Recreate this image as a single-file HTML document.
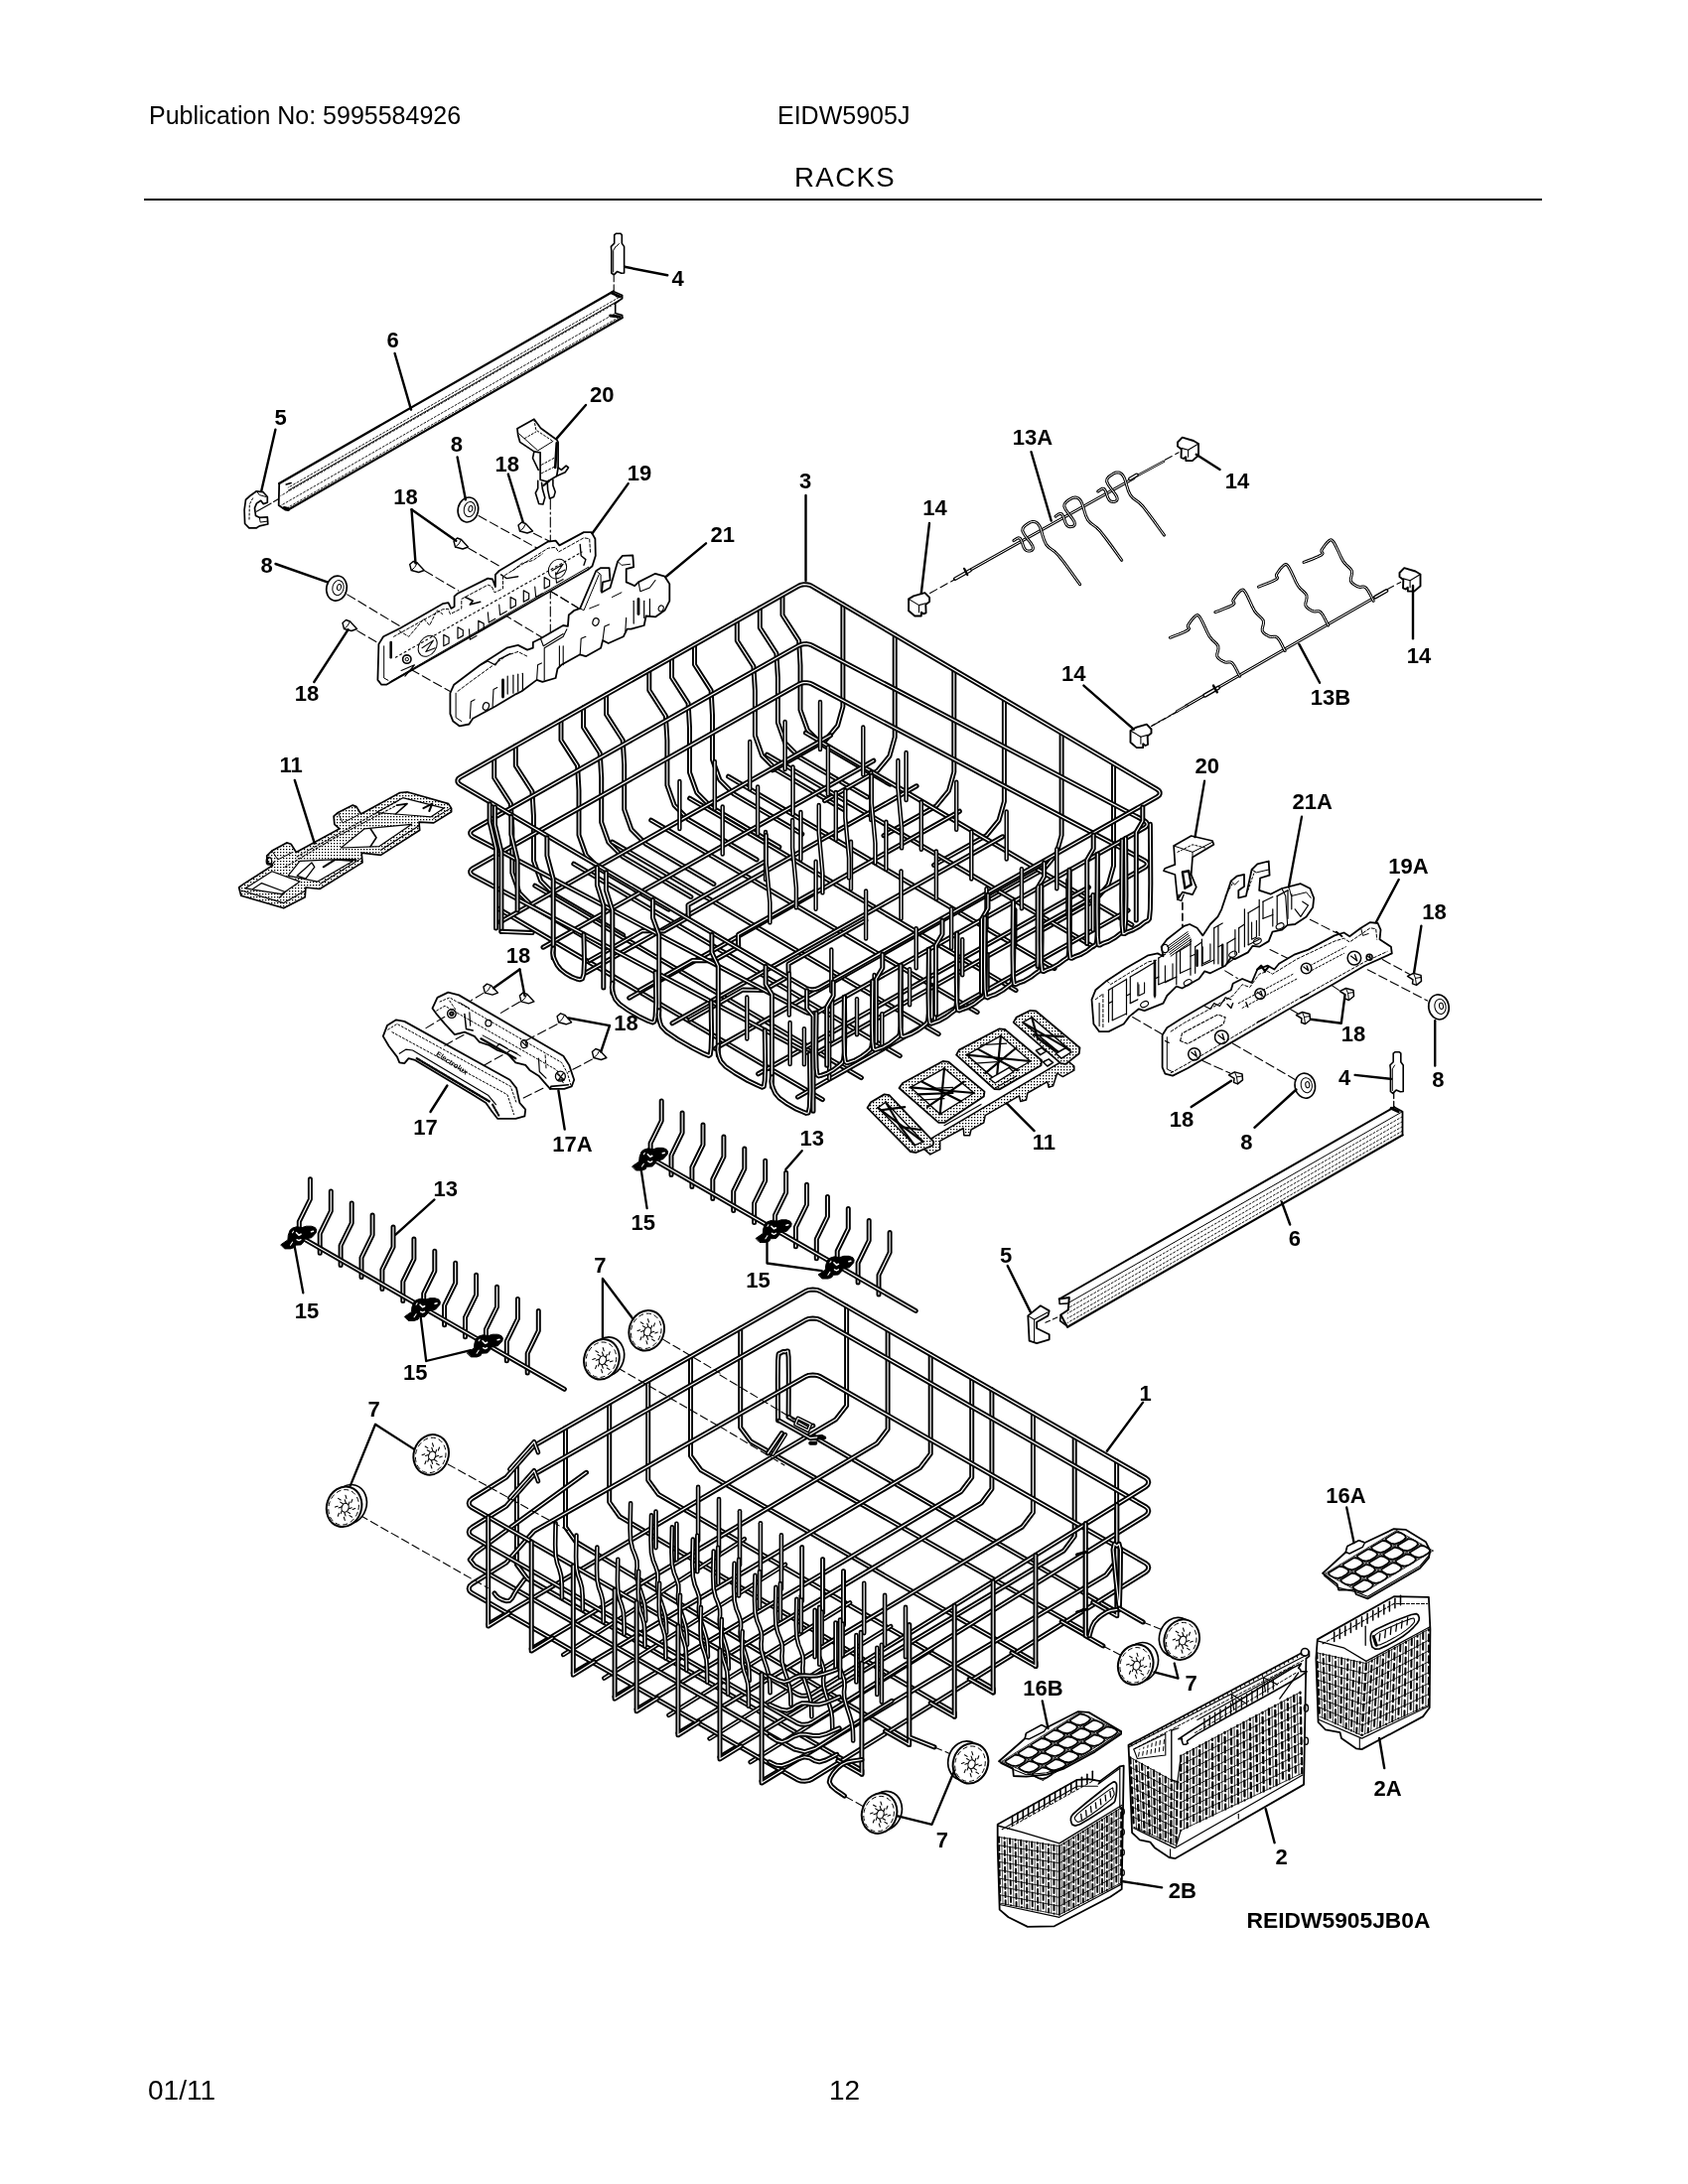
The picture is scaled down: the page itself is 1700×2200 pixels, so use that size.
<!DOCTYPE html>
<html lang="en"><head><meta charset="utf-8"><title>RACKS - EIDW5905J</title>
<style>
html,body{margin:0;padding:0;background:#fff}
body{width:1700px;height:2200px;position:relative;overflow:hidden;font-family:"Liberation Sans",sans-serif;color:#000}
.hd{will-change:transform;position:absolute;white-space:nowrap;font-size:25px;line-height:1}
#rule{position:absolute;left:145px;top:199.6px;width:1408px;height:2.4px;background:#000}
svg{position:absolute;left:0;top:0;will-change:transform}
svg path{stroke-linejoin:round;stroke-linecap:round}
svg text{font-family:"Liberation Sans",sans-serif;fill:#000}
svg text.lb{font-weight:bold}
svg text.bd{font-weight:bold}
</style></head><body>
<div class="hd" style="left:149.6px;top:103.5px">Publication No: 5995584926</div>
<div class="hd" style="left:783.3px;top:103.5px">EIDW5905J</div>
<div class="hd" style="left:799.8px;top:165.4px;font-size:27.6px;letter-spacing:1.4px">RACKS</div>
<div id="rule"></div>
<div class="hd" style="left:148.8px;top:2092px;font-size:28px">01/11</div>
<div class="hd" style="left:835.2px;top:2092px;font-size:28px">12</div>
<svg width="1700" height="2200" viewBox="0 0 1700 2200">
<defs><pattern id="ht" width="3" height="3" patternUnits="userSpaceOnUse"><rect width="3" height="3" fill="#fff"/><rect x="0" y="0" width="1.3" height="1.3" fill="#000"/></pattern></defs>
<path d="M617.7 293.5 281.2 487" fill="none" stroke="#000" stroke-width="2.2"/>
<path d="M626.7 297.7 290.2 491.2" fill="none" stroke="#000" stroke-width="0.9" stroke-dasharray="2 2"/>
<path d="M626.7 300.6 290.2 494.1" fill="none" stroke="#000" stroke-width="1"/>
<path d="M619.4 305.8 282.9 499.3" fill="none" stroke="#000" stroke-width="0.9" stroke-dasharray="2 2"/>
<path d="M619.4 315.7 282.9 509.2" fill="none" stroke="#000" stroke-width="0.9" stroke-dasharray="2 2"/>
<path d="M626.7 317.6 290.2 511.1" fill="none" stroke="#000" stroke-width="0.9" stroke-dasharray="2 2"/>
<path d="M626.7 320 290.2 513.5" fill="none" stroke="#000" stroke-width="2.2"/>
<path d="M617.7 293.5 626.7 297.5 626.7 300.6 619.7 305.5 619.7 315.5 626.7 317.5 626.7 320" fill="none" stroke="#000" stroke-width="1.6"/>
<path d="M615.7 295 624.7 299 620.7 298" fill="none" stroke="#000" stroke-width="2.5"/>
<path d="M614.7 318 623.7 319" fill="none" stroke="#000" stroke-width="3"/>
<path d="M281.2 487 280.7 509 287.2 513.5 290.7 514" fill="none" stroke="#000" stroke-width="1.8"/>
<path d="M286.2 511.5 290.2 512.5" fill="none" stroke="#000" stroke-width="3"/>
<path d="M288.2 488 293.2 486.5" fill="none" stroke="#000" stroke-width="1.5"/>
<path d="M618.7 236.6 620.6 235.2 624.8 235.2 626.3 236.6 626.3 245.1 628.6 248.4 628.6 275 625.8 275.3 621.5 273.6 618.2 276.9 615.8 275 615.8 252.7 615.4 248.4 618.7 245.1Z" fill="none" stroke="#000" stroke-width="1.6"/>
<path d="M620.1 248.4 617.7 252.2 617.7 274" fill="none" stroke="#000" stroke-width="1"/>
<path d="M620.6 248.4 623.4 245.6" fill="none" stroke="#000" stroke-width="1"/>
<path d="M618.2 277.8 618.2 294.9" fill="none" stroke="#000" stroke-width="1.1" stroke-dasharray="6 3"/>
<path d="M629.1 268.8 672.2 277.3" fill="none" stroke="#000" stroke-width="2.4"/>
<text class="lb" x="682.7" y="288.2" text-anchor="middle" font-size="22">4</text>
<path d="M247.5 503.3 251.8 499.5 258.4 494.8 265.1 495.7 269.3 500.5 269.3 506.2 265.1 507.6 262.7 504.3 258.4 507.1 256.5 511.8 257.5 519.4 261.3 521.3 269.3 520.9 269.8 528 261.3 529.9 258.4 531.8 250.9 531.8 246.6 527.5 246.1 513.7Z" fill="none" stroke="#000" stroke-width="1.7"/>
<path d="M254.6 501.9 251.3 508.1 251 523.2" fill="none" stroke="#000" stroke-width="1" stroke-dasharray="2 2"/>
<path d="M258.4 494.8 261.3 498.6 267.9 500.5" fill="none" stroke="#000" stroke-width="1"/>
<path d="M261.3 521.3 262.2 526.1 269.3 525.1" fill="none" stroke="#000" stroke-width="1"/>
<path d="M258.4 515.2 273.1 507.1" fill="none" stroke="#000" stroke-width="1.1"/>
<path d="M275.5 505.4 280.2 502.8" fill="none" stroke="#000" stroke-width="1.1"/>
<path d="M277.4 432.7 263.2 494.8" fill="none" stroke="#000" stroke-width="2.4"/>
<text class="lb" x="282.6" y="427.5" text-anchor="middle" font-size="22">5</text>
<path d="M397.6 356 414 412.6" fill="none" stroke="#000" stroke-width="2.4"/>
<text class="lb" x="395.5" y="349.7" text-anchor="middle" font-size="22">6</text>
<path d="M520.9 431.7 537.9 422.2 544.5 431.2 560.7 443 562.1 445.4 562.1 471 560.7 479.5 551.2 485.2 544.1 483.3 544.1 455.8 537.9 454.9 523.7 445.4 521.8 438.8Z" fill="none" stroke="#000" stroke-width="1.7"/>
<path d="M522.7 436.9 541.7 453.9 556.9 444.5" fill="none" stroke="#000" stroke-width="1"/>
<path d="M537.9 422.7 539.8 433.1 556.9 444.5" fill="none" stroke="#000" stroke-width="1" stroke-dasharray="2 2"/>
<path d="M528.4 441.6 539.8 435" fill="none" stroke="#000" stroke-width="1" stroke-dasharray="2 2"/>
<path d="M545.5 468.2 557.8 461.5" fill="none" stroke="#000" stroke-width="1" stroke-dasharray="2 2"/>
<path d="M545.5 476.7 558.8 470" fill="none" stroke="#000" stroke-width="1" stroke-dasharray="2 2"/>
<path d="M560.7 446.4 559.2 471" fill="none" stroke="#000" stroke-width="2.6"/>
<path d="M537.9 454.9 536.5 461.5 542.2 473.4" fill="none" stroke="#000" stroke-width="1.6"/>
<path d="M562.1 471 565.4 473.4 570.1 469.1 572.5 471 569.2 475.7 560.7 479.5" fill="none" stroke="#000" stroke-width="1.6"/>
<path d="M541.7 484.3 541.7 491.8 539.3 496.6 542.7 507.5 546.9 508 548.8 501.3 546.4 492.8 545.5 486.2" fill="none" stroke="#000" stroke-width="1.6"/>
<path d="M551.2 485.2 551.7 493.7 553.6 502.3 557.8 500.4 559.2 495.6 556.9 489 556.9 483.3" fill="none" stroke="#000" stroke-width="1.6"/>
<path d="M547.4 489 553.1 484.3" fill="none" stroke="#000" stroke-width="2.2"/>
<path d="M590 408 560.7 441.6" fill="none" stroke="#000" stroke-width="2.4"/>
<text class="lb" x="606.2" y="404.6" text-anchor="middle" font-size="22">20</text>
<path d="M554.3 503 554.3 646" fill="none" stroke="#000" stroke-width="1.1" stroke-dasharray="10 3 2 3"/>
<ellipse cx="471.4" cy="513.5" rx="10.2" ry="12.6" transform="rotate(12 471.4 513.5)" fill="none" stroke="#000" stroke-width="1.6"/>
<ellipse cx="472.9" cy="513" rx="5.6" ry="7.6" transform="rotate(12 472.9 513)" fill="none" stroke="#000" stroke-width="1"/>
<ellipse cx="473.9" cy="512.5" rx="2" ry="3.1" transform="rotate(12 473.9 512.5)" fill="none" stroke="#000" stroke-width="1"/>
<ellipse cx="339" cy="592.6" rx="10.2" ry="12.6" transform="rotate(12 339 592.6)" fill="none" stroke="#000" stroke-width="1.6"/>
<ellipse cx="340.5" cy="592.1" rx="5.6" ry="7.6" transform="rotate(12 340.5 592.1)" fill="none" stroke="#000" stroke-width="1"/>
<ellipse cx="341.5" cy="591.6" rx="2" ry="3.1" transform="rotate(12 341.5 591.6)" fill="none" stroke="#000" stroke-width="1"/>
<path d="M460.6 460.4 468.9 503.2" fill="none" stroke="#000" stroke-width="2.4"/>
<text class="lb" x="459.8" y="454.6" text-anchor="middle" font-size="22">8</text>
<path d="M277.5 568 329.7 586.3" fill="none" stroke="#000" stroke-width="2.4"/>
<text class="lb" x="268.5" y="577" text-anchor="middle" font-size="22">8</text>
<path d="M522 529 525.5 526 529.5 527.5 536.5 535 531 537 523.5 535Z" fill="none" stroke="#000" stroke-width="1.4"/>
<path d="M529.5 527.5 527 532 523.5 535" fill="none" stroke="#000" stroke-width="1"/>
<path d="M457 545 460.5 542 464.5 543.5 471.5 551 466 553 458.5 551Z" fill="none" stroke="#000" stroke-width="1.4"/>
<path d="M464.5 543.5 462 548 458.5 551" fill="none" stroke="#000" stroke-width="1"/>
<path d="M412.7 568.5 416.2 565.5 420.2 567 427.2 574.5 421.7 576.5 414.2 574.5Z" fill="none" stroke="#000" stroke-width="1.4"/>
<path d="M420.2 567 417.7 571.5 414.2 574.5" fill="none" stroke="#000" stroke-width="1"/>
<path d="M345 627.5 348.5 624.5 352.5 626 359.5 633.5 354 635.5 346.5 633.5Z" fill="none" stroke="#000" stroke-width="1.4"/>
<path d="M352.5 626 350 630.5 346.5 633.5" fill="none" stroke="#000" stroke-width="1"/>
<path d="M511.8 477.6 526.8 526" fill="none" stroke="#000" stroke-width="2.4"/>
<text class="lb" x="510.8" y="474.5" text-anchor="middle" font-size="22">18</text>
<path d="M414.5 513.3 459.3 544.8" fill="none" stroke="#000" stroke-width="2.4"/>
<path d="M414.5 513.3 418.5 567.4" fill="none" stroke="#000" stroke-width="2.4"/>
<text class="lb" x="408.5" y="507.8" text-anchor="middle" font-size="22">18</text>
<path d="M316.3 687 350.6 634.2" fill="none" stroke="#000" stroke-width="2.4"/>
<text class="lb" x="309" y="706" text-anchor="middle" font-size="22">18</text>
<path d="M349.8 598.9 406.4 632.9" fill="none" stroke="#000" stroke-width="1.1" stroke-dasharray="9 4"/>
<path d="M359.9 635.4 381.3 648" fill="none" stroke="#000" stroke-width="1.1" stroke-dasharray="9 4"/>
<path d="M482 519.6 552.5 558.6" fill="none" stroke="#000" stroke-width="1.1" stroke-dasharray="9 4"/>
<path d="M537.4 537.2 557.5 547.3" fill="none" stroke="#000" stroke-width="1.1" stroke-dasharray="9 4"/>
<path d="M471.9 552.3 504.6 571.2" fill="none" stroke="#000" stroke-width="1.1" stroke-dasharray="9 4"/>
<path d="M427.8 575 461.8 595.1" fill="none" stroke="#000" stroke-width="1.1" stroke-dasharray="9 4"/>
<path d="M414 674.4 454.3 697.1" fill="none" stroke="#000" stroke-width="1.1" stroke-dasharray="9 4"/>
<path d="M484.5 605.2 547.4 643" fill="none" stroke="#000" stroke-width="1.1" stroke-dasharray="9 4"/>
<path d="M553.7 595.1 582.7 612.7" fill="none" stroke="#000" stroke-width="1.1" stroke-dasharray="9 4"/>
<path d="M381.4 648.9 386.1 641.3 403.2 632.8 445.8 608.2 451.5 607.2 454.4 612.9 457.6 611 457.6 600.6 461 597.7 491.3 582.6 496.1 583.5 498.9 591.1 498.9 578.8 502.7 575 552 545.6 559.6 544.6 563.4 549.4 588 536.1 595.6 536.1 599.4 542.7 599.8 559.8 596.5 570.2 591.8 574 389 689.7 384.2 689.7 380.4 684.9Z" fill="#fff" stroke="#000" stroke-width="1.8"/>
<path d="M386.7 650.8 386.7 683 390.9 685.3" fill="none" stroke="#000" stroke-width="1"/>
<path d="M392.7 686.8 592.7 571.2" fill="none" stroke="#000" stroke-width="1"/>
<path d="M396.5 641.3 445.8 613.8 451.5 613.3 453.4 618.6 464.8 612.9 464.8 603.4 491.3 589.2 495.1 590.5 498 596.8 506.5 593 506.5 580.7 552 552.2 559.6 551.3 562.4 556 588 541.8 593.7 542.7 594.6 557.9" fill="none" stroke="#000" stroke-width="1" stroke-dasharray="3 2"/>
<path d="M398.4 662.2 586.1 556" fill="none" stroke="#000" stroke-width="1.1" stroke-dasharray="2 3"/>
<path d="M393.7 647 393.7 662.2" fill="none" stroke="#000" stroke-width="2.6"/>
<path d="M446.8 639.4 446.8 650.8 452.1 648 452.1 642.3Z" fill="none" stroke="#000" stroke-width="1.2"/>
<path d="M461 631.8 461 643.2 466.3 640.4 466.3 634.7Z" fill="none" stroke="#000" stroke-width="1.2"/>
<path d="M481.8 625.2 481.8 636.6 487.2 633.7 487.2 628.1Z" fill="none" stroke="#000" stroke-width="1.2"/>
<path d="M514.1 601.5 514.1 612.9 519.4 610 519.4 604.4Z" fill="none" stroke="#000" stroke-width="1.2"/>
<path d="M527.3 594.9 527.3 606.3 532.7 603.4 532.7 597.7Z" fill="none" stroke="#000" stroke-width="1.2"/>
<path d="M548.2 581.6 548.2 593 553.5 590.1 553.5 584.5Z" fill="none" stroke="#000" stroke-width="1.2"/>
<path d="M472.4 633.7 473.3 644.2 480 640.4" fill="none" stroke="#000" stroke-width="1.1"/>
<path d="M491.3 616.7 492.3 627.1 498.9 623.3" fill="none" stroke="#000" stroke-width="1.1"/>
<path d="M502.7 609.1 503.6 619.5 510.3 615.7" fill="none" stroke="#000" stroke-width="1.1"/>
<path d="M538.7 591.1 539.7 601.5 546.3 597.7" fill="none" stroke="#000" stroke-width="1.1"/>
<path d="M559.6 576.9 560.5 587.3 567.2 583.5" fill="none" stroke="#000" stroke-width="1.1"/>
<ellipse cx="409.8" cy="664.1" rx="4.2" ry="4.2" transform="rotate(0 409.8 664.1)" fill="none" stroke="#000" stroke-width="1.6"/>
<ellipse cx="409.8" cy="664.1" rx="1.7" ry="1.7" transform="rotate(0 409.8 664.1)" fill="none" stroke="#000" stroke-width="1"/>
<ellipse cx="430.7" cy="650.8" rx="8.5" ry="11.4" transform="rotate(35 430.7 650.8)" fill="none" stroke="#000" stroke-width="1"/>
<ellipse cx="561.5" cy="573.1" rx="8.5" ry="10.4" transform="rotate(35 561.5 573.1)" fill="none" stroke="#000" stroke-width="1"/>
<path d="M425 652.7 436.4 645.1 428.8 656.5 438.2 652.7" fill="none" stroke="#000" stroke-width="1.1"/>
<path d="M555.8 575 567.2 568.3 559.6 578.8 569.1 574" fill="none" stroke="#000" stroke-width="1.1"/>
<path d="M468.6 601.5 476.2 605.3 473.3 609.1 483.7 606.3" fill="none" stroke="#000" stroke-width="1.6"/>
<path d="M504.6 578.8 510.3 582.6 521.7 580.7" fill="none" stroke="#000" stroke-width="1.4"/>
<path d="M584.2 548.4 585.2 559.8 589.9 563.6 588 569.3" fill="none" stroke="#000" stroke-width="1.4"/>
<path d="M402.2 635.6 411.7 641.3 426.9 623.3 432.6 630 440.1 614.8 445.8 618.6" fill="none" stroke="#000" stroke-width="1" stroke-dasharray="3 2"/>
<path d="M516 575 525.5 567.4 536.8 564.5 546.3 557.9" fill="none" stroke="#000" stroke-width="1" stroke-dasharray="3 2"/>
<path d="M404.1 675.5 417.4 669.8 407.9 681.1" fill="none" stroke="#000" stroke-width="1.2"/>
<path d="M632.7 487.1 596.5 537.2" fill="none" stroke="#000" stroke-width="2.4"/>
<text class="lb" x="644" y="483.8" text-anchor="middle" font-size="22">19</text>
<path d="M453.4 698.2 457.2 689.7 472.4 678.3 483.7 669.8 510.3 652.7 521.7 649.9 531.1 654.6 536.8 652.7 536.8 647 544.4 643.2 567.2 630 571.9 630.9 572.8 619.5 578.5 614.8 584.2 612.9 600.3 575 605.1 572.1 613.6 572.1 614.5 584.5 607 586.4 606 596.8 614.5 592 622.1 565.5 626.9 559.8 637.3 559.4 638.2 571.2 630.7 573.1 630.7 586.4 639.2 590.1 643 586.4 660 577.8 669.5 580.7 674.3 588.2 674.3 605.3 669.5 614.8 660 621.4 650.6 620.5 648.7 630 635.4 633.7 631.6 633.7 627.8 641.3 612.7 648 607 645.1 605.1 652.7 589.9 661.2 584.2 659.3 565.3 669.8 561.5 673.6 559.6 683 546.3 686.8 540.6 684.9 525.5 696.3 519.8 699.1 498.9 711.5 476.2 723.8 472.4 729.5 462.9 731.4 456.3 726.6 453.4 719.1Z" fill="#fff" stroke="#000" stroke-width="1.8"/>
<path d="M459.1 698.2 459.1 722.8 464.8 726.6" fill="none" stroke="#000" stroke-width="1"/>
<path d="M461 696.3 476.2 684.9 510.3 660.3 521.7 656.5 531.1 661.2" fill="none" stroke="#000" stroke-width="1" stroke-dasharray="3 2"/>
<path d="M473.3 723.8 474.3 706.7 478.1 704.8" fill="none" stroke="#000" stroke-width="1.1"/>
<path d="M496.1 711.5 497 694.4 500.8 692.5" fill="none" stroke="#000" stroke-width="1.1"/>
<path d="M506.5 684.9 506.5 702" fill="none" stroke="#000" stroke-width="2.8"/>
<path d="M511.2 681.1 511.2 699.1" fill="none" stroke="#000" stroke-width="1.2"/>
<path d="M516.9 680.2 516.9 698.2" fill="none" stroke="#000" stroke-width="1.2"/>
<path d="M521.7 679.2 521.7 696.3" fill="none" stroke="#000" stroke-width="1.2"/>
<path d="M526.4 678.3 526.4 695.4" fill="none" stroke="#000" stroke-width="1.2"/>
<path d="M540.6 684.9 541.6 669.8 545.4 667.9" fill="none" stroke="#000" stroke-width="1.1"/>
<path d="M548.2 684.9 548.2 652.7 567.2 641.3 570.9 633.7" fill="none" stroke="#000" stroke-width="1.1"/>
<path d="M563.4 671.7 563.4 650.8" fill="none" stroke="#000" stroke-width="1.1"/>
<path d="M567.2 669.8 567.2 650.8" fill="none" stroke="#000" stroke-width="1.1"/>
<path d="M584.2 659.3 585.2 643.2 589.9 641.3" fill="none" stroke="#000" stroke-width="1.1"/>
<path d="M607 645.1 608.9 630.9 613.6 629" fill="none" stroke="#000" stroke-width="1.1"/>
<path d="M629.7 637.5 630.7 622.4" fill="none" stroke="#000" stroke-width="1.1"/>
<path d="M643 603.4 643 618.6" fill="none" stroke="#000" stroke-width="2.8"/>
<path d="M638.2 605.3 638.2 628.1" fill="none" stroke="#000" stroke-width="1.2"/>
<path d="M648.7 605.3 648.7 622.4" fill="none" stroke="#000" stroke-width="1.2"/>
<path d="M654.4 603.4 654.4 620.5" fill="none" stroke="#000" stroke-width="1.2"/>
<path d="M643 586.4 644.9 595.8 654.4 592 660 584.5" fill="none" stroke="#000" stroke-width="1.1"/>
<ellipse cx="489.4" cy="711.5" rx="3" ry="3.8" transform="rotate(20 489.4 711.5)" fill="none" stroke="#000" stroke-width="1.2"/>
<ellipse cx="600" cy="626.5" rx="3" ry="3.8" transform="rotate(20 600 626.5)" fill="none" stroke="#000" stroke-width="1.2"/>
<ellipse cx="665.7" cy="612.9" rx="2.5" ry="3" transform="rotate(20 665.7 612.9)" fill="none" stroke="#000" stroke-width="1"/>
<path d="M600.3 575 605.1 578.8 605.1 595.8" fill="none" stroke="#000" stroke-width="1"/>
<path d="M622.1 565.5 625.9 569.3 634.5 568.3" fill="none" stroke="#000" stroke-width="1"/>
<path d="M584.2 612.9 588 614.8 603.2 578.8" fill="none" stroke="#000" stroke-width="1"/>
<path d="M483.7 669.8 491.3 666 498.9 669.8 502.7 664.1 514.1 658.4" fill="none" stroke="#000" stroke-width="1.3"/>
<path d="M544.4 643.2 547.3 650.8 567.2 638.5" fill="none" stroke="#000" stroke-width="1.1"/>
<path d="M593.7 612.9 603.2 609.1" fill="none" stroke="#000" stroke-width="1"/>
<path d="M616.4 601.5 625.9 596.8" fill="none" stroke="#000" stroke-width="1"/>
<path d="M711 547.3 671.2 580.5" fill="none" stroke="#000" stroke-width="2.4"/>
<text class="lb" x="727.8" y="546.3" text-anchor="middle" font-size="22">21</text>
<path d="M553.7 595.1 582.7 612.7" fill="none" stroke="#000" stroke-width="1.1" stroke-dasharray="9 4"/>
<path d="M978.1 573.6 1141.8 481.7" fill="none" stroke="#000" stroke-width="3"/>
<path d="M978.1 573.6 1141.8 481.7" fill="none" stroke="#fff" stroke-width="1"/>
<path d="M1143 480.4 1172 464.8" fill="none" stroke="#000" stroke-width="2.4"/>
<path d="M1143 480.4 1172 464.8" fill="none" stroke="#fff" stroke-width="0.8"/>
<path d="M961.8 583.1 976.9 574.6" fill="none" stroke="#000" stroke-width="3.8"/>
<path d="M961.8 583.1 976.9 574.6" fill="none" stroke="#fff" stroke-width="1.4"/>
<path d="M971.1 572.8 974.3 579.1" fill="none" stroke="#000" stroke-width="2.2"/>
<path d="M1138 482.4 1144.8 478.4" fill="none" stroke="#000" stroke-width="3.8"/>
<path d="M1138 482.4 1144.8 478.4" fill="none" stroke="#fff" stroke-width="1.4"/>
<path d="M1020.9 544.6 1022.1 543.8 1023.7 542.7 1025.6 541.8 1027.2 542.1 1028.5 544.2 1029.7 547.5 1030.9 551 1032.2 553.4 1033.8 554.6 1035.6 555.1 1037.3 555.1 1038.5 554.7 1039.5 554.1 1040.2 553.2 1040.4 551.8 1039.8 549.7 1037.7 546.4 1034.4 542.3 1031.4 538 1029.7 534.6 1030.2 532 1031.9 529.9 1034.1 528.3 1036 527 1037.6 526.1 1039.2 525.6 1040.8 525.5 1042.3 525.7 1043.6 526.3 1044.8 527.1 1046 528.5 1047.4 530.8 1048.7 534.4 1050 539.2 1051.6 544.1 1053.6 548.4 1056.1 551.3 1059 553.4 1062.3 555.8 1066.2 559.7 1071.5 566.4 1077.7 574.9 1083.6 583.1 1087.6 588.7" fill="none" stroke="#000" stroke-width="3"/>
<path d="M1020.9 544.6 1022.1 543.8 1023.7 542.7 1025.6 541.8 1027.2 542.1 1028.5 544.2 1029.7 547.5 1030.9 551 1032.2 553.4 1033.8 554.6 1035.6 555.1 1037.3 555.1 1038.5 554.7 1039.5 554.1 1040.2 553.2 1040.4 551.8 1039.8 549.7 1037.7 546.4 1034.4 542.3 1031.4 538 1029.7 534.6 1030.2 532 1031.9 529.9 1034.1 528.3 1036 527 1037.6 526.1 1039.2 525.6 1040.8 525.5 1042.3 525.7 1043.6 526.3 1044.8 527.1 1046 528.5 1047.4 530.8 1048.7 534.4 1050 539.2 1051.6 544.1 1053.6 548.4 1056.1 551.3 1059 553.4 1062.3 555.8 1066.2 559.7 1071.5 566.4 1077.7 574.9 1083.6 583.1 1087.6 588.7" fill="none" stroke="#fff" stroke-width="1"/>
<path d="M1063 520.2 1064.1 519.4 1065.8 518.2 1067.6 517.4 1069.3 517.7 1070.6 519.8 1071.8 523.1 1073 526.6 1074.3 529 1075.9 530.2 1077.7 530.7 1079.3 530.6 1080.6 530.3 1081.5 529.7 1082.2 528.8 1082.4 527.4 1081.8 525.2 1079.7 522 1076.5 517.8 1073.4 513.6 1071.8 510.1 1072.2 507.6 1073.9 505.5 1076.1 503.8 1078.1 502.6 1079.7 501.7 1081.3 501.2 1082.9 501 1084.4 501.3 1085.7 501.8 1086.9 502.7 1088.1 504.1 1089.4 506.4 1090.7 510 1092.1 514.8 1093.6 519.7 1095.7 524 1098.2 526.8 1101 528.9 1104.4 531.4 1108.3 535.3 1113.5 542 1119.8 550.5 1125.6 558.6 1129.7 564.3" fill="none" stroke="#000" stroke-width="3"/>
<path d="M1063 520.2 1064.1 519.4 1065.8 518.2 1067.6 517.4 1069.3 517.7 1070.6 519.8 1071.8 523.1 1073 526.6 1074.3 529 1075.9 530.2 1077.7 530.7 1079.3 530.6 1080.6 530.3 1081.5 529.7 1082.2 528.8 1082.4 527.4 1081.8 525.2 1079.7 522 1076.5 517.8 1073.4 513.6 1071.8 510.1 1072.2 507.6 1073.9 505.5 1076.1 503.8 1078.1 502.6 1079.7 501.7 1081.3 501.2 1082.9 501 1084.4 501.3 1085.7 501.8 1086.9 502.7 1088.1 504.1 1089.4 506.4 1090.7 510 1092.1 514.8 1093.6 519.7 1095.7 524 1098.2 526.8 1101 528.9 1104.4 531.4 1108.3 535.3 1113.5 542 1119.8 550.5 1125.6 558.6 1129.7 564.3" fill="none" stroke="#fff" stroke-width="1"/>
<path d="M1105.8 495 1106.9 494.2 1108.6 493.1 1110.4 492.2 1112.1 492.5 1113.4 494.6 1114.6 497.9 1115.8 501.4 1117.1 503.8 1118.7 505 1120.5 505.5 1122.1 505.5 1123.4 505.1 1124.3 504.5 1125 503.6 1125.2 502.2 1124.6 500.1 1122.5 496.8 1119.3 492.7 1116.2 488.4 1114.6 485 1115 482.4 1116.7 480.3 1118.9 478.7 1120.9 477.4 1122.5 476.5 1124.1 476 1125.7 475.9 1127.2 476.1 1128.5 476.7 1129.7 477.5 1130.9 478.9 1132.2 481.2 1133.5 484.8 1134.9 489.6 1136.4 494.5 1138.5 498.8 1141 501.7 1143.8 503.8 1147.2 506.2 1151.1 510.1 1156.3 516.8 1162.6 525.3 1168.4 533.5 1172.5 539.1" fill="none" stroke="#000" stroke-width="3"/>
<path d="M1105.8 495 1106.9 494.2 1108.6 493.1 1110.4 492.2 1112.1 492.5 1113.4 494.6 1114.6 497.9 1115.8 501.4 1117.1 503.8 1118.7 505 1120.5 505.5 1122.1 505.5 1123.4 505.1 1124.3 504.5 1125 503.6 1125.2 502.2 1124.6 500.1 1122.5 496.8 1119.3 492.7 1116.2 488.4 1114.6 485 1115 482.4 1116.7 480.3 1118.9 478.7 1120.9 477.4 1122.5 476.5 1124.1 476 1125.7 475.9 1127.2 476.1 1128.5 476.7 1129.7 477.5 1130.9 478.9 1132.2 481.2 1133.5 484.8 1134.9 489.6 1136.4 494.5 1138.5 498.8 1141 501.7 1143.8 503.8 1147.2 506.2 1151.1 510.1 1156.3 516.8 1162.6 525.3 1168.4 533.5 1172.5 539.1" fill="none" stroke="#fff" stroke-width="1"/>
<path d="M1207 447 1202 444 1190.7 440.7 1186 445.5 1186 449.6 1189.8 452.6 1189.5 460.9 1191.9 462 1194.3 460.3 1194.3 464.1 1200.8 464.1 1207 458.8Z" fill="#fff" stroke="#000" stroke-width="1.9"/>
<path d="M1207 447 1196.6 453.2 1189.8 451.4" fill="none" stroke="#000" stroke-width="1.1"/>
<path d="M1196.6 453.2 1196.6 460.3" fill="none" stroke="#000" stroke-width="1.1"/>
<path d="M915.1 603.4 920.1 600.4 931.4 597.1 936.1 601.9 936.1 606 932.3 609 932.6 617.3 930.2 618.4 927.8 616.7 927.8 620.5 921.3 620.5 915.1 615.2Z" fill="#fff" stroke="#000" stroke-width="1.9"/>
<path d="M915.1 603.4 925.5 609.6 932.3 607.8" fill="none" stroke="#000" stroke-width="1.1"/>
<path d="M925.5 609.6 925.5 616.7" fill="none" stroke="#000" stroke-width="1.1"/>
<path d="M1138.5 736 1143.5 733 1154.8 729.7 1159.5 734.5 1159.5 738.6 1155.7 741.6 1156 749.9 1153.6 751 1151.2 749.3 1151.2 753.1 1144.7 753.1 1138.5 747.8Z" fill="#fff" stroke="#000" stroke-width="1.9"/>
<path d="M1138.5 736 1148.9 742.2 1155.7 740.4" fill="none" stroke="#000" stroke-width="1.1"/>
<path d="M1148.9 742.2 1148.9 749.3" fill="none" stroke="#000" stroke-width="1.1"/>
<path d="M1173.2 463.3 1187.1 455.8" fill="none" stroke="#000" stroke-width="1.1" stroke-dasharray="8 4"/>
<path d="M936.6 597.5 961.8 583.6" fill="none" stroke="#000" stroke-width="1.1" stroke-dasharray="8 4"/>
<path d="M1160.6 730.9 1185.8 717.1" fill="none" stroke="#000" stroke-width="1.1" stroke-dasharray="8 4"/>
<path d="M1204.7 457.8 1228.6 472.9" fill="none" stroke="#000" stroke-width="2.4"/>
<text class="lb" x="1246" y="491.8" text-anchor="middle" font-size="22">14</text>
<path d="M936 527 927.8 597.5" fill="none" stroke="#000" stroke-width="2.4"/>
<text class="lb" x="941.5" y="519.4" text-anchor="middle" font-size="22">14</text>
<path d="M1038.5 455.2 1058.7 524.5" fill="none" stroke="#000" stroke-width="2.4"/>
<text class="lb" x="1040" y="448.2" text-anchor="middle" font-size="22">13A</text>
<path d="M1091.4 690.6 1141.8 734.7" fill="none" stroke="#000" stroke-width="2.4"/>
<text class="lb" x="1081.3" y="686.4" text-anchor="middle" font-size="22">14</text>
<path d="M1194.5 711.1 1395.5 595.5" fill="none" stroke="#000" stroke-width="3"/>
<path d="M1194.5 711.1 1395.5 595.5" fill="none" stroke="#fff" stroke-width="1"/>
<path d="M1185.1 716.6 1195.5 710.7" fill="none" stroke="#000" stroke-width="2.6"/>
<path d="M1185.1 716.6 1195.5 710.7" fill="none" stroke="#fff" stroke-width="0.8"/>
<path d="M1213.5 700.5 1226.8 692.9" fill="none" stroke="#000" stroke-width="4.4"/>
<path d="M1213.5 700.5 1226.8 692.9" fill="none" stroke="#fff" stroke-width="1.6"/>
<path d="M1222 690.6 1225.8 697.3" fill="none" stroke="#000" stroke-width="2.4"/>
<path d="M1385.1 601.5 1396.4 595.1" fill="none" stroke="#000" stroke-width="4"/>
<path d="M1385.1 601.5 1396.4 595.1" fill="none" stroke="#fff" stroke-width="1.4"/>
<path d="M1248.6 681.1 1247.2 678.5 1245.3 674.6 1243.1 670.6 1241 667.9 1239.1 666.9 1237.2 666.9 1235.3 667.2 1233.4 666.9 1231.3 665.9 1229.1 664.7 1227.1 663.1 1225.8 661.2 1225.7 658.9 1226.4 656.3 1227 653.5 1226.8 650.8 1225.3 648.6 1223.2 646.6 1220.7 644.3 1218.2 641.3 1215.8 636.9 1213.3 631.4 1210.8 626.1 1208.8 622.4 1207.3 620.4 1206.3 619.6 1205.3 619.7 1204 620.5 1202.2 622.2 1199.9 624.8 1197.9 627.6 1196.4 630 1196.3 631.4 1197.1 632.4 1197.5 633.4 1196.4 634.7 1192.8 636.6 1187.4 638.8 1182.1 640.8 1178.4 642.3" fill="none" stroke="#000" stroke-width="3"/>
<path d="M1248.6 681.1 1247.2 678.5 1245.3 674.6 1243.1 670.6 1241 667.9 1239.1 666.9 1237.2 666.9 1235.3 667.2 1233.4 666.9 1231.3 665.9 1229.1 664.7 1227.1 663.1 1225.8 661.2 1225.7 658.9 1226.4 656.3 1227 653.5 1226.8 650.8 1225.3 648.6 1223.2 646.6 1220.7 644.3 1218.2 641.3 1215.8 636.9 1213.3 631.4 1210.8 626.1 1208.8 622.4 1207.3 620.4 1206.3 619.6 1205.3 619.7 1204 620.5 1202.2 622.2 1199.9 624.8 1197.9 627.6 1196.4 630 1196.3 631.4 1197.1 632.4 1197.5 633.4 1196.4 634.7 1192.8 636.6 1187.4 638.8 1182.1 640.8 1178.4 642.3" fill="none" stroke="#fff" stroke-width="1"/>
<path d="M1294.1 655.5 1292.7 652.9 1290.8 649 1288.6 645 1286.5 642.3 1284.6 641.3 1282.7 641.3 1280.8 641.6 1278.9 641.3 1276.8 640.3 1274.6 639.1 1272.6 637.5 1271.3 635.6 1271.2 633.3 1271.9 630.7 1272.5 627.9 1272.3 625.2 1270.8 623 1268.7 621 1266.2 618.7 1263.7 615.7 1261.3 611.3 1258.8 605.8 1256.3 600.5 1254.3 596.8 1252.8 594.8 1251.8 594.1 1250.8 594.2 1249.5 594.9 1247.7 596.6 1245.4 599.2 1243.4 602.1 1241.9 604.4 1241.8 605.8 1242.6 606.8 1243 607.8 1241.9 609.1 1238.3 611 1232.9 613.2 1227.6 615.3 1223.9 616.7" fill="none" stroke="#000" stroke-width="3"/>
<path d="M1294.1 655.5 1292.7 652.9 1290.8 649 1288.6 645 1286.5 642.3 1284.6 641.3 1282.7 641.3 1280.8 641.6 1278.9 641.3 1276.8 640.3 1274.6 639.1 1272.6 637.5 1271.3 635.6 1271.2 633.3 1271.9 630.7 1272.5 627.9 1272.3 625.2 1270.8 623 1268.7 621 1266.2 618.7 1263.7 615.7 1261.3 611.3 1258.8 605.8 1256.3 600.5 1254.3 596.8 1252.8 594.8 1251.8 594.1 1250.8 594.2 1249.5 594.9 1247.7 596.6 1245.4 599.2 1243.4 602.1 1241.9 604.4 1241.8 605.8 1242.6 606.8 1243 607.8 1241.9 609.1 1238.3 611 1232.9 613.2 1227.6 615.3 1223.9 616.7" fill="none" stroke="#fff" stroke-width="1"/>
<path d="M1337.7 630 1336.3 627.3 1334.4 623.4 1332.2 619.4 1330.1 616.7 1328.2 615.7 1326.3 615.7 1324.4 616 1322.5 615.7 1320.4 614.8 1318.2 613.5 1316.2 611.9 1314.9 610 1314.8 607.8 1315.5 605.1 1316.1 602.3 1315.9 599.6 1314.4 597.4 1312.3 595.4 1309.8 593.2 1307.3 590.1 1304.9 585.7 1302.4 580.2 1299.9 574.9 1297.9 571.2 1296.4 569.2 1295.4 568.5 1294.4 568.6 1293.1 569.3 1291.3 571 1289 573.6 1287 576.5 1285.5 578.8 1285.4 580.2 1286.2 581.3 1286.6 582.2 1285.5 583.5 1281.9 585.4 1276.5 587.6 1271.2 589.7 1267.5 591.1" fill="none" stroke="#000" stroke-width="3"/>
<path d="M1337.7 630 1336.3 627.3 1334.4 623.4 1332.2 619.4 1330.1 616.7 1328.2 615.7 1326.3 615.7 1324.4 616 1322.5 615.7 1320.4 614.8 1318.2 613.5 1316.2 611.9 1314.9 610 1314.8 607.8 1315.5 605.1 1316.1 602.3 1315.9 599.6 1314.4 597.4 1312.3 595.4 1309.8 593.2 1307.3 590.1 1304.9 585.7 1302.4 580.2 1299.9 574.9 1297.9 571.2 1296.4 569.2 1295.4 568.5 1294.4 568.6 1293.1 569.3 1291.3 571 1289 573.6 1287 576.5 1285.5 578.8 1285.4 580.2 1286.2 581.3 1286.6 582.2 1285.5 583.5 1281.9 585.4 1276.5 587.6 1271.2 589.7 1267.5 591.1" fill="none" stroke="#fff" stroke-width="1"/>
<path d="M1383.2 605.3 1381.8 602.6 1379.9 598.7 1377.7 594.8 1375.6 592 1373.7 591 1371.8 591.1 1369.9 591.4 1368 591.1 1365.9 590.1 1363.7 588.8 1361.7 587.3 1360.4 585.4 1360.3 583.1 1361 580.4 1361.6 577.6 1361.4 575 1359.9 572.8 1357.8 570.8 1355.3 568.5 1352.8 565.5 1350.4 561 1347.9 555.5 1345.4 550.3 1343.4 546.5 1341.9 544.6 1340.9 543.8 1339.9 543.9 1338.6 544.6 1336.8 546.3 1334.5 549 1332.5 551.8 1331 554.1 1330.9 555.6 1331.7 556.6 1332.1 557.6 1331 558.9 1327.4 560.7 1322 563 1316.7 565 1313 566.4" fill="none" stroke="#000" stroke-width="3"/>
<path d="M1383.2 605.3 1381.8 602.6 1379.9 598.7 1377.7 594.8 1375.6 592 1373.7 591 1371.8 591.1 1369.9 591.4 1368 591.1 1365.9 590.1 1363.7 588.8 1361.7 587.3 1360.4 585.4 1360.3 583.1 1361 580.4 1361.6 577.6 1361.4 575 1359.9 572.8 1357.8 570.8 1355.3 568.5 1352.8 565.5 1350.4 561 1347.9 555.5 1345.4 550.3 1343.4 546.5 1341.9 544.6 1340.9 543.8 1339.9 543.9 1338.6 544.6 1336.8 546.3 1334.5 549 1332.5 551.8 1331 554.1 1330.9 555.6 1331.7 556.6 1332.1 557.6 1331 558.9 1327.4 560.7 1322 563 1316.7 565 1313 566.4" fill="none" stroke="#fff" stroke-width="1"/>
<path d="M1430.5 578.5 1425.5 575.5 1414.2 572.2 1409.5 577 1409.5 581.1 1413.3 584.1 1413 592.4 1415.4 593.5 1417.8 591.8 1417.8 595.6 1424.3 595.6 1430.5 590.3Z" fill="#fff" stroke="#000" stroke-width="1.9"/>
<path d="M1430.5 578.5 1420.1 584.7 1413.3 582.9" fill="none" stroke="#000" stroke-width="1.1"/>
<path d="M1420.1 584.7 1420.1 591.8" fill="none" stroke="#000" stroke-width="1.1"/>
<path d="M1396.4 593.9 1410.7 586.4" fill="none" stroke="#000" stroke-width="1.1" stroke-dasharray="8 4"/>
<path d="M1184.1 717.5 1159.5 731.4" fill="none" stroke="#000" stroke-width="1.1" stroke-dasharray="8 4"/>
<path d="M1423 590 1423 643.2" fill="none" stroke="#000" stroke-width="2.4"/>
<text class="lb" x="1429" y="667.9" text-anchor="middle" font-size="22">14</text>
<path d="M1308.3 648.9 1329.1 687.8" fill="none" stroke="#000" stroke-width="2.4"/>
<text class="lb" x="1340" y="709.6" text-anchor="middle" font-size="22">13B</text>
<path d="M497.7 763.5 497.7 783.5 514.3 809.3 515.8 834.1 515.8 879.1 523 899.4 537.4 913.9 606 954.2" fill="none" stroke="#000" stroke-width="5"/>
<path d="M497.7 763.5 497.7 783.5 514.3 809.3 515.8 834.1 515.8 879.1 523 899.4 537.4 913.9 606 954.2" fill="none" stroke="#fff" stroke-width="1.2"/>
<path d="M519.3 751.3 519.3 771.3 535.9 797.1 537.4 821.9 537.4 866.9 544.6 887.2 559 901.7 627.6 942" fill="none" stroke="#000" stroke-width="5"/>
<path d="M519.3 751.3 519.3 771.3 535.9 797.1 537.4 821.9 537.4 866.9 544.6 887.2 559 901.7 627.6 942" fill="none" stroke="#fff" stroke-width="1.2"/>
<path d="M565 725.5 565 745.5 581.6 771.3 583 796.1 583 841.1 590.2 861.4 604.7 875.9 673.3 916.2" fill="none" stroke="#000" stroke-width="5"/>
<path d="M565 725.5 565 745.5 581.6 771.3 583 796.1 583 841.1 590.2 861.4 604.7 875.9 673.3 916.2" fill="none" stroke="#fff" stroke-width="1.2"/>
<path d="M587.6 712.7 587.6 732.7 604.2 758.5 605.7 783.3 605.7 828.3 612.9 848.6 627.3 863.1 695.9 903.5" fill="none" stroke="#000" stroke-width="5"/>
<path d="M587.6 712.7 587.6 732.7 604.2 758.5 605.7 783.3 605.7 828.3 612.9 848.6 627.3 863.1 695.9 903.5" fill="none" stroke="#fff" stroke-width="1.2"/>
<path d="M610.6 699.7 610.6 719.7 627.2 745.5 628.7 770.3 628.7 815.3 635.9 835.6 650.3 850.1 718.9 890.5" fill="none" stroke="#000" stroke-width="5"/>
<path d="M610.6 699.7 610.6 719.7 627.2 745.5 628.7 770.3 628.7 815.3 635.9 835.6 650.3 850.1 718.9 890.5" fill="none" stroke="#fff" stroke-width="1.2"/>
<path d="M653.8 675.3 653.8 695.3 670.4 721.1 671.9 745.9 671.9 790.9 679.1 811.2 693.5 825.7 762.1 866" fill="none" stroke="#000" stroke-width="5"/>
<path d="M653.8 675.3 653.8 695.3 670.4 721.1 671.9 745.9 671.9 790.9 679.1 811.2 693.5 825.7 762.1 866" fill="none" stroke="#fff" stroke-width="1.2"/>
<path d="M676.5 662.5 676.5 682.5 693.1 708.3 694.5 733.1 694.5 778.1 701.8 798.4 716.2 812.9 784.8 853.2" fill="none" stroke="#000" stroke-width="5"/>
<path d="M676.5 662.5 676.5 682.5 693.1 708.3 694.5 733.1 694.5 778.1 701.8 798.4 716.2 812.9 784.8 853.2" fill="none" stroke="#fff" stroke-width="1.2"/>
<path d="M699.5 649.5 699.5 669.5 716.1 695.3 717.5 720.1 717.5 765.1 724.8 785.4 739.2 799.9 807.8 840.2" fill="none" stroke="#000" stroke-width="5"/>
<path d="M699.5 649.5 699.5 669.5 716.1 695.3 717.5 720.1 717.5 765.1 724.8 785.4 739.2 799.9 807.8 840.2" fill="none" stroke="#fff" stroke-width="1.2"/>
<path d="M742.3 625.3 742.3 645.3 758.9 671.1 760.4 695.9 760.4 740.9 767.6 761.2 782 775.7 850.6 816" fill="none" stroke="#000" stroke-width="5"/>
<path d="M742.3 625.3 742.3 645.3 758.9 671.1 760.4 695.9 760.4 740.9 767.6 761.2 782 775.7 850.6 816" fill="none" stroke="#fff" stroke-width="1.2"/>
<path d="M765.3 612.3 765.3 632.3 781.9 658.1 783.4 682.9 783.4 727.9 790.6 748.2 805 762.7 873.6 803" fill="none" stroke="#000" stroke-width="5"/>
<path d="M765.3 612.3 765.3 632.3 781.9 658.1 783.4 682.9 783.4 727.9 790.6 748.2 805 762.7 873.6 803" fill="none" stroke="#fff" stroke-width="1.2"/>
<path d="M788 599.5 788 619.5 804.6 645.3 806 670.1 806 715.1 813.3 735.4 827.7 749.9 896.3 790.2" fill="none" stroke="#000" stroke-width="5"/>
<path d="M788 599.5 788 619.5 804.6 645.3 806 670.1 806 715.1 813.3 735.4 827.7 749.9 896.3 790.2" fill="none" stroke="#fff" stroke-width="1.2"/>
<path d="M848.9 608.8 848.9 711.8 843.6 730.8 831.2 745.8 778.1 775.8" fill="none" stroke="#000" stroke-width="5"/>
<path d="M848.9 608.8 848.9 711.8 843.6 730.8 831.2 745.8 778.1 775.8" fill="none" stroke="#fff" stroke-width="1.2"/>
<path d="M901.2 639.6 901.2 742.6 895.9 761.6 883.5 776.6 830.5 806.6" fill="none" stroke="#000" stroke-width="5"/>
<path d="M901.2 639.6 901.2 742.6 895.9 761.6 883.5 776.6 830.5 806.6" fill="none" stroke="#fff" stroke-width="1.2"/>
<path d="M960.8 674.7 960.8 777.7 955.5 796.7 943.1 811.7 890 841.7" fill="none" stroke="#000" stroke-width="5"/>
<path d="M960.8 674.7 960.8 777.7 955.5 796.7 943.1 811.7 890 841.7" fill="none" stroke="#fff" stroke-width="1.2"/>
<path d="M1011.4 704.4 1011.4 807.4 1006 826.4 993.7 841.4 940.6 871.4" fill="none" stroke="#000" stroke-width="5"/>
<path d="M1011.4 704.4 1011.4 807.4 1006 826.4 993.7 841.4 940.6 871.4" fill="none" stroke="#fff" stroke-width="1.2"/>
<path d="M1069.1 738.4 1069.1 841.4 1063.8 860.4 1051.4 875.4 998.3 905.4" fill="none" stroke="#000" stroke-width="5"/>
<path d="M1069.1 738.4 1069.1 841.4 1063.8 860.4 1051.4 875.4 998.3 905.4" fill="none" stroke="#fff" stroke-width="1.2"/>
<path d="M1121.5 769.2 1121.5 872.2 1116.2 891.2 1103.8 906.2 1050.7 936.2" fill="none" stroke="#000" stroke-width="5"/>
<path d="M1121.5 769.2 1121.5 872.2 1116.2 891.2 1103.8 906.2 1050.7 936.2" fill="none" stroke="#fff" stroke-width="1.2"/>
<path d="M499.9 914.2 828.4 1107.6" fill="none" stroke="#000" stroke-width="5"/>
<path d="M499.9 914.2 828.4 1107.6" fill="none" stroke="#fff" stroke-width="1.2"/>
<path d="M538.8 892.2 867.4 1085.6" fill="none" stroke="#000" stroke-width="5"/>
<path d="M538.8 892.2 867.4 1085.6" fill="none" stroke="#fff" stroke-width="1.2"/>
<path d="M577.8 870.2 906.3 1063.6" fill="none" stroke="#000" stroke-width="5"/>
<path d="M577.8 870.2 906.3 1063.6" fill="none" stroke="#fff" stroke-width="1.2"/>
<path d="M616.7 848.2 945.2 1041.6" fill="none" stroke="#000" stroke-width="5"/>
<path d="M616.7 848.2 945.2 1041.6" fill="none" stroke="#fff" stroke-width="1.2"/>
<path d="M655.7 826.2 984.2 1019.6" fill="none" stroke="#000" stroke-width="5"/>
<path d="M655.7 826.2 984.2 1019.6" fill="none" stroke="#fff" stroke-width="1.2"/>
<path d="M694.6 804.2 1023.1 997.6" fill="none" stroke="#000" stroke-width="5"/>
<path d="M694.6 804.2 1023.1 997.6" fill="none" stroke="#fff" stroke-width="1.2"/>
<path d="M733.5 782.2 1062 975.6" fill="none" stroke="#000" stroke-width="5"/>
<path d="M733.5 782.2 1062 975.6" fill="none" stroke="#fff" stroke-width="1.2"/>
<path d="M772.5 760.2 1101 953.6" fill="none" stroke="#000" stroke-width="5"/>
<path d="M772.5 760.2 1101 953.6" fill="none" stroke="#fff" stroke-width="1.2"/>
<path d="M811.4 738.2 1139.9 931.6" fill="none" stroke="#000" stroke-width="5"/>
<path d="M811.4 738.2 1139.9 931.6" fill="none" stroke="#fff" stroke-width="1.2"/>
<path d="M503.7 928.8 836.5 740.8" fill="none" stroke="#000" stroke-width="5"/>
<path d="M503.7 928.8 836.5 740.8" fill="none" stroke="#fff" stroke-width="1.2"/>
<path d="M547 954.2 879.8 766.2" fill="none" stroke="#000" stroke-width="5"/>
<path d="M547 954.2 879.8 766.2" fill="none" stroke="#fff" stroke-width="1.2"/>
<path d="M590.4 979.8 923.1 791.8" fill="none" stroke="#000" stroke-width="5"/>
<path d="M590.4 979.8 923.1 791.8" fill="none" stroke="#fff" stroke-width="1.2"/>
<path d="M633.7 1005.2 966.4 817.2" fill="none" stroke="#000" stroke-width="5"/>
<path d="M633.7 1005.2 966.4 817.2" fill="none" stroke="#fff" stroke-width="1.2"/>
<path d="M677 1030.8 1009.8 842.8" fill="none" stroke="#000" stroke-width="5"/>
<path d="M677 1030.8 1009.8 842.8" fill="none" stroke="#fff" stroke-width="1.2"/>
<path d="M720.3 1056.2 1053.1 868.2" fill="none" stroke="#000" stroke-width="5"/>
<path d="M720.3 1056.2 1053.1 868.2" fill="none" stroke="#fff" stroke-width="1.2"/>
<path d="M763.6 1081.8 1096.4 893.8" fill="none" stroke="#000" stroke-width="5"/>
<path d="M763.6 1081.8 1096.4 893.8" fill="none" stroke="#fff" stroke-width="1.2"/>
<path d="M803.4 1105.1 1136.1 917.1" fill="none" stroke="#000" stroke-width="5"/>
<path d="M803.4 1105.1 1136.1 917.1" fill="none" stroke="#fff" stroke-width="1.2"/>
<path d="M593.8 967.6 646.9 937.6 668.4 938 693.2 924 693 911.6 770.8 867.6" fill="none" stroke="#000" stroke-width="5"/>
<path d="M593.8 967.6 646.9 937.6 668.4 938 693.2 924 693 911.6 770.8 867.6" fill="none" stroke="#fff" stroke-width="1.2"/>
<path d="M644.4 997.4 697.5 967.4 718.9 967.8 743.7 953.8 743.5 941.4 821.4 897.4" fill="none" stroke="#000" stroke-width="5"/>
<path d="M644.4 997.4 697.5 967.4 718.9 967.8 743.7 953.8 743.5 941.4 821.4 897.4" fill="none" stroke="#fff" stroke-width="1.2"/>
<path d="M694.9 1027.1 748 997.1 769.5 997.5 794.2 983.5 794 971.1 871.9 927.1" fill="none" stroke="#000" stroke-width="5"/>
<path d="M694.9 1027.1 748 997.1 769.5 997.5 794.2 983.5 794 971.1 871.9 927.1" fill="none" stroke="#fff" stroke-width="1.2"/>
<path d="M1152.6 866.7 1154.3 867.9 1155.2 869.4 1155.3 871 1154.4 872.5 1152.8 873.8 824.2 1059.4 822 1060.3 819.3 1060.8 816.4 1060.8 813.7 1060.4 811.4 1059.5 476.4 881.8 474.7 880.6 473.8 879.1 473.7 877.5 474.6 876 476.2 874.7 804.8 689.1 807 688.2 809.7 687.7 812.6 687.7 815.3 688.1 817.6 689Z" fill="none" stroke="#000" stroke-width="5"/>
<path d="M1152.6 866.7 1154.3 867.9 1155.2 869.4 1155.3 871 1154.4 872.5 1152.8 873.8 824.2 1059.4 822 1060.3 819.3 1060.8 816.4 1060.8 813.7 1060.4 811.4 1059.5 476.4 881.8 474.7 880.6 473.8 879.1 473.7 877.5 474.6 876 476.2 874.7 804.8 689.1 807 688.2 809.7 687.7 812.6 687.7 815.3 688.1 817.6 689Z" fill="none" stroke="#fff" stroke-width="1.2"/>
<path d="M1152.6 826.7 1154.3 828 1155.2 829.4 1155.3 831 1154.4 832.5 1152.8 833.8 824.2 1019.4 822 1020.3 819.3 1020.8 816.4 1020.9 813.7 1020.4 811.4 1019.5 476.4 842.8 474.7 841.5 473.8 840.1 473.7 838.5 474.6 837 476.2 835.7 804.8 650.1 807 649.2 809.7 648.7 812.6 648.6 815.3 649.1 817.6 650Z" fill="none" stroke="#000" stroke-width="5"/>
<path d="M1152.6 826.7 1154.3 828 1155.2 829.4 1155.3 831 1154.4 832.5 1152.8 833.8 824.2 1019.4 822 1020.3 819.3 1020.8 816.4 1020.9 813.7 1020.4 811.4 1019.5 476.4 842.8 474.7 841.5 473.8 840.1 473.7 838.5 474.6 837 476.2 835.7 804.8 650.1 807 649.2 809.7 648.7 812.6 648.6 815.3 649.1 817.6 650Z" fill="none" stroke="#fff" stroke-width="1.2"/>
<path d="M1165.5 795.2 1167.2 796.5 1168.1 798.1 1168.1 799.8 1167.3 801.3 1165.6 802.6 824.4 995.4 822.1 996.3 819.4 996.8 816.5 996.7 813.8 996.2 811.5 995.2 463.5 790.3 461.8 789 460.9 787.4 460.9 785.7 461.7 784.2 463.4 782.9 804.6 590.1 806.9 589.2 809.6 588.7 812.5 588.8 815.2 589.3 817.5 590.3Z" fill="none" stroke="#000" stroke-width="5"/>
<path d="M1165.5 795.2 1167.2 796.5 1168.1 798.1 1168.1 799.8 1167.3 801.3 1165.6 802.6 824.4 995.4 822.1 996.3 819.4 996.8 816.5 996.7 813.8 996.2 811.5 995.2 463.5 790.3 461.8 789 460.9 787.4 460.9 785.7 461.7 784.2 463.4 782.9 804.6 590.1 806.9 589.2 809.6 588.7 812.5 588.8 815.2 589.3 817.5 590.3Z" fill="none" stroke="#fff" stroke-width="1.2"/>
<path d="M684.4 835 684.4 787" fill="none" stroke="#000" stroke-width="4.4"/>
<path d="M684.4 835 684.4 787" fill="none" stroke="#fff" stroke-width="1.2"/>
<path d="M727.7 860.5 727.7 812.5" fill="none" stroke="#000" stroke-width="4.4"/>
<path d="M727.7 860.5 727.7 812.5" fill="none" stroke="#fff" stroke-width="1.2"/>
<path d="M771 886 771 838" fill="none" stroke="#000" stroke-width="4.4"/>
<path d="M771 886 771 838" fill="none" stroke="#fff" stroke-width="1.2"/>
<path d="M821.6 915.8 821.6 867.8" fill="none" stroke="#000" stroke-width="4.4"/>
<path d="M821.6 915.8 821.6 867.8" fill="none" stroke="#fff" stroke-width="1.2"/>
<path d="M872.1 945.5 872.1 897.5" fill="none" stroke="#000" stroke-width="4.4"/>
<path d="M872.1 945.5 872.1 897.5" fill="none" stroke="#fff" stroke-width="1.2"/>
<path d="M922.7 975.2 922.7 935.2" fill="none" stroke="#000" stroke-width="4.4"/>
<path d="M922.7 975.2 922.7 935.2" fill="none" stroke="#fff" stroke-width="1.2"/>
<path d="M719.8 815 719.8 767" fill="none" stroke="#000" stroke-width="4.4"/>
<path d="M719.8 815 719.8 767" fill="none" stroke="#fff" stroke-width="1.2"/>
<path d="M763.1 840.5 763.1 792.5" fill="none" stroke="#000" stroke-width="4.4"/>
<path d="M763.1 840.5 763.1 792.5" fill="none" stroke="#fff" stroke-width="1.2"/>
<path d="M806.4 866 806.4 818" fill="none" stroke="#000" stroke-width="4.4"/>
<path d="M806.4 866 806.4 818" fill="none" stroke="#fff" stroke-width="1.2"/>
<path d="M857 895.8 857 847.8" fill="none" stroke="#000" stroke-width="4.4"/>
<path d="M857 895.8 857 847.8" fill="none" stroke="#fff" stroke-width="1.2"/>
<path d="M907.5 925.5 907.5 877.5" fill="none" stroke="#000" stroke-width="4.4"/>
<path d="M907.5 925.5 907.5 877.5" fill="none" stroke="#fff" stroke-width="1.2"/>
<path d="M958.1 955.2 958.1 915.2" fill="none" stroke="#000" stroke-width="4.4"/>
<path d="M958.1 955.2 958.1 915.2" fill="none" stroke="#fff" stroke-width="1.2"/>
<path d="M755.2 795 755.2 747" fill="none" stroke="#000" stroke-width="4.4"/>
<path d="M755.2 795 755.2 747" fill="none" stroke="#fff" stroke-width="1.2"/>
<path d="M798.5 820.5 798.5 772.5" fill="none" stroke="#000" stroke-width="4.4"/>
<path d="M798.5 820.5 798.5 772.5" fill="none" stroke="#fff" stroke-width="1.2"/>
<path d="M841.8 846 841.8 798" fill="none" stroke="#000" stroke-width="4.4"/>
<path d="M841.8 846 841.8 798" fill="none" stroke="#fff" stroke-width="1.2"/>
<path d="M892.4 875.8 892.4 827.8" fill="none" stroke="#000" stroke-width="4.4"/>
<path d="M892.4 875.8 892.4 827.8" fill="none" stroke="#fff" stroke-width="1.2"/>
<path d="M942.9 905.5 942.9 857.5" fill="none" stroke="#000" stroke-width="4.4"/>
<path d="M942.9 905.5 942.9 857.5" fill="none" stroke="#fff" stroke-width="1.2"/>
<path d="M993.5 935.2 993.5 895.2" fill="none" stroke="#000" stroke-width="4.4"/>
<path d="M993.5 935.2 993.5 895.2" fill="none" stroke="#fff" stroke-width="1.2"/>
<path d="M790.6 775 790.6 727" fill="none" stroke="#000" stroke-width="4.4"/>
<path d="M790.6 775 790.6 727" fill="none" stroke="#fff" stroke-width="1.2"/>
<path d="M833.9 800.5 833.9 752.5" fill="none" stroke="#000" stroke-width="4.4"/>
<path d="M833.9 800.5 833.9 752.5" fill="none" stroke="#fff" stroke-width="1.2"/>
<path d="M877.2 826 877.2 778" fill="none" stroke="#000" stroke-width="4.4"/>
<path d="M877.2 826 877.2 778" fill="none" stroke="#fff" stroke-width="1.2"/>
<path d="M927.8 855.8 927.8 807.8" fill="none" stroke="#000" stroke-width="4.4"/>
<path d="M927.8 855.8 927.8 807.8" fill="none" stroke="#fff" stroke-width="1.2"/>
<path d="M978.3 885.5 978.3 837.5" fill="none" stroke="#000" stroke-width="4.4"/>
<path d="M978.3 885.5 978.3 837.5" fill="none" stroke="#fff" stroke-width="1.2"/>
<path d="M1028.9 915.2 1028.9 875.2" fill="none" stroke="#000" stroke-width="4.4"/>
<path d="M1028.9 915.2 1028.9 875.2" fill="none" stroke="#fff" stroke-width="1.2"/>
<path d="M826 755 826 707" fill="none" stroke="#000" stroke-width="4.4"/>
<path d="M826 755 826 707" fill="none" stroke="#fff" stroke-width="1.2"/>
<path d="M869.3 780.5 869.3 732.5" fill="none" stroke="#000" stroke-width="4.4"/>
<path d="M869.3 780.5 869.3 732.5" fill="none" stroke="#fff" stroke-width="1.2"/>
<path d="M912.6 806 912.6 758" fill="none" stroke="#000" stroke-width="4.4"/>
<path d="M912.6 806 912.6 758" fill="none" stroke="#fff" stroke-width="1.2"/>
<path d="M963.2 835.8 963.2 787.8" fill="none" stroke="#000" stroke-width="4.4"/>
<path d="M963.2 835.8 963.2 787.8" fill="none" stroke="#fff" stroke-width="1.2"/>
<path d="M1013.7 865.5 1013.7 817.5" fill="none" stroke="#000" stroke-width="4.4"/>
<path d="M1013.7 865.5 1013.7 817.5" fill="none" stroke="#fff" stroke-width="1.2"/>
<path d="M1064.3 895.2 1064.3 855.2" fill="none" stroke="#000" stroke-width="4.4"/>
<path d="M1064.3 895.2 1064.3 855.2" fill="none" stroke="#fff" stroke-width="1.2"/>
<path d="M752.3 1046.5 752.3 1004.5" fill="none" stroke="#000" stroke-width="4.4"/>
<path d="M752.3 1046.5 752.3 1004.5" fill="none" stroke="#fff" stroke-width="1.2"/>
<path d="M795.6 1072 795.6 1030" fill="none" stroke="#000" stroke-width="4.4"/>
<path d="M795.6 1072 795.6 1030" fill="none" stroke="#fff" stroke-width="1.2"/>
<path d="M794.8 1022.5 794.8 980.5" fill="none" stroke="#000" stroke-width="4.4"/>
<path d="M794.8 1022.5 794.8 980.5" fill="none" stroke="#fff" stroke-width="1.2"/>
<path d="M838.1 1048 838.1 1006" fill="none" stroke="#000" stroke-width="4.4"/>
<path d="M838.1 1048 838.1 1006" fill="none" stroke="#fff" stroke-width="1.2"/>
<path d="M837.3 998.5 837.3 956.5" fill="none" stroke="#000" stroke-width="4.4"/>
<path d="M837.3 998.5 837.3 956.5" fill="none" stroke="#fff" stroke-width="1.2"/>
<path d="M880.6 1024 880.6 982" fill="none" stroke="#000" stroke-width="4.4"/>
<path d="M880.6 1024 880.6 982" fill="none" stroke="#fff" stroke-width="1.2"/>
<path d="M809.9 1072.2 809.9 1036.2" fill="none" stroke="#000" stroke-width="4.4"/>
<path d="M809.9 1072.2 809.9 1036.2" fill="none" stroke="#fff" stroke-width="1.2"/>
<path d="M835.2 1087.1 835.2 1051.1" fill="none" stroke="#000" stroke-width="4.4"/>
<path d="M835.2 1087.1 835.2 1051.1" fill="none" stroke="#fff" stroke-width="1.2"/>
<path d="M863 1042.2 863 1006.2" fill="none" stroke="#000" stroke-width="4.4"/>
<path d="M863 1042.2 863 1006.2" fill="none" stroke="#fff" stroke-width="1.2"/>
<path d="M888.3 1057.1 888.3 1021.1" fill="none" stroke="#000" stroke-width="4.4"/>
<path d="M888.3 1057.1 888.3 1021.1" fill="none" stroke="#fff" stroke-width="1.2"/>
<path d="M916.1 1012.2 916.1 976.2" fill="none" stroke="#000" stroke-width="4.4"/>
<path d="M916.1 1012.2 916.1 976.2" fill="none" stroke="#fff" stroke-width="1.2"/>
<path d="M941.4 1027.1 941.4 991.1" fill="none" stroke="#000" stroke-width="4.4"/>
<path d="M941.4 1027.1 941.4 991.1" fill="none" stroke="#fff" stroke-width="1.2"/>
<path d="M969.2 982.2 969.2 946.2" fill="none" stroke="#000" stroke-width="4.4"/>
<path d="M969.2 982.2 969.2 946.2" fill="none" stroke="#fff" stroke-width="1.2"/>
<path d="M994.5 997.1 994.5 961.1" fill="none" stroke="#000" stroke-width="4.4"/>
<path d="M994.5 997.1 994.5 961.1" fill="none" stroke="#fff" stroke-width="1.2"/>
<path d="M1022.3 952.2 1022.3 916.2" fill="none" stroke="#000" stroke-width="4.4"/>
<path d="M1022.3 952.2 1022.3 916.2" fill="none" stroke="#fff" stroke-width="1.2"/>
<path d="M1047.6 967.1 1047.6 931.1" fill="none" stroke="#000" stroke-width="4.4"/>
<path d="M1047.6 967.1 1047.6 931.1" fill="none" stroke="#fff" stroke-width="1.2"/>
<path d="M1075.4 922.2 1075.4 886.2" fill="none" stroke="#000" stroke-width="4.4"/>
<path d="M1075.4 922.2 1075.4 886.2" fill="none" stroke="#fff" stroke-width="1.2"/>
<path d="M1100.7 937.1 1100.7 901.1" fill="none" stroke="#000" stroke-width="4.4"/>
<path d="M1100.7 937.1 1100.7 901.1" fill="none" stroke="#fff" stroke-width="1.2"/>
<path d="M775.4 929.4 775.4 909.4 771.6 869 771.6 841" fill="none" stroke="#000" stroke-width="4.4"/>
<path d="M775.4 929.4 775.4 909.4 771.6 869 771.6 841" fill="none" stroke="#fff" stroke-width="1.2"/>
<path d="M801.9 914.4 801.9 894.4 798.1 854 798.1 826" fill="none" stroke="#000" stroke-width="4.4"/>
<path d="M801.9 914.4 801.9 894.4 798.1 854 798.1 826" fill="none" stroke="#fff" stroke-width="1.2"/>
<path d="M828.4 899.4 828.4 879.4 824.7 839 824.7 811" fill="none" stroke="#000" stroke-width="4.4"/>
<path d="M828.4 899.4 828.4 879.4 824.7 839 824.7 811" fill="none" stroke="#fff" stroke-width="1.2"/>
<path d="M855 884.4 855 864.4 851.3 824 851.3 796" fill="none" stroke="#000" stroke-width="4.4"/>
<path d="M855 884.4 855 864.4 851.3 824 851.3 796" fill="none" stroke="#fff" stroke-width="1.2"/>
<path d="M881.5 869.4 881.5 849.4 877.8 809 877.8 781" fill="none" stroke="#000" stroke-width="4.4"/>
<path d="M881.5 869.4 881.5 849.4 877.8 809 877.8 781" fill="none" stroke="#fff" stroke-width="1.2"/>
<path d="M908.1 854.4 908.1 834.4 904.4 794 904.4 766" fill="none" stroke="#000" stroke-width="4.4"/>
<path d="M908.1 854.4 908.1 834.4 904.4 794 904.4 766" fill="none" stroke="#fff" stroke-width="1.2"/>
<path d="M493.1 809.8 493.1 827.8 499.5 854.9 499.5 935.1" fill="none" stroke="#000" stroke-width="5"/>
<path d="M493.1 809.8 493.1 827.8 499.5 854.9 499.5 935.1" fill="none" stroke="#fff" stroke-width="1.2"/>
<path d="M498.5 812.9 498.5 830.9 504.9 857.8 504.9 938.3" fill="none" stroke="#000" stroke-width="5"/>
<path d="M498.5 812.9 498.5 830.9 504.9 857.8 504.9 938.3" fill="none" stroke="#fff" stroke-width="1.2"/>
<path d="M514.8 822.5 514.8 840.5 521.1 866.4 521.1 916.9" fill="none" stroke="#000" stroke-width="5"/>
<path d="M514.8 822.5 514.8 840.5 521.1 866.4 521.1 916.9" fill="none" stroke="#fff" stroke-width="1.2"/>
<path d="M550.9 843.8 550.9 861.8 557.2 885.4 557.2 965.1" fill="none" stroke="#000" stroke-width="5"/>
<path d="M550.9 843.8 550.9 861.8 557.2 885.4 557.2 965.1" fill="none" stroke="#fff" stroke-width="1.2"/>
<path d="M601.4 873.5 601.4 891.5 607.8 912.1 607.8 994.9" fill="none" stroke="#000" stroke-width="5"/>
<path d="M601.4 873.5 601.4 891.5 607.8 912.1 607.8 994.9" fill="none" stroke="#fff" stroke-width="1.2"/>
<path d="M610.4 878.8 610.4 896.8 616.8 916.9 616.8 1000.2" fill="none" stroke="#000" stroke-width="5"/>
<path d="M610.4 878.8 610.4 896.8 616.8 916.9 616.8 1000.2" fill="none" stroke="#fff" stroke-width="1.2"/>
<path d="M657.4 906.4 657.4 924.4 663.7 941.6 663.7 1027.8" fill="none" stroke="#000" stroke-width="5"/>
<path d="M657.4 906.4 657.4 924.4 663.7 941.6 663.7 1027.8" fill="none" stroke="#fff" stroke-width="1.2"/>
<path d="M716.9 941.5 716.9 959.5 723.3 973.1 723.3 1062.9" fill="none" stroke="#000" stroke-width="5"/>
<path d="M716.9 941.5 716.9 959.5 723.3 973.1 723.3 1062.9" fill="none" stroke="#fff" stroke-width="1.2"/>
<path d="M771.1 973.4 771.1 991.4 777.4 1001.6 777.4 1094.8" fill="none" stroke="#000" stroke-width="5"/>
<path d="M771.1 973.4 771.1 991.4 777.4 1001.6 777.4 1094.8" fill="none" stroke="#fff" stroke-width="1.2"/>
<path d="M812.6 997.8 812.6 1015.8 819 1023.5 819 1119.2" fill="none" stroke="#000" stroke-width="5"/>
<path d="M812.6 997.8 812.6 1015.8 819 1023.5 819 1119.2" fill="none" stroke="#fff" stroke-width="1.2"/>
<path d="M504.9 938.3 536.1 939.6" fill="none" stroke="#000" stroke-width="5"/>
<path d="M504.9 938.3 536.1 939.6" fill="none" stroke="#fff" stroke-width="1.2"/>
<path d="M557.2 955.1 557 957 556.7 959.8 557.2 963.1 558.8 967.3 561.1 972.1 564.5 976.4 569.5 980.4 575.6 984 580.7 986 584 986.8 586.4 986 587.9 981.2 588.5 968.9 588.2 952.7 587.9 941" fill="none" stroke="#000" stroke-width="5"/>
<path d="M557.2 955.1 557 957 556.7 959.8 557.2 963.1 558.8 967.3 561.1 972.1 564.5 976.4 569.5 980.4 575.6 984 580.7 986 584 986.8 586.4 986 587.9 981.2 588.5 968.9 588.2 952.7 587.9 941" fill="none" stroke="#fff" stroke-width="1.2"/>
<path d="M616.8 990.2 616.5 992.1 616.3 994.9 616.8 998.2 617.9 1002.1 619.7 1006.6 624 1011.5 632.8 1017.7 644.1 1024.3 652.9 1028.5 657.2 1030 659 1029 660.1 1023.7 660.7 1010.2 660.4 992.3 660.1 979.3" fill="none" stroke="#000" stroke-width="5"/>
<path d="M616.8 990.2 616.5 992.1 616.3 994.9 616.8 998.2 617.9 1002.1 619.7 1006.6 624 1011.5 632.8 1017.7 644.1 1024.3 652.9 1028.5 657.2 1030 659 1029 660.1 1023.7 660.7 1010.2 660.4 992.3 660.1 979.3" fill="none" stroke="#fff" stroke-width="1.2"/>
<path d="M663.7 1017.8 663.5 1019.7 663.2 1022.5 663.7 1025.8 664.5 1029.5 666 1033.8 670.9 1039.1 682.4 1046.9 697.4 1055.6 708.9 1061.4 713.8 1063.4 715.3 1062.4 716.1 1056.7 716.6 1042.2 716.3 1022.9 716.1 1008.9" fill="none" stroke="#000" stroke-width="5"/>
<path d="M663.7 1017.8 663.5 1019.7 663.2 1022.5 663.7 1025.8 664.5 1029.5 666 1033.8 670.9 1039.1 682.4 1046.9 697.4 1055.6 708.9 1061.4 713.8 1063.4 715.3 1062.4 716.1 1056.7 716.6 1042.2 716.3 1022.9 716.1 1008.9" fill="none" stroke="#fff" stroke-width="1.2"/>
<path d="M723.3 1052.9 723 1054.8 722.8 1057.5 723.3 1060.9 724.2 1064.7 726 1069.1 730.5 1074.2 740.4 1081 753.1 1088.5 763 1093.3 767.5 1095.2 769.3 1094.4 770.2 1088.5 770.8 1073.1 770.5 1052.6 770.2 1037.7" fill="none" stroke="#000" stroke-width="5"/>
<path d="M723.3 1052.9 723 1054.8 722.8 1057.5 723.3 1060.9 724.2 1064.7 726 1069.1 730.5 1074.2 740.4 1081 753.1 1088.5 763 1093.3 767.5 1095.2 769.3 1094.4 770.2 1088.5 770.8 1073.1 770.5 1052.6 770.2 1037.7" fill="none" stroke="#fff" stroke-width="1.2"/>
<path d="M777.4 1084.8 777.2 1086.7 776.9 1089.4 777.4 1092.8 778.7 1096.8 780.8 1101.4 784.7 1106 791.9 1111.3 800.9 1116.6 808.1 1119.8 812 1121.4 814.1 1121 815.3 1115.1 815.9 1098.9 815.6 1077.3 815.3 1061.6" fill="none" stroke="#000" stroke-width="5"/>
<path d="M777.4 1084.8 777.2 1086.7 776.9 1089.4 777.4 1092.8 778.7 1096.8 780.8 1101.4 784.7 1106 791.9 1111.3 800.9 1116.6 808.1 1119.8 812 1121.4 814.1 1121 815.3 1115.1 815.9 1098.9 815.6 1077.3 815.3 1061.6" fill="none" stroke="#fff" stroke-width="1.2"/>
<path d="M839.2 989 839.2 1003 832.7 1014.2 832.7 1073.2" fill="none" stroke="#000" stroke-width="5"/>
<path d="M839.2 989 839.2 1003 832.7 1014.2 832.7 1073.2" fill="none" stroke="#fff" stroke-width="1.2"/>
<path d="M888.8 961 888.8 975 882.3 986.2 882.3 1050" fill="none" stroke="#000" stroke-width="5"/>
<path d="M888.8 961 888.8 975 882.3 986.2 882.3 1050" fill="none" stroke="#fff" stroke-width="1.2"/>
<path d="M949 927 949 941 942.5 952.2 942.5 1021.8" fill="none" stroke="#000" stroke-width="5"/>
<path d="M949 927 949 941 942.5 952.2 942.5 1021.8" fill="none" stroke="#fff" stroke-width="1.2"/>
<path d="M995 901 995 915 988.5 926.2 988.5 1000.2" fill="none" stroke="#000" stroke-width="5"/>
<path d="M995 901 995 915 988.5 926.2 988.5 1000.2" fill="none" stroke="#fff" stroke-width="1.2"/>
<path d="M1051.6 869 1051.6 883 1045.1 894.2 1045.1 973.6" fill="none" stroke="#000" stroke-width="5"/>
<path d="M1051.6 869 1051.6 883 1045.1 894.2 1045.1 973.6" fill="none" stroke="#fff" stroke-width="1.2"/>
<path d="M1101.2 841 1101.2 855 1094.7 866.2 1094.7 950.4" fill="none" stroke="#000" stroke-width="5"/>
<path d="M1101.2 841 1101.2 855 1094.7 866.2 1094.7 950.4" fill="none" stroke="#fff" stroke-width="1.2"/>
<path d="M1150.8 813 1150.8 827 1144.3 838.2 1144.3 927.1" fill="none" stroke="#000" stroke-width="5"/>
<path d="M1150.8 813 1150.8 827 1144.3 838.2 1144.3 927.1" fill="none" stroke="#fff" stroke-width="1.2"/>
<path d="M822.1 1020.2 821.9 1036.5 821.7 1059.1 822.1 1076.2 823 1082.8 824.5 1083.9 827.4 1083.2 832.9 1081.2 839.7 1077.4 845.1 1073.2 848 1070.7 849.5 1067.8 850.4 1060.2 850.8 1042.6 850.6 1020.3 850.4 1004.2" fill="none" stroke="#000" stroke-width="5"/>
<path d="M822.1 1020.2 821.9 1036.5 821.7 1059.1 822.1 1076.2 823 1082.8 824.5 1083.9 827.4 1083.2 832.9 1081.2 839.7 1077.4 845.1 1073.2 848 1070.7 849.5 1067.8 850.4 1060.2 850.8 1042.6 850.6 1020.3 850.4 1004.2" fill="none" stroke="#fff" stroke-width="1.2"/>
<path d="M850.4 1004.2 850.2 1021.3 850 1045 850.4 1062.9 851.4 1069.7 852.9 1070.8 855.8 1069.9 861.2 1068 868 1064.1 873.5 1059.9 876.3 1057.5 877.8 1054.7 878.8 1046.9 879.2 1028.5 879 1005.1 878.8 988.2" fill="none" stroke="#000" stroke-width="5"/>
<path d="M850.4 1004.2 850.2 1021.3 850 1045 850.4 1062.9 851.4 1069.7 852.9 1070.8 855.8 1069.9 861.2 1068 868 1064.1 873.5 1059.9 876.3 1057.5 877.8 1054.7 878.8 1046.9 879.2 1028.5 879 1005.1 878.8 988.2" fill="none" stroke="#fff" stroke-width="1.2"/>
<path d="M878.8 988.2 878.6 1006.1 878.4 1030.9 878.8 1049.6 879.7 1056.6 881.2 1057.6 884.1 1056.6 889.5 1054.7 896.3 1050.8 901.8 1046.6 904.7 1044.3 906.2 1041.7 907.1 1033.6 907.5 1014.5 907.3 989.9 907.1 972.2" fill="none" stroke="#000" stroke-width="5"/>
<path d="M878.8 988.2 878.6 1006.1 878.4 1030.9 878.8 1049.6 879.7 1056.6 881.2 1057.6 884.1 1056.6 889.5 1054.7 896.3 1050.8 901.8 1046.6 904.7 1044.3 906.2 1041.7 907.1 1033.6 907.5 1014.5 907.3 989.9 907.1 972.2" fill="none" stroke="#fff" stroke-width="1.2"/>
<path d="M907.1 972.2 906.9 990.9 906.7 1016.8 907.1 1036.4 908 1043.6 909.5 1044.4 912.4 1043.4 917.8 1041.4 924.7 1037.5 930.1 1033.4 933 1031.1 934.5 1028.6 935.4 1020.4 935.8 1000.4 935.6 974.7 935.4 956.2" fill="none" stroke="#000" stroke-width="5"/>
<path d="M907.1 972.2 906.9 990.9 906.7 1016.8 907.1 1036.4 908 1043.6 909.5 1044.4 912.4 1043.4 917.8 1041.4 924.7 1037.5 930.1 1033.4 933 1031.1 934.5 1028.6 935.4 1020.4 935.8 1000.4 935.6 974.7 935.4 956.2" fill="none" stroke="#fff" stroke-width="1.2"/>
<path d="M935.4 956.2 935.2 975.7 935 1002.7 935.4 1023.1 936.3 1030.5 937.8 1031.2 940.7 1030.1 946.2 1028.1 953 1024.3 958.4 1020.1 961.3 1018 962.8 1015.5 963.7 1007.1 964.1 986.3 963.9 959.5 963.7 940.2" fill="none" stroke="#000" stroke-width="5"/>
<path d="M935.4 956.2 935.2 975.7 935 1002.7 935.4 1023.1 936.3 1030.5 937.8 1031.2 940.7 1030.1 946.2 1028.1 953 1024.3 958.4 1020.1 961.3 1018 962.8 1015.5 963.7 1007.1 964.1 986.3 963.9 959.5 963.7 940.2" fill="none" stroke="#fff" stroke-width="1.2"/>
<path d="M963.7 940.2 963.5 960.5 963.3 988.6 963.7 1009.8 964.6 1017.4 966.1 1018 969 1016.8 974.5 1014.8 981.3 1011 986.7 1006.8 989.6 1004.8 991.1 1002.4 992 993.8 992.4 972.2 992.2 944.3 992 924.2" fill="none" stroke="#000" stroke-width="5"/>
<path d="M963.7 940.2 963.5 960.5 963.3 988.6 963.7 1009.8 964.6 1017.4 966.1 1018 969 1016.8 974.5 1014.8 981.3 1011 986.7 1006.8 989.6 1004.8 991.1 1002.4 992 993.8 992.4 972.2 992.2 944.3 992 924.2" fill="none" stroke="#fff" stroke-width="1.2"/>
<path d="M992 924.2 991.8 945.3 991.6 974.6 992 996.5 993 1004.3 994.5 1004.9 997.4 1003.5 1002.8 1001.6 1009.6 997.7 1015.1 993.5 1017.9 991.6 1019.4 989.4 1020.4 980.5 1020.8 958.1 1020.6 929.1 1020.4 908.2" fill="none" stroke="#000" stroke-width="5"/>
<path d="M992 924.2 991.8 945.3 991.6 974.6 992 996.5 993 1004.3 994.5 1004.9 997.4 1003.5 1002.8 1001.6 1009.6 997.7 1015.1 993.5 1017.9 991.6 1019.4 989.4 1020.4 980.5 1020.8 958.1 1020.6 929.1 1020.4 908.2" fill="none" stroke="#fff" stroke-width="1.2"/>
<path d="M1020.4 908.2 1020.2 930.2 1020 960.5 1020.4 983.2 1021.3 991.2 1022.8 991.7 1025.7 990.2 1031.1 988.3 1037.9 984.4 1043.4 980.2 1046.3 978.4 1047.8 976.3 1048.7 967.2 1049.1 944 1048.9 913.9 1048.7 892.2" fill="none" stroke="#000" stroke-width="5"/>
<path d="M1020.4 908.2 1020.2 930.2 1020 960.5 1020.4 983.2 1021.3 991.2 1022.8 991.7 1025.7 990.2 1031.1 988.3 1037.9 984.4 1043.4 980.2 1046.3 978.4 1047.8 976.3 1048.7 967.2 1049.1 944 1048.9 913.9 1048.7 892.2" fill="none" stroke="#fff" stroke-width="1.2"/>
<path d="M1048.7 892.2 1048.5 915 1048.3 946.4 1048.7 970 1049.6 978.2 1051.1 978.5 1054 977 1059.4 975 1066.3 971.1 1071.7 967 1074.6 965.2 1076.1 963.2 1077 954 1077.4 929.9 1077.2 898.7 1077 876.2" fill="none" stroke="#000" stroke-width="5"/>
<path d="M1048.7 892.2 1048.5 915 1048.3 946.4 1048.7 970 1049.6 978.2 1051.1 978.5 1054 977 1059.4 975 1066.3 971.1 1071.7 967 1074.6 965.2 1076.1 963.2 1077 954 1077.4 929.9 1077.2 898.7 1077 876.2" fill="none" stroke="#fff" stroke-width="1.2"/>
<path d="M1077 876.2 1076.8 899.8 1076.6 932.3 1077 956.7 1077.9 965.1 1079.4 965.3 1082.3 963.7 1087.8 961.7 1094.6 957.9 1100 953.7 1102.9 952.1 1104.4 950.1 1105.3 940.7 1105.7 915.9 1105.5 883.5 1105.3 860.2" fill="none" stroke="#000" stroke-width="5"/>
<path d="M1077 876.2 1076.8 899.8 1076.6 932.3 1077 956.7 1077.9 965.1 1079.4 965.3 1082.3 963.7 1087.8 961.7 1094.6 957.9 1100 953.7 1102.9 952.1 1104.4 950.1 1105.3 940.7 1105.7 915.9 1105.5 883.5 1105.3 860.2" fill="none" stroke="#fff" stroke-width="1.2"/>
<path d="M1105.3 860.2 1105.1 884.6 1104.9 918.2 1105.3 943.4 1106.2 952 1107.7 952.1 1110.6 950.4 1116.1 948.4 1122.9 944.6 1128.3 940.4 1131.2 938.9 1132.7 937 1133.6 927.4 1134 901.8 1133.8 868.4 1133.6 844.2" fill="none" stroke="#000" stroke-width="5"/>
<path d="M1105.3 860.2 1105.1 884.6 1104.9 918.2 1105.3 943.4 1106.2 952 1107.7 952.1 1110.6 950.4 1116.1 948.4 1122.9 944.6 1128.3 940.4 1131.2 938.9 1132.7 937 1133.6 927.4 1134 901.8 1133.8 868.4 1133.6 844.2" fill="none" stroke="#fff" stroke-width="1.2"/>
<path d="M1130.1 846.2 1129.9 871.3 1129.7 905.9 1130.1 931.8 1131 940.6 1132.5 940.6 1135.4 938.8 1140.9 936.8 1147.7 933 1153.1 928.8 1156 927.4 1157.5 925.6 1158.4 915.8 1158.8 889.4 1158.6 855.1 1158.4 830.2" fill="none" stroke="#000" stroke-width="5"/>
<path d="M1130.1 846.2 1129.9 871.3 1129.7 905.9 1130.1 931.8 1131 940.6 1132.5 940.6 1135.4 938.8 1140.9 936.8 1147.7 933 1153.1 928.8 1156 927.4 1157.5 925.6 1158.4 915.8 1158.8 889.4 1158.6 855.1 1158.4 830.2" fill="none" stroke="#fff" stroke-width="1.2"/>
<path d="M811.5 499 811.5 585" fill="none" stroke="#000" stroke-width="2.4"/>
<text class="lb" x="811" y="491.5" text-anchor="middle" font-size="22">3</text>
<path d="M240.6 894 244.3 891.1 274.6 871.8 269.4 868.9 268.7 862.2 273.9 857 288.7 848.9 293.1 850.3 298.3 858.5 342 834.8 336.8 830.3 336.1 822.2 340.5 818.5 355.3 811.1 359 812.6 363.5 820 402.7 798.5 410.1 797.8 451.6 809.6 454.6 814.1 454.6 817.8 436.8 828.9 422 828.1 422.7 836.3 383.5 861.4 364.2 859.2 365 868.9 322 895.5 307.9 894 307.2 903.7 285.7 914.8 242.8 902.2Z" fill="url(#ht)" stroke="#000" stroke-width="1.7"/>
<path d="M247.2 894.8 273.9 877.7 302 888.1 283.5 900.7Z" fill="#fff" stroke="#000" stroke-width="1.2"/>
<path d="M290.2 882.2 302 867.4 334.6 865.9 355.3 867.4 319.8 888.1Z" fill="#fff" stroke="#000" stroke-width="1.2"/>
<path d="M343.5 854 367.2 834.8 414.6 830.3 382 852.6Z" fill="#fff" stroke="#000" stroke-width="1.2"/>
<path d="M379 818.5 405.7 803.7 447.2 814.1 433.8 822.9 417.5 821.5Z" fill="#fff" stroke="#000" stroke-width="1.2"/>
<path d="M242.8 897 285.7 909.6 306.5 897.7" fill="none" stroke="#000" stroke-width="1.1"/>
<path d="M322.7 890.3 364.2 864.4" fill="none" stroke="#000" stroke-width="1.1"/>
<path d="M383.5 856.3 422 831.8" fill="none" stroke="#000" stroke-width="1.1"/>
<path d="M436.8 824.4 453.8 814.1" fill="none" stroke="#000" stroke-width="1.1"/>
<path d="M299.1 882.2 313.9 868.9 316.8 873.3 307.9 885.1Z" fill="none" stroke="#000" stroke-width="1.3"/>
<path d="M299.1 862.9 401.2 806.6" fill="none" stroke="#000" stroke-width="1.1" stroke-dasharray="2 2"/>
<path d="M287.2 873.3 337.6 843.7 399.8 811.1" fill="none" stroke="#000" stroke-width="1.1" stroke-dasharray="2 2"/>
<path d="M254.6 895.5 263.5 889.6 287.2 898.5 281.3 904.4" fill="none" stroke="#000" stroke-width="1.2"/>
<path d="M325.7 873.3 337.6 865.9 358.3 865.9" fill="none" stroke="#000" stroke-width="2"/>
<path d="M373.1 852.6 379 843.7 373.1 834.8" fill="none" stroke="#000" stroke-width="1.6"/>
<path d="M398.3 820 410.1 809.6 399.8 811.1" fill="none" stroke="#000" stroke-width="1.6"/>
<path d="M426.4 814.1 435.3 809.6 432.3 817" fill="none" stroke="#000" stroke-width="2"/>
<path d="M269.4 868.9 273.9 871.1 276.8 867.4" fill="none" stroke="#000" stroke-width="1.2"/>
<path d="M273.9 857 279.8 865.9 294.6 858.5" fill="none" stroke="#000" stroke-width="1"/>
<path d="M340.5 818.5 345 828.9 361.3 820.7" fill="none" stroke="#000" stroke-width="1"/>
<ellipse cx="270.9" cy="867.4" rx="2.7" ry="3.7" transform="rotate(0 270.9 867.4)" fill="none" stroke="#000" stroke-width="1.3"/>
<path d="M296.8 785.9 316.8 849.6" fill="none" stroke="#000" stroke-width="2.4"/>
<text class="lb" x="293.1" y="777.8" text-anchor="middle" font-size="22">11</text>
<path d="M435.5 1015.7 440.5 1004.9 451.3 999.6 462.1 1002.4 567.4 1063.8 573.2 1072.9 578.2 1087.8 575.7 1094.4 568.2 1096.9 554.1 1096.9 548.3 1090.3 542.5 1083.7 533.4 1077.9 529.2 1072.9 519.3 1070.4 511 1061.3 501 1058 492.7 1053 482.8 1049.7 477.8 1043.9 467.9 1039.7 457.9 1042.2 448 1031.4 439.7 1021.5Z" fill="#fff" stroke="#000" stroke-width="1.8"/>
<path d="M443 1009 452.9 1004.9 565.7 1070.4 571.5 1081.2 574.8 1092.8" fill="none" stroke="#000" stroke-width="1" stroke-dasharray="2 2"/>
<path d="M439.7 1018.1 448 1013.2 560.7 1077.9 567.4 1091.1" fill="none" stroke="#000" stroke-width="1" stroke-dasharray="2 2"/>
<ellipse cx="454.9" cy="1021.1" rx="4.3" ry="4.3" transform="rotate(0 454.9 1021.1)" fill="none" stroke="#000" stroke-width="1.4"/>
<ellipse cx="454.9" cy="1021.1" rx="1.7" ry="1.7" transform="rotate(0 454.9 1021.1)" fill="none" stroke="#000" stroke-width="2"/>
<ellipse cx="491.9" cy="1030.6" rx="3" ry="3.3" transform="rotate(0 491.9 1030.6)" fill="none" stroke="#000" stroke-width="1.3"/>
<ellipse cx="527.9" cy="1051.7" rx="3.3" ry="4" transform="rotate(0 527.9 1051.7)" fill="none" stroke="#000" stroke-width="1.3"/>
<path d="M525.1 1048.8 530.9 1054.6 529.2 1048.8" fill="none" stroke="#000" stroke-width="1.2"/>
<ellipse cx="564.4" cy="1084.2" rx="5" ry="5" transform="rotate(0 564.4 1084.2)" fill="none" stroke="#000" stroke-width="1.3"/>
<path d="M560.7 1081.2 568.2 1087.8 562.4 1087.8 567.4 1081.2" fill="none" stroke="#000" stroke-width="1.2"/>
<path d="M467.9 1021.5 469.5 1036.4 476.2 1038.1" fill="none" stroke="#000" stroke-width="1.5"/>
<path d="M472.8 1019.8 473.7 1033.1" fill="none" stroke="#000" stroke-width="1.2"/>
<path d="M484.4 1046.3 519.3 1066.2" fill="none" stroke="#000" stroke-width="2.2"/>
<path d="M486.1 1043 524.3 1063.8" fill="none" stroke="#000" stroke-width="1"/>
<path d="M499.4 1055.5 502.7 1051.3 511 1056.3" fill="none" stroke="#000" stroke-width="1.2"/>
<path d="M509.3 1061.3 514.3 1058 520.9 1061.3" fill="none" stroke="#000" stroke-width="1.2"/>
<path d="M542.5 1066.2 543.3 1079.5 550 1086.2" fill="none" stroke="#000" stroke-width="1.2"/>
<path d="M549.1 1062.9 550 1076.2" fill="none" stroke="#000" stroke-width="1" stroke-dasharray="3 2"/>
<path d="M554.1 1096.9 554.9 1094.4 572.4 1092.8" fill="none" stroke="#000" stroke-width="1.6"/>
<path d="M462.9 1009.9 472.8 1015.7" fill="none" stroke="#000" stroke-width="1"/>
<path d="M452.9 1008.2 459.6 1018.1" fill="none" stroke="#000" stroke-width="1" stroke-dasharray="2 2"/>
<path d="M385.8 1043.9 389.9 1033.1 399 1027.3 407.3 1028.9 513.5 1087.8 520.1 1096.1 523.4 1111 529.2 1117.7 528.4 1124.3 519.3 1126.8 501 1126.8 495.2 1119.3 489.4 1111 476.2 1102.7 418.1 1067.9 411.5 1066.2 407.3 1071.2 402.3 1070.4 399.9 1064.6 391.6 1053.8Z" fill="#fff" stroke="#000" stroke-width="1.8"/>
<path d="M390.7 1037.2 399.9 1031.4 514.3 1094.4 520.1 1111" fill="none" stroke="#000" stroke-width="1" stroke-dasharray="2 2"/>
<path d="M394.9 1039.7 511 1102.7 517.6 1122.6" fill="none" stroke="#000" stroke-width="1" stroke-dasharray="2 2"/>
<path d="M402.3 1061.3 409 1057.1 415.6 1058 491.9 1103.6 499.4 1112.7" fill="none" stroke="#000" stroke-width="1.2"/>
<path d="M419.8 1066.2 492.7 1109.4" fill="none" stroke="#000" stroke-width="2.4" stroke-dasharray="1.2 1.6"/>
<path d="M496.1 1112.7 502.7 1124.3" fill="none" stroke="#000" stroke-width="2.2" stroke-dasharray="1.2 1.6"/>
<text x="453.8" y="1072.9" font-size="7.5" font-weight="bold" text-anchor="middle" transform="rotate(33 453.8 1072.9)">Electrolux</text>
<path d="M486.9 994.1 490.4 991.1 494.4 992.6 501.4 1000.1 495.9 1002.1 488.4 1000.1Z" fill="none" stroke="#000" stroke-width="1.4"/>
<path d="M494.4 992.6 491.9 997.1 488.4 1000.1" fill="none" stroke="#000" stroke-width="1"/>
<path d="M523.4 1002.9 526.9 999.9 530.9 1001.4 537.9 1008.9 532.4 1010.9 524.9 1008.9Z" fill="none" stroke="#000" stroke-width="1.4"/>
<path d="M530.9 1001.4 528.4 1005.9 524.9 1008.9" fill="none" stroke="#000" stroke-width="1"/>
<path d="M561.1 1023.8 564.6 1020.8 568.6 1022.3 575.6 1029.8 570.1 1031.8 562.6 1029.8Z" fill="none" stroke="#000" stroke-width="1.4"/>
<path d="M568.6 1022.3 566.1 1026.8 562.6 1029.8" fill="none" stroke="#000" stroke-width="1"/>
<path d="M596.4 1059.5 599.9 1056.5 603.9 1058 610.9 1065.5 605.4 1067.5 597.9 1065.5Z" fill="none" stroke="#000" stroke-width="1.4"/>
<path d="M603.9 1058 601.4 1062.5 597.9 1065.5" fill="none" stroke="#000" stroke-width="1"/>
<path d="M523.4 976.4 497 995.3" fill="none" stroke="#000" stroke-width="2.4"/>
<path d="M523.4 976.4 528.4 1002.9" fill="none" stroke="#000" stroke-width="2.4"/>
<text class="lb" x="522" y="970.2" text-anchor="middle" font-size="22">18</text>
<path d="M614 1033.1 572.5 1025.5" fill="none" stroke="#000" stroke-width="2.4"/>
<path d="M614 1033.1 605.2 1059.5" fill="none" stroke="#000" stroke-width="2.4"/>
<text class="lb" x="630.5" y="1038.1" text-anchor="middle" font-size="22">18</text>
<path d="M433.5 1120 450.4 1093.5" fill="none" stroke="#000" stroke-width="2.4"/>
<text class="lb" x="428.5" y="1142.6" text-anchor="middle" font-size="22">17</text>
<path d="M568.7 1137.6 562.4 1098.5" fill="none" stroke="#000" stroke-width="2.4"/>
<text class="lb" x="576.5" y="1160.2" text-anchor="middle" font-size="22">17A</text>
<path d="M486.9 1000.4 474.3 1007.9" fill="none" stroke="#000" stroke-width="1.1" stroke-dasharray="9 4"/>
<path d="M523.4 1009.2 502 1021.8" fill="none" stroke="#000" stroke-width="1.1" stroke-dasharray="9 4"/>
<path d="M561.1 1031.8 529.7 1048.2" fill="none" stroke="#000" stroke-width="1.1" stroke-dasharray="9 4"/>
<path d="M596.4 1067.1 572.5 1079.7" fill="none" stroke="#000" stroke-width="1.1" stroke-dasharray="9 4"/>
<path d="M429 1035.6 447.8 1024.3" fill="none" stroke="#000" stroke-width="1.1" stroke-dasharray="9 4"/>
<path d="M447.8 1053.2 468 1041.9" fill="none" stroke="#000" stroke-width="1.1" stroke-dasharray="9 4"/>
<path d="M486.9 1073.4 509.5 1060.8" fill="none" stroke="#000" stroke-width="1.1" stroke-dasharray="9 4"/>
<path d="M527.2 1106.1 549.8 1094.8" fill="none" stroke="#000" stroke-width="1.1" stroke-dasharray="9 4"/>
<path d="M312.4 1187.8 312.4 1208 301.3 1230.6 301.3 1250.2" fill="none" stroke="#000" stroke-width="5"/>
<path d="M312.4 1187.8 312.4 1208 301.3 1230.6 301.3 1250.2" fill="none" stroke="#fff" stroke-width="1.2"/>
<path d="M333.3 1199.9 333.3 1220 322.2 1242.7 322.2 1262.3" fill="none" stroke="#000" stroke-width="5"/>
<path d="M333.3 1199.9 333.3 1220 322.2 1242.7 322.2 1262.3" fill="none" stroke="#fff" stroke-width="1.2"/>
<path d="M354.2 1211.9 354.2 1232.1 343.1 1254.7 343.1 1274.4" fill="none" stroke="#000" stroke-width="5"/>
<path d="M354.2 1211.9 354.2 1232.1 343.1 1254.7 343.1 1274.4" fill="none" stroke="#fff" stroke-width="1.2"/>
<path d="M375.1 1224 375.1 1244.1 364 1266.8 364 1286.4" fill="none" stroke="#000" stroke-width="5"/>
<path d="M375.1 1224 375.1 1244.1 364 1266.8 364 1286.4" fill="none" stroke="#fff" stroke-width="1.2"/>
<path d="M396 1236 396 1256.2 384.9 1278.8 384.9 1298.5" fill="none" stroke="#000" stroke-width="5"/>
<path d="M396 1236 396 1256.2 384.9 1278.8 384.9 1298.5" fill="none" stroke="#fff" stroke-width="1.2"/>
<path d="M416.9 1248.1 416.9 1268.3 405.8 1290.9 405.8 1310.5" fill="none" stroke="#000" stroke-width="5"/>
<path d="M416.9 1248.1 416.9 1268.3 405.8 1290.9 405.8 1310.5" fill="none" stroke="#fff" stroke-width="1.2"/>
<path d="M437.8 1260.2 437.8 1280.3 426.7 1303 426.7 1322.6" fill="none" stroke="#000" stroke-width="5"/>
<path d="M437.8 1260.2 437.8 1280.3 426.7 1303 426.7 1322.6" fill="none" stroke="#fff" stroke-width="1.2"/>
<path d="M458.7 1272.2 458.7 1292.4 447.6 1315 447.6 1334.7" fill="none" stroke="#000" stroke-width="5"/>
<path d="M458.7 1272.2 458.7 1292.4 447.6 1315 447.6 1334.7" fill="none" stroke="#fff" stroke-width="1.2"/>
<path d="M479.6 1284.3 479.6 1304.4 468.5 1327.1 468.5 1346.7" fill="none" stroke="#000" stroke-width="5"/>
<path d="M479.6 1284.3 479.6 1304.4 468.5 1327.1 468.5 1346.7" fill="none" stroke="#fff" stroke-width="1.2"/>
<path d="M500.5 1296.3 500.5 1316.5 489.4 1339.1 489.4 1358.8" fill="none" stroke="#000" stroke-width="5"/>
<path d="M500.5 1296.3 500.5 1316.5 489.4 1339.1 489.4 1358.8" fill="none" stroke="#fff" stroke-width="1.2"/>
<path d="M521.4 1308.4 521.4 1328.5 510.3 1351.2 510.3 1370.8" fill="none" stroke="#000" stroke-width="5"/>
<path d="M521.4 1308.4 521.4 1328.5 510.3 1351.2 510.3 1370.8" fill="none" stroke="#fff" stroke-width="1.2"/>
<path d="M542.3 1320.5 542.3 1340.6 531.2 1363.3 531.2 1382.9" fill="none" stroke="#000" stroke-width="5"/>
<path d="M542.3 1320.5 542.3 1340.6 531.2 1363.3 531.2 1382.9" fill="none" stroke="#fff" stroke-width="1.2"/>
<path d="M297.8 1243.2 568.4 1399.3" fill="none" stroke="#000" stroke-width="5"/>
<path d="M297.8 1243.2 568.4 1399.3" fill="none" stroke="#fff" stroke-width="1.2"/>
<path d="M283 1253.7 289.9 1248.9 290.3 1244.2 292.2 1239 294.6 1237.1 298.9 1235.7 304.1 1236.6 308.4 1235.2 313.6 1235.2 317.4 1236.6 318.8 1239 318.3 1241.8 314 1246.6 306 1248.5 306 1250.8 303.1 1253.9 297.5 1254.2 296.5 1256.5 292.7 1257.9 287 1257.9Z" fill="#000" stroke="#000" stroke-width="1"/>
<path d="M298.5 1241.7 301 1244.2 303 1243.2" fill="none" stroke="#fff" stroke-width="1.6"/>
<path d="M299 1248.7 301 1249.7 303 1248.7" fill="none" stroke="#fff" stroke-width="1.3"/>
<path d="M313.5 1240.7 315.5 1240.2" fill="none" stroke="#fff" stroke-width="1.5"/>
<path d="M292.5 1254.2 294.5 1251.2" fill="none" stroke="#fff" stroke-width="1.1"/>
<path d="M294.5 1241.7 295.5 1240.2" fill="none" stroke="#fff" stroke-width="1.1"/>
<path d="M407.6 1326.2 414.5 1321.4 414.9 1316.7 416.8 1311.5 419.2 1309.6 423.5 1308.2 428.7 1309.1 433 1307.7 438.2 1307.7 442 1309.1 443.4 1311.5 442.9 1314.3 438.6 1319.1 430.6 1321 430.6 1323.3 427.7 1326.4 422.1 1326.7 421.1 1329 417.3 1330.4 411.6 1330.4Z" fill="#000" stroke="#000" stroke-width="1"/>
<path d="M423.1 1314.2 425.6 1316.7 427.6 1315.7" fill="none" stroke="#fff" stroke-width="1.6"/>
<path d="M423.6 1321.2 425.6 1322.2 427.6 1321.2" fill="none" stroke="#fff" stroke-width="1.3"/>
<path d="M438.1 1313.2 440.1 1312.7" fill="none" stroke="#fff" stroke-width="1.5"/>
<path d="M417.1 1326.7 419.1 1323.7" fill="none" stroke="#fff" stroke-width="1.1"/>
<path d="M419.1 1314.2 420.1 1312.7" fill="none" stroke="#fff" stroke-width="1.1"/>
<path d="M470.6 1362.7 477.5 1357.9 477.9 1353.2 479.8 1348 482.2 1346.1 486.5 1344.7 491.7 1345.6 496 1344.2 501.2 1344.2 505 1345.6 506.4 1348 505.9 1350.8 501.6 1355.6 493.6 1357.5 493.6 1359.8 490.7 1362.9 485.1 1363.2 484.1 1365.5 480.3 1366.9 474.6 1366.9Z" fill="#000" stroke="#000" stroke-width="1"/>
<path d="M486.1 1350.7 488.6 1353.2 490.6 1352.2" fill="none" stroke="#fff" stroke-width="1.6"/>
<path d="M486.6 1357.7 488.6 1358.7 490.6 1357.7" fill="none" stroke="#fff" stroke-width="1.3"/>
<path d="M501.1 1349.7 503.1 1349.2" fill="none" stroke="#fff" stroke-width="1.5"/>
<path d="M480.1 1363.2 482.1 1360.2" fill="none" stroke="#fff" stroke-width="1.1"/>
<path d="M482.1 1350.7 483.1 1349.2" fill="none" stroke="#fff" stroke-width="1.1"/>
<path d="M666.2 1108.9 666.2 1129.1 655.1 1151.7 655.1 1171.3" fill="none" stroke="#000" stroke-width="5"/>
<path d="M666.2 1108.9 666.2 1129.1 655.1 1151.7 655.1 1171.3" fill="none" stroke="#fff" stroke-width="1.2"/>
<path d="M687.1 1121 687.1 1141.1 676 1163.8 676 1183.4" fill="none" stroke="#000" stroke-width="5"/>
<path d="M687.1 1121 687.1 1141.1 676 1163.8 676 1183.4" fill="none" stroke="#fff" stroke-width="1.2"/>
<path d="M708 1133 708 1153.2 696.9 1175.8 696.9 1195.5" fill="none" stroke="#000" stroke-width="5"/>
<path d="M708 1133 708 1153.2 696.9 1175.8 696.9 1195.5" fill="none" stroke="#fff" stroke-width="1.2"/>
<path d="M728.9 1145.1 728.9 1165.2 717.8 1187.9 717.8 1207.5" fill="none" stroke="#000" stroke-width="5"/>
<path d="M728.9 1145.1 728.9 1165.2 717.8 1187.9 717.8 1207.5" fill="none" stroke="#fff" stroke-width="1.2"/>
<path d="M749.8 1157.1 749.8 1177.3 738.7 1199.9 738.7 1219.6" fill="none" stroke="#000" stroke-width="5"/>
<path d="M749.8 1157.1 749.8 1177.3 738.7 1199.9 738.7 1219.6" fill="none" stroke="#fff" stroke-width="1.2"/>
<path d="M770.7 1169.2 770.7 1189.4 759.6 1212 759.6 1231.6" fill="none" stroke="#000" stroke-width="5"/>
<path d="M770.7 1169.2 770.7 1189.4 759.6 1212 759.6 1231.6" fill="none" stroke="#fff" stroke-width="1.2"/>
<path d="M791.6 1181.3 791.6 1201.4 780.5 1224.1 780.5 1243.7" fill="none" stroke="#000" stroke-width="5"/>
<path d="M791.6 1181.3 791.6 1201.4 780.5 1224.1 780.5 1243.7" fill="none" stroke="#fff" stroke-width="1.2"/>
<path d="M812.5 1193.3 812.5 1213.5 801.4 1236.1 801.4 1255.8" fill="none" stroke="#000" stroke-width="5"/>
<path d="M812.5 1193.3 812.5 1213.5 801.4 1236.1 801.4 1255.8" fill="none" stroke="#fff" stroke-width="1.2"/>
<path d="M833.4 1205.4 833.4 1225.5 822.3 1248.2 822.3 1267.8" fill="none" stroke="#000" stroke-width="5"/>
<path d="M833.4 1205.4 833.4 1225.5 822.3 1248.2 822.3 1267.8" fill="none" stroke="#fff" stroke-width="1.2"/>
<path d="M854.3 1217.4 854.3 1237.6 843.2 1260.2 843.2 1279.9" fill="none" stroke="#000" stroke-width="5"/>
<path d="M854.3 1217.4 854.3 1237.6 843.2 1260.2 843.2 1279.9" fill="none" stroke="#fff" stroke-width="1.2"/>
<path d="M875.2 1229.5 875.2 1249.6 864.1 1272.3 864.1 1291.9" fill="none" stroke="#000" stroke-width="5"/>
<path d="M875.2 1229.5 875.2 1249.6 864.1 1272.3 864.1 1291.9" fill="none" stroke="#fff" stroke-width="1.2"/>
<path d="M896.1 1241.6 896.1 1261.7 885 1284.4 885 1304" fill="none" stroke="#000" stroke-width="5"/>
<path d="M896.1 1241.6 896.1 1261.7 885 1284.4 885 1304" fill="none" stroke="#fff" stroke-width="1.2"/>
<path d="M651.6 1164.3 922.2 1320.4" fill="none" stroke="#000" stroke-width="5"/>
<path d="M651.6 1164.3 922.2 1320.4" fill="none" stroke="#fff" stroke-width="1.2"/>
<path d="M636.8 1174.8 643.7 1170 644.1 1165.3 646 1160.1 648.4 1158.2 652.7 1156.8 657.9 1157.7 662.2 1156.3 667.4 1156.3 671.2 1157.7 672.6 1160.1 672.1 1162.9 667.8 1167.7 659.8 1169.6 659.8 1171.9 656.9 1175 651.3 1175.3 650.3 1177.6 646.5 1179 640.8 1179Z" fill="#000" stroke="#000" stroke-width="1"/>
<path d="M652.3 1162.8 654.8 1165.3 656.8 1164.3" fill="none" stroke="#fff" stroke-width="1.6"/>
<path d="M652.8 1169.8 654.8 1170.8 656.8 1169.8" fill="none" stroke="#fff" stroke-width="1.3"/>
<path d="M667.3 1161.8 669.3 1161.3" fill="none" stroke="#fff" stroke-width="1.5"/>
<path d="M646.3 1175.3 648.3 1172.3" fill="none" stroke="#fff" stroke-width="1.1"/>
<path d="M648.3 1162.8 649.3 1161.3" fill="none" stroke="#fff" stroke-width="1.1"/>
<path d="M761.4 1247.3 768.3 1242.5 768.7 1237.8 770.6 1232.6 773 1230.7 777.3 1229.3 782.5 1230.2 786.8 1228.8 792 1228.8 795.8 1230.2 797.2 1232.6 796.7 1235.4 792.4 1240.2 784.4 1242.1 784.4 1244.4 781.5 1247.5 775.9 1247.8 774.9 1250.1 771.1 1251.5 765.4 1251.5Z" fill="#000" stroke="#000" stroke-width="1"/>
<path d="M776.9 1235.3 779.4 1237.8 781.4 1236.8" fill="none" stroke="#fff" stroke-width="1.6"/>
<path d="M777.4 1242.3 779.4 1243.3 781.4 1242.3" fill="none" stroke="#fff" stroke-width="1.3"/>
<path d="M791.9 1234.3 793.9 1233.8" fill="none" stroke="#fff" stroke-width="1.5"/>
<path d="M770.9 1247.8 772.9 1244.8" fill="none" stroke="#fff" stroke-width="1.1"/>
<path d="M772.9 1235.3 773.9 1233.8" fill="none" stroke="#fff" stroke-width="1.1"/>
<path d="M824.4 1283.8 831.3 1279 831.7 1274.3 833.6 1269.1 836 1267.2 840.3 1265.8 845.5 1266.7 849.8 1265.3 855 1265.3 858.8 1266.7 860.2 1269.1 859.7 1271.9 855.4 1276.7 847.4 1278.6 847.4 1280.9 844.5 1284 838.9 1284.3 837.9 1286.6 834.1 1288 828.4 1288Z" fill="#000" stroke="#000" stroke-width="1"/>
<path d="M839.9 1271.8 842.4 1274.3 844.4 1273.3" fill="none" stroke="#fff" stroke-width="1.6"/>
<path d="M840.4 1278.8 842.4 1279.8 844.4 1278.8" fill="none" stroke="#fff" stroke-width="1.3"/>
<path d="M854.9 1270.8 856.9 1270.3" fill="none" stroke="#fff" stroke-width="1.5"/>
<path d="M833.9 1284.3 835.9 1281.3" fill="none" stroke="#fff" stroke-width="1.1"/>
<path d="M835.9 1271.8 836.9 1270.3" fill="none" stroke="#fff" stroke-width="1.1"/>
<path d="M437.5 1208.4 398.5 1243.7" fill="none" stroke="#000" stroke-width="2.3"/>
<text class="lb" x="448.8" y="1205.4" text-anchor="middle" font-size="22">13</text>
<path d="M305.3 1302.3 296.5 1254.5" fill="none" stroke="#000" stroke-width="2.3"/>
<text class="lb" x="309" y="1327.5" text-anchor="middle" font-size="22">15</text>
<path d="M423.6 1326.2 429.2 1371 474 1360.2" fill="none" stroke="#000" stroke-width="2.3"/>
<text class="lb" x="418.2" y="1390.4" text-anchor="middle" font-size="22">15</text>
<path d="M807.7 1159.2 791.3 1178.1" fill="none" stroke="#000" stroke-width="2.3"/>
<text class="lb" x="817.8" y="1154.2" text-anchor="middle" font-size="22">13</text>
<path d="M651.6 1217.1 645.3 1175.6" fill="none" stroke="#000" stroke-width="2.3"/>
<text class="lb" x="647.7" y="1239.4" text-anchor="middle" font-size="22">15</text>
<path d="M772.5 1251.1 772.5 1272.5 827.8 1280.1" fill="none" stroke="#000" stroke-width="2.3"/>
<text class="lb" x="763.6" y="1297" text-anchor="middle" font-size="22">15</text>
<path d="M1140.6 1024.5 1170.8 1042.1" fill="none" stroke="#000" stroke-width="1.1" stroke-dasharray="9 4"/>
<path d="M1233.7 977.9 1246.3 985.5" fill="none" stroke="#000" stroke-width="1.1" stroke-dasharray="9 4"/>
<path d="M1279 956.5 1296.7 965.3" fill="none" stroke="#000" stroke-width="1.1" stroke-dasharray="9 4"/>
<path d="M1319.3 926.3 1347 940.2" fill="none" stroke="#000" stroke-width="1.1" stroke-dasharray="9 4"/>
<path d="M1392.3 966.6 1422.5 983" fill="none" stroke="#000" stroke-width="1.1" stroke-dasharray="9 4"/>
<path d="M1377.2 976.7 1437.6 1008.1" fill="none" stroke="#000" stroke-width="1.1" stroke-dasharray="9 4"/>
<path d="M1319.3 977.9 1349.5 998.1" fill="none" stroke="#000" stroke-width="1.1" stroke-dasharray="9 4"/>
<path d="M1276.5 1003.1 1306.7 1020.7" fill="none" stroke="#000" stroke-width="1.1" stroke-dasharray="9 4"/>
<path d="M1211.1 1068.5 1238.8 1081.1" fill="none" stroke="#000" stroke-width="1.1" stroke-dasharray="9 4"/>
<path d="M1241.3 1050.9 1304.2 1087.4" fill="none" stroke="#000" stroke-width="1.1" stroke-dasharray="9 4"/>
<path d="M1099.5 1006.8 1103.3 997.3 1114.6 987.9 1133.6 975.5 1156.4 962.3 1165.8 960.4 1171.5 963.2 1169.6 953.7 1175.3 946.2 1192.4 932.9 1198.1 931 1205.6 934.8 1211.3 942.4 1218.9 931 1226.5 923.4 1230.3 915.8 1239.8 887.4 1245.5 882.7 1253 880.8 1253 893.1 1247.3 896.9 1247.3 904.5 1254.9 902.6 1260.6 876 1266.3 870.3 1277.7 867.5 1278.6 881.7 1269.1 884.5 1268.2 896.9 1279.6 900.7 1290.9 895 1309.9 890.2 1319.4 895 1323.2 904.5 1322.2 913.9 1315.6 923.4 1304.2 931 1296.6 931.9 1290.9 936.7 1281.5 938.6 1277.7 948.1 1268.2 953.7 1261.6 952.8 1256.8 959.4 1243.6 966.1 1239.8 964.2 1234.1 972.7 1218.9 980.3 1213.2 978.4 1207.5 986 1190.5 995.5 1184.8 993.6 1175.3 1003 1171.5 1010.6 1152.6 1018.2 1146.9 1016.3 1137.4 1023.9 1131.7 1031.5 1116.5 1039.1 1107.1 1039.1 1101.4 1031.5Z" fill="#fff" stroke="#000" stroke-width="1.8"/>
<path d="M1116.5 997.3 1116.5 1029.6" fill="none" stroke="#000" stroke-width="1.2"/>
<path d="M1120.3 995.5 1120.3 1027.7" fill="none" stroke="#000" stroke-width="1.2"/>
<path d="M1134.5 986 1134.5 1022" fill="none" stroke="#000" stroke-width="1.2"/>
<path d="M1138.3 984.1 1138.3 1010.6" fill="none" stroke="#000" stroke-width="1.2"/>
<path d="M1145.9 989.8 1145.9 1003" fill="none" stroke="#000" stroke-width="1.2"/>
<path d="M1163 967 1163 1004.9" fill="none" stroke="#000" stroke-width="1.2"/>
<path d="M1166.8 965.1 1166.8 991.7" fill="none" stroke="#000" stroke-width="1.2"/>
<path d="M1184.8 959.4 1184.8 991.7" fill="none" stroke="#000" stroke-width="1.2"/>
<path d="M1188.6 957.5 1188.6 980.3" fill="none" stroke="#000" stroke-width="1.2"/>
<path d="M1199 946.2 1199 982.2" fill="none" stroke="#000" stroke-width="1.2"/>
<path d="M1203.7 953.7 1203.7 980.3" fill="none" stroke="#000" stroke-width="1.2"/>
<path d="M1210.4 946.2 1210.4 972.7" fill="none" stroke="#000" stroke-width="1.2"/>
<path d="M1222.7 934.8 1222.7 970.8" fill="none" stroke="#000" stroke-width="1.2"/>
<path d="M1226.9 932.9 1226.9 970.8" fill="none" stroke="#000" stroke-width="1.2"/>
<path d="M1231.2 951.8 1231.2 972.7" fill="none" stroke="#000" stroke-width="1.2"/>
<path d="M1236 950 1236 970.8" fill="none" stroke="#000" stroke-width="1.2"/>
<path d="M1243.9 936.7 1243.9 961.3" fill="none" stroke="#000" stroke-width="1.2"/>
<path d="M1247.7 934.8 1247.7 959.4" fill="none" stroke="#000" stroke-width="1.2"/>
<path d="M1253.4 915.8 1253.4 953.7" fill="none" stroke="#000" stroke-width="1.2"/>
<path d="M1257.2 919.6 1257.2 951.8" fill="none" stroke="#000" stroke-width="1.2"/>
<path d="M1268.2 906.4 1268.2 942.4" fill="none" stroke="#000" stroke-width="1.2"/>
<path d="M1272 908.2 1272 925.3" fill="none" stroke="#000" stroke-width="1.2"/>
<path d="M1281.8 915.8 1281.8 932.9" fill="none" stroke="#000" stroke-width="1.2"/>
<path d="M1286.2 902.6 1286.2 931" fill="none" stroke="#000" stroke-width="1.2"/>
<path d="M1297 896.9 1297 925.3" fill="none" stroke="#000" stroke-width="1.2"/>
<path d="M1300.8 900.7 1300.8 915.8" fill="none" stroke="#000" stroke-width="1.2"/>
<path d="M1163 968.9 1163 1003" fill="none" stroke="#000" stroke-width="2.6"/>
<path d="M1231.2 951.8 1231.2 972.7" fill="none" stroke="#000" stroke-width="2.4"/>
<path d="M1205.6 957.5 1205.6 972.7" fill="none" stroke="#000" stroke-width="2.4"/>
<path d="M1107.1 1010.6 1107.1 1033.4" fill="none" stroke="#000" stroke-width="1.1"/>
<path d="M1103.3 1006.8 1110.9 1001.1 1110.9 1035.3" fill="none" stroke="#000" stroke-width="1" stroke-dasharray="3 2"/>
<path d="M1114.6 987.9 1118.4 991.7 1135.5 981.2 1156.4 968.9 1165.8 967" fill="none" stroke="#000" stroke-width="1" stroke-dasharray="3 2"/>
<path d="M1175.3 953.7 1196.2 938.6" fill="none" stroke="#000" stroke-width="1"/>
<path d="M1176.1 955.6 1196.9 940.5" fill="none" stroke="#000" stroke-width="1"/>
<path d="M1176.8 957.5 1197.7 942.4" fill="none" stroke="#000" stroke-width="1"/>
<path d="M1177.6 959.4 1198.4 944.3" fill="none" stroke="#000" stroke-width="1"/>
<path d="M1178.3 961.3 1199.2 946.2" fill="none" stroke="#000" stroke-width="1"/>
<path d="M1179.1 963.2 1200 948.1" fill="none" stroke="#000" stroke-width="1"/>
<ellipse cx="1173.4" cy="955.6" rx="3.4" ry="4.2" transform="rotate(0 1173.4 955.6)" fill="none" stroke="#000" stroke-width="1.4"/>
<path d="M1239.8 887.4 1243.6 891.2 1247.3 887.4" fill="none" stroke="#000" stroke-width="1"/>
<path d="M1260.6 876 1265.4 878.9 1277.7 876" fill="none" stroke="#000" stroke-width="1"/>
<path d="M1234.1 902.6 1241.7 889.3" fill="none" stroke="#000" stroke-width="1" stroke-dasharray="2 2"/>
<path d="M1256.8 896.9 1263.5 877.9" fill="none" stroke="#000" stroke-width="1" stroke-dasharray="2 2"/>
<path d="M1290.9 895 1294.7 902.6 1296.6 931" fill="none" stroke="#000" stroke-width="1.1"/>
<path d="M1298.5 895 1300.4 902.6 1315.6 898.8 1320.3 904.5" fill="none" stroke="#000" stroke-width="1"/>
<path d="M1304.2 915.8 1309.9 923.4 1317.5 912 1311.8 908.2" fill="none" stroke="#000" stroke-width="1.2"/>
<ellipse cx="1152.6" cy="1011.6" rx="4.2" ry="2.7" transform="rotate(-28 1152.6 1011.6)" fill="none" stroke="#000" stroke-width="1.1"/>
<ellipse cx="1196.2" cy="989.8" rx="4.2" ry="2.7" transform="rotate(-28 1196.2 989.8)" fill="none" stroke="#000" stroke-width="1.1"/>
<ellipse cx="1241.7" cy="961.3" rx="4.2" ry="2.7" transform="rotate(-28 1241.7 961.3)" fill="none" stroke="#000" stroke-width="1.1"/>
<ellipse cx="1266.3" cy="948.1" rx="4.2" ry="2.7" transform="rotate(-28 1266.3 948.1)" fill="none" stroke="#000" stroke-width="1.1"/>
<ellipse cx="1289.1" cy="932.9" rx="4.2" ry="2.7" transform="rotate(-28 1289.1 932.9)" fill="none" stroke="#000" stroke-width="1.1"/>
<path d="M1170.6 1042.8 1175.3 1035.3 1188.6 1026.7 1211.3 1013.5 1239.8 997.3 1241.7 990.7 1251.1 986 1260.6 989.8 1266.3 976.5 1276.7 972.7 1283.4 976.5 1288.1 970.8 1304.2 961.3 1317.5 956.6 1344 942.4 1353.5 939.5 1359.2 943.3 1370.6 934.8 1380 929.1 1387.6 930 1390.5 936.7 1389.5 946.2 1400.9 953.7 1401.8 960.4 1374.4 972.7 1342.1 991.7 1296.6 1017.3 1239.8 1050.4 1196.2 1076 1181 1083.6 1173.4 1081.7 1170.6 1075.1Z" fill="#fff" stroke="#000" stroke-width="1.8"/>
<path d="M1175.3 1044.7 1175.3 1077 1181 1079.8" fill="none" stroke="#000" stroke-width="1"/>
<path d="M1179.1 1039.1 1192.4 1030.5 1215.1 1018.2 1241.7 1003 1251.1 991.7 1258.7 994.5 1268.2 981.2 1276.7 978.4 1281.5 981.2 1306.1 966.1 1344 948.1 1353.5 945.2 1359.2 949 1380 934.8 1385.7 935.7 1386.7 946.2" fill="none" stroke="#000" stroke-width="1" stroke-dasharray="3 2"/>
<path d="M1179.1 1080.8 1196.2 1071.3 1239.8 1045.7 1296.6 1012.5 1342.1 986.9 1374.4 968.9 1397.1 958.5" fill="none" stroke="#000" stroke-width="1" stroke-dasharray="3 2"/>
<ellipse cx="1202.8" cy="1061.8" rx="6.1" ry="6.1" transform="rotate(0 1202.8 1061.8)" fill="none" stroke="#000" stroke-width="1.5"/>
<path d="M1199.8 1060 1205.2 1064.2 1203.4 1058.8" fill="none" stroke="#000" stroke-width="1.3"/>
<ellipse cx="1230.3" cy="1044.7" rx="6.8" ry="6.8" transform="rotate(0 1230.3 1044.7)" fill="none" stroke="#000" stroke-width="1.5"/>
<path d="M1226.9 1042.7 1233 1047.5 1231 1041.3" fill="none" stroke="#000" stroke-width="1.3"/>
<ellipse cx="1269.1" cy="1001.1" rx="5.3" ry="5.3" transform="rotate(0 1269.1 1001.1)" fill="none" stroke="#000" stroke-width="1.5"/>
<path d="M1266.5 999.5 1271.3 1003.3 1269.7 998.5" fill="none" stroke="#000" stroke-width="1.3"/>
<ellipse cx="1315.6" cy="975.5" rx="5.3" ry="5.3" transform="rotate(0 1315.6 975.5)" fill="none" stroke="#000" stroke-width="1.5"/>
<path d="M1312.9 974 1317.7 977.7 1316.1 972.9" fill="none" stroke="#000" stroke-width="1.3"/>
<ellipse cx="1363.9" cy="965.1" rx="6.8" ry="6.8" transform="rotate(0 1363.9 965.1)" fill="none" stroke="#000" stroke-width="1.5"/>
<path d="M1360.5 963.1 1366.7 967.8 1364.6 961.7" fill="none" stroke="#000" stroke-width="1.3"/>
<ellipse cx="1379.1" cy="964.2" rx="3" ry="3" transform="rotate(0 1379.1 964.2)" fill="none" stroke="#000" stroke-width="1.5"/>
<path d="M1377.6 963.3 1380.3 965.4 1379.4 962.7" fill="none" stroke="#000" stroke-width="1.3"/>
<path d="M1188.6 1048.5 1190.5 1040.9 1226.5 1022 1234.1 1024.8 1232.2 1031.5 1196.2 1051.4Z" fill="none" stroke="#000" stroke-width="1.1" stroke-dasharray="3 2"/>
<path d="M1247.3 1010.6 1302.3 981.2" fill="none" stroke="#000" stroke-width="1" stroke-dasharray="2 2"/>
<path d="M1251.1 1015.4 1306.1 986" fill="none" stroke="#000" stroke-width="1" stroke-dasharray="2 2"/>
<path d="M1319.4 972.7 1355.4 953.7" fill="none" stroke="#000" stroke-width="1" stroke-dasharray="2 2"/>
<path d="M1321.3 977.4 1353.5 960.4" fill="none" stroke="#000" stroke-width="1" stroke-dasharray="2 2"/>
<path d="M1213.2 1013.5 1218.9 1016.3 1222.7 1010.6 1228.4 1013.5 1234.1 1004.9 1239.8 1006.8" fill="none" stroke="#000" stroke-width="1.2"/>
<path d="M1266.3 976.5 1270.1 972.7 1273.9 978.4 1277.7 973.6" fill="none" stroke="#000" stroke-width="2.2"/>
<path d="M1236 1011.6 1239.8 1015.4 1241.7 1010.6" fill="none" stroke="#000" stroke-width="1.4"/>
<path d="M1254.9 1009.7 1256.8 1014.4" fill="none" stroke="#000" stroke-width="1.4"/>
<path d="M1345.9 938.6 1351.6 943.3" fill="none" stroke="#000" stroke-width="1.8"/>
<path d="M1370.6 934.8 1372.5 942.4 1378.2 940.5" fill="none" stroke="#000" stroke-width="1"/>
<path d="M1173.4 1048.5 1177.2 1050.4" fill="none" stroke="#000" stroke-width="1.2"/>
<path d="M1309.9 1004.9 1317.5 1001.1" fill="none" stroke="#000" stroke-width="1.3"/>
<path d="M1266.3 1029.6 1273.9 1025.8" fill="none" stroke="#000" stroke-width="1.3"/>
<path d="M1182.1 852 1199.7 842 1221.1 847 1222.4 850.8 1201 863.4 1199.7 881 1204.8 893.6 1201 901.1 1190.9 898.6 1185.9 906.2 1183.4 881 1172 877.2 1173.3 874.7 1183.4 870.9Z" fill="#fff" stroke="#000" stroke-width="1.7"/>
<path d="M1182.1 852 1201 858.3 1221.1 848.3" fill="none" stroke="#000" stroke-width="1"/>
<path d="M1201 858.3 1201 863.4" fill="none" stroke="#000" stroke-width="1"/>
<path d="M1185.9 858.3 1201 850.8 1216.1 854.6" fill="none" stroke="#000" stroke-width="1" stroke-dasharray="2 2"/>
<path d="M1190.9 878.5 1197.2 877.2 1199.7 891.1 1193.4 894.8Z" fill="none" stroke="#000" stroke-width="2.4"/>
<path d="M1187.1 901.1 1185.9 906.2 1189.7 907.4 1192.2 901.1" fill="none" stroke="#000" stroke-width="1.4"/>
<path d="M1190.9 909.2 1190.9 933.9" fill="none" stroke="#000" stroke-width="1.6" stroke-dasharray="7 4"/>
<path d="M1213.1 786.6 1203.5 843.2" fill="none" stroke="#000" stroke-width="2.3"/>
<text class="lb" x="1215.8" y="779" text-anchor="middle" font-size="22">20</text>
<path d="M1311 822.6 1297.9 893.6" fill="none" stroke="#000" stroke-width="2.3"/>
<text class="lb" x="1321.6" y="814.8" text-anchor="middle" font-size="22">21A</text>
<path d="M1408.7 886 1386 928.8" fill="none" stroke="#000" stroke-width="2.4"/>
<text class="lb" x="1418.5" y="879.7" text-anchor="middle" font-size="22">19A</text>
<path d="M1431.4 932.6 1423.8 981.7" fill="none" stroke="#000" stroke-width="2.4"/>
<text class="lb" x="1444.6" y="926.3" text-anchor="middle" font-size="22">18</text>
<path d="M1354.6 1001.8 1350.8 1030.8 1318.1 1026.5" fill="none" stroke="#000" stroke-width="2.4"/>
<text class="lb" x="1362.9" y="1049.2" text-anchor="middle" font-size="22">18</text>
<path d="M1199.7 1115.1 1240 1088.7" fill="none" stroke="#000" stroke-width="2.4"/>
<text class="lb" x="1189.9" y="1134.8" text-anchor="middle" font-size="22">18</text>
<path d="M1263.4 1135.8 1305.5 1097.5" fill="none" stroke="#000" stroke-width="2.4"/>
<text class="lb" x="1255.4" y="1157.9" text-anchor="middle" font-size="22">8</text>
<path d="M1445.2 1073.6 1445.2 1028.3" fill="none" stroke="#000" stroke-width="2.4"/>
<text class="lb" x="1448.4" y="1095" text-anchor="middle" font-size="22">8</text>
<path d="M1364.6 1082.9 1401.1 1086.9" fill="none" stroke="#000" stroke-width="2.4"/>
<text class="lb" x="1354.2" y="1092.5" text-anchor="middle" font-size="22">4</text>
<path d="M1417.5 983.4 1423.5 980.4 1431 982.4 1431.5 988.4 1426.5 992.4 1422.5 990.9 1423 986.9Z" fill="#fff" stroke="#000" stroke-width="1.5"/>
<path d="M1423.5 980.4 1425.5 985.4 1431.5 984.4" fill="none" stroke="#000" stroke-width="1"/>
<path d="M1425.5 985.4 1426.5 992.4" fill="none" stroke="#000" stroke-width="1"/>
<path d="M1349.5 998.5 1355.5 995.5 1363 997.5 1363.5 1003.5 1358.5 1007.5 1354.5 1006 1355 1002Z" fill="#fff" stroke="#000" stroke-width="1.5"/>
<path d="M1355.5 995.5 1357.5 1000.5 1363.5 999.5" fill="none" stroke="#000" stroke-width="1"/>
<path d="M1357.5 1000.5 1358.5 1007.5" fill="none" stroke="#000" stroke-width="1"/>
<path d="M1305.5 1022.5 1311.5 1019.5 1319 1021.5 1319.5 1027.5 1314.5 1031.5 1310.5 1030 1311 1026Z" fill="#fff" stroke="#000" stroke-width="1.5"/>
<path d="M1311.5 1019.5 1313.5 1024.5 1319.5 1023.5" fill="none" stroke="#000" stroke-width="1"/>
<path d="M1313.5 1024.5 1314.5 1031.5" fill="none" stroke="#000" stroke-width="1"/>
<path d="M1237.5 1082.9 1243.5 1079.9 1251 1081.9 1251.5 1087.9 1246.5 1091.9 1242.5 1090.4 1243 1086.4Z" fill="#fff" stroke="#000" stroke-width="1.5"/>
<path d="M1243.5 1079.9 1245.5 1084.9 1251.5 1083.9" fill="none" stroke="#000" stroke-width="1"/>
<path d="M1245.5 1084.9 1246.5 1091.9" fill="none" stroke="#000" stroke-width="1"/>
<ellipse cx="1449" cy="1014.4" rx="10.2" ry="12.6" transform="rotate(-10 1449 1014.4)" fill="none" stroke="#000" stroke-width="1.6"/>
<ellipse cx="1450.5" cy="1013.9" rx="5.6" ry="7.6" transform="rotate(-10 1450.5 1013.9)" fill="none" stroke="#000" stroke-width="1"/>
<ellipse cx="1451.5" cy="1013.4" rx="2" ry="3.1" transform="rotate(-10 1451.5 1013.4)" fill="none" stroke="#000" stroke-width="1"/>
<ellipse cx="1314.3" cy="1093.7" rx="10.2" ry="12.6" transform="rotate(-10 1314.3 1093.7)" fill="none" stroke="#000" stroke-width="1.6"/>
<ellipse cx="1315.8" cy="1093.2" rx="5.6" ry="7.6" transform="rotate(-10 1315.8 1093.2)" fill="none" stroke="#000" stroke-width="1"/>
<ellipse cx="1316.8" cy="1092.7" rx="2" ry="3.1" transform="rotate(-10 1316.8 1092.7)" fill="none" stroke="#000" stroke-width="1"/>
<path d="M1403.2 1061.1 1405.1 1059.7 1409.4 1059.7 1410.8 1061.1 1410.8 1069.7 1413.2 1073 1413.2 1099.5 1410.3 1099.8 1406.1 1098.1 1402.7 1101.4 1400.4 1099.5 1400.4 1077.2 1399.9 1073 1403.2 1069.7Z" fill="none" stroke="#000" stroke-width="1.6"/>
<path d="M1404.6 1073 1402.3 1076.8 1402.3 1098.6" fill="none" stroke="#000" stroke-width="1"/>
<path d="M1403.7 1100.5 1403.7 1115.6" fill="none" stroke="#000" stroke-width="1.3" stroke-dasharray="6 3"/>
<path d="M1404.2 1115.2 1066.8 1308.5" fill="none" stroke="#000" stroke-width="2"/>
<path d="M1412.5 1119.7 1075.1 1313" fill="none" stroke="#000" stroke-width="1"/>
<path d="M1412.5 1124.7 1075.1 1318" fill="none" stroke="#000" stroke-width="0.9" stroke-dasharray="2 2"/>
<path d="M1412.5 1129.7 1075.1 1323" fill="none" stroke="#000" stroke-width="0.9" stroke-dasharray="2 2"/>
<path d="M1412.5 1134.7 1075.1 1328" fill="none" stroke="#000" stroke-width="0.9" stroke-dasharray="2 2"/>
<path d="M1412.5 1139.2 1075.1 1332.5" fill="none" stroke="#000" stroke-width="0.9" stroke-dasharray="2 2"/>
<path d="M1412.5 1143.4 1075.1 1336.7" fill="none" stroke="#000" stroke-width="2.2"/>
<path d="M1404.2 1115.2 1412.5 1119.7 1412.5 1143.4" fill="none" stroke="#000" stroke-width="1.8"/>
<path d="M1401.2 1116.4 1408.2 1119.7" fill="none" stroke="#000" stroke-width="3"/>
<path d="M1066.8 1308.5 1076.8 1307 1075.8 1319.5 1068.3 1324.5 1074.3 1335.5 1075.1 1336.7" fill="none" stroke="#000" stroke-width="2"/>
<path d="M1066.8 1308.5 1067.1 1313.5 1074.8 1313" fill="none" stroke="#000" stroke-width="1.5"/>
<path d="M1068.3 1324.5 1067.6 1330.5 1074.3 1335.5" fill="none" stroke="#000" stroke-width="1.6"/>
<path d="M1299.2 1233.5 1290.9 1210.8" fill="none" stroke="#000" stroke-width="2.4"/>
<text class="lb" x="1303.8" y="1254.9" text-anchor="middle" font-size="22">6</text>
<path d="M1014.7 1275 1037.8 1321.6" fill="none" stroke="#000" stroke-width="2.4"/>
<text class="lb" x="1013" y="1271.8" text-anchor="middle" font-size="22">5</text>
<path d="M1035.3 1325.4 1047.9 1315.3 1056.7 1320.4 1055.5 1325.4 1044.1 1331.7 1044.1 1338 1056.7 1344.3 1056.7 1349.3 1044.1 1353.1 1036.6 1350.6Z" fill="#fff" stroke="#000" stroke-width="1.8"/>
<path d="M1035.3 1325.4 1041.6 1329.2 1041.6 1351.8" fill="none" stroke="#000" stroke-width="1.1"/>
<path d="M1041.6 1329.2 1055 1322.1" fill="none" stroke="#000" stroke-width="1.1"/>
<path d="M1052.9 1332.2 1065.5 1326.7" fill="none" stroke="#000" stroke-width="1.1" stroke-dasharray="5 3"/>
<path d="M931.1 1150.8 1073.3 1066.9 1081.8 1074 1081.8 1078.2 1070.4 1084.6 1064.7 1081.1 1060.5 1093.9 1056.2 1095.3 1054.8 1089.6 1034.9 1101 1033.5 1108.1 1027.8 1109.5 1026.4 1103.8 992.2 1123.7 990.8 1130.9 978 1138 976.6 1143.7 970.9 1143.7 970.2 1136.5 946.7 1149.3 946.7 1157.9 936.8 1162.9 931.1 1157.9Z" fill="url(#ht)" stroke="#000" stroke-width="1.5"/>
<path d="M873.5 1115.9 877.1 1110.2 890.6 1102.4 895.5 1103.1 940.3 1150.1 939.6 1153.6 922.6 1161 916.9 1160Z" fill="url(#ht)" stroke="#000" stroke-width="1.8"/>
<path d="M884.2 1115.9 892 1110.2 929.7 1150.1 921.1 1153.6Z" fill="#fff" stroke="#000" stroke-width="1.4"/>
<path d="M905.5 1096 909.1 1091 949.6 1069 955.3 1069.7 991.5 1099.6 990.8 1104.6 951 1130.9 945.3 1130.9Z" fill="url(#ht)" stroke="#000" stroke-width="1.8"/>
<path d="M916.9 1095.3 951 1076.1 980.9 1101 946.7 1122.3Z" fill="#fff" stroke="#000" stroke-width="1.4"/>
<path d="M963.1 1062.6 965.9 1057.6 1006.5 1036.3 1012.1 1037 1049.1 1068.3 1048.4 1073.3 1006.5 1097.4 1001.5 1097Z" fill="url(#ht)" stroke="#000" stroke-width="1.8"/>
<path d="M973.7 1062.6 1007.9 1043.4 1037.7 1069 1003.6 1088.9Z" fill="#fff" stroke="#000" stroke-width="1.4"/>
<path d="M1020.7 1029.9 1023.5 1024.9 1037.7 1017.8 1043.4 1018.5 1087.5 1055.5 1086.8 1061.2 1073.3 1071.9 1068.3 1071.1Z" fill="url(#ht)" stroke="#000" stroke-width="1.8"/>
<path d="M1029.9 1029.9 1039.2 1024.9 1077.5 1057.6 1069.7 1062.6Z" fill="#fff" stroke="#000" stroke-width="1.4"/>
<path d="M884.2 1115.9 929.7 1150.1" fill="none" stroke="#000" stroke-width="2.2"/>
<path d="M892 1110.2 906.9 1135.1 921.1 1153.6" fill="none" stroke="#000" stroke-width="2.2"/>
<path d="M888.4 1118.1 911.2 1115.2" fill="none" stroke="#000" stroke-width="2.2"/>
<path d="M906.9 1135.1 926.8 1138" fill="none" stroke="#000" stroke-width="2.2"/>
<path d="M916.9 1095.3 980.9 1101" fill="none" stroke="#000" stroke-width="2.2"/>
<path d="M951 1076.1 946.7 1122.3" fill="none" stroke="#000" stroke-width="2.2"/>
<path d="M928.2 1089.6 968.1 1109.5" fill="none" stroke="#000" stroke-width="2.2"/>
<path d="M933.9 1115.2 970.9 1089.6" fill="none" stroke="#000" stroke-width="2.2"/>
<path d="M924 1102.4 959.5 1101" fill="none" stroke="#000" stroke-width="2.2"/>
<path d="M973.7 1062.6 1037.7 1069" fill="none" stroke="#000" stroke-width="2.2"/>
<path d="M1007.9 1043.4 1003.6 1088.9" fill="none" stroke="#000" stroke-width="2.2"/>
<path d="M985.1 1056.9 1024.9 1078.2" fill="none" stroke="#000" stroke-width="2.2"/>
<path d="M992.2 1081.1 1023.5 1055.5" fill="none" stroke="#000" stroke-width="2.2"/>
<path d="M1029.9 1029.9 1077.5 1057.6" fill="none" stroke="#000" stroke-width="2.2"/>
<path d="M1039.2 1024.9 1044.8 1045.5 1069.7 1062.6" fill="none" stroke="#000" stroke-width="2.2"/>
<path d="M1040.6 1042.7 1070.4 1044.1" fill="none" stroke="#000" stroke-width="2.2"/>
<path d="M1044.8 1045.5 1061.9 1058.3" fill="none" stroke="#000" stroke-width="2.2"/>
<path d="M933.9 1096.7 959.5 1095.3" fill="none" stroke="#000" stroke-width="1.2"/>
<path d="M926.8 1108.1 951 1106.7" fill="none" stroke="#000" stroke-width="1.2"/>
<path d="M988 1052.7 1013.6 1051.2" fill="none" stroke="#000" stroke-width="1.2"/>
<path d="M982.3 1071.1 1003.6 1069.7" fill="none" stroke="#000" stroke-width="1.2"/>
<path d="M1043.4 1058.3 1049.1 1055.5 1053.4 1059.1 1047.7 1062.6Z" fill="#fff" stroke="#000" stroke-width="1.6"/>
<path d="M1050.5 1069.7 1056.2 1066.9 1060.5 1070.4 1054.8 1074Z" fill="#fff" stroke="#000" stroke-width="1.6"/>
<path d="M1063.3 1061.2 1073.3 1055.5 1079 1059.8 1069 1066.2Z" fill="#fff" stroke="#000" stroke-width="1.6"/>
<path d="M996.5 1086.8 1016.4 1075.4 1020.7 1079.7 1002.2 1091Z" fill="#fff" stroke="#000" stroke-width="1.4"/>
<path d="M1003.6 1095.3 1023.5 1083.9" fill="none" stroke="#000" stroke-width="1.2"/>
<path d="M951 1133.7 988 1112.4" fill="none" stroke="#000" stroke-width="1.2"/>
<path d="M1041.6 1139.1 1013.9 1111.4" fill="none" stroke="#000" stroke-width="2.4"/>
<text class="lb" x="1051.3" y="1157.5" text-anchor="middle" font-size="22">11</text>
<path d="M1116.5 997.3 1134.5 986.4" fill="none" stroke="#000" stroke-width="1.2"/>
<path d="M1138.3 984.1 1163 969.3" fill="none" stroke="#000" stroke-width="1.2"/>
<path d="M1166.8 965.1 1173.4 961.3" fill="none" stroke="#000" stroke-width="1.2"/>
<path d="M1184.8 959.4 1199 950.9" fill="none" stroke="#000" stroke-width="1.2"/>
<path d="M1203.7 953.7 1210.4 949" fill="none" stroke="#000" stroke-width="1.2"/>
<path d="M1222.7 934.8 1231.2 930" fill="none" stroke="#000" stroke-width="1.2"/>
<path d="M1236 950 1243.9 945.2" fill="none" stroke="#000" stroke-width="1.2"/>
<path d="M1247.7 934.8 1253.4 931" fill="none" stroke="#000" stroke-width="1.2"/>
<path d="M1257.2 919.6 1268.2 913" fill="none" stroke="#000" stroke-width="1.2"/>
<path d="M1272 908.2 1281.8 903.5" fill="none" stroke="#000" stroke-width="1.2"/>
<path d="M1286.2 902.6 1297 896.9" fill="none" stroke="#000" stroke-width="1.2"/>
<path d="M1120.3 1027.7 1134.5 1021" fill="none" stroke="#000" stroke-width="1.2"/>
<path d="M1138.3 1010.6 1145.9 1006.8" fill="none" stroke="#000" stroke-width="1.2"/>
<path d="M1166.8 991.7 1184.8 984.1" fill="none" stroke="#000" stroke-width="1.2"/>
<path d="M1188.6 980.3 1199 975.5" fill="none" stroke="#000" stroke-width="1.2"/>
<path d="M1210.4 972.7 1222.7 967" fill="none" stroke="#000" stroke-width="1.2"/>
<path d="M1236 970.8 1243.9 965.1" fill="none" stroke="#000" stroke-width="1.2"/>
<path d="M1257.2 951.8 1268.2 946.2" fill="none" stroke="#000" stroke-width="1.2"/>
<path d="M1272 925.3 1281.8 921.5" fill="none" stroke="#000" stroke-width="1.2"/>
<path d="M1116.5 1010.6 1120.3 1008.7" fill="none" stroke="#000" stroke-width="1.2"/>
<path d="M1134.5 1003 1138.3 1001.1" fill="none" stroke="#000" stroke-width="1.2"/>
<path d="M1163 986 1166.8 984.1" fill="none" stroke="#000" stroke-width="1.2"/>
<path d="M1199 963.2 1203.7 961.3" fill="none" stroke="#000" stroke-width="1.2"/>
<path d="M1226.9 953.7 1231.2 951.8" fill="none" stroke="#000" stroke-width="1.2"/>
<path d="M1146.9 991.7 1146.9 1003 1152.6 1000.2 1152.6 989.8" fill="none" stroke="#000" stroke-width="1.1"/>
<path d="M1173.4 972.7 1173.4 989.8 1181 986 1181 970.8" fill="none" stroke="#000" stroke-width="1.1"/>
<path d="M1211.3 953.7 1211.3 970.8 1218.9 967 1218.9 950.9" fill="none" stroke="#000" stroke-width="1.1"/>
<path d="M1260.6 929.1 1260.6 946.2 1265.4 943.9 1265.4 927.2" fill="none" stroke="#000" stroke-width="1.1"/>
<path d="M520.4 1475.9 520.4 1575.9 530.8 1590 867.9 1783.2 867.9 1787.2" fill="none" stroke="#000" stroke-width="5"/>
<path d="M520.4 1475.9 520.4 1575.9 530.8 1590 867.9 1783.2 867.9 1787.2" fill="none" stroke="#fff" stroke-width="1.2"/>
<path d="M569.5 1438.3 569.5 1538.3 579.9 1553 915.6 1753.5 915.6 1757.5" fill="none" stroke="#000" stroke-width="5"/>
<path d="M569.5 1438.3 569.5 1538.3 579.9 1553 915.6 1753.5 915.6 1757.5" fill="none" stroke="#fff" stroke-width="1.2"/>
<path d="M613.7 1413.1 613.7 1513.1 624.1 1527.7 961.2 1725.2 961.2 1729.2" fill="none" stroke="#000" stroke-width="5"/>
<path d="M613.7 1413.1 613.7 1513.1 624.1 1527.7 961.2 1725.2 961.2 1729.2" fill="none" stroke="#fff" stroke-width="1.2"/>
<path d="M652.7 1391 652.7 1491 663.1 1505.3 1000.2 1701 1000.2 1705" fill="none" stroke="#000" stroke-width="5"/>
<path d="M652.7 1391 652.7 1491 663.1 1505.3 1000.2 1701 1000.2 1705" fill="none" stroke="#fff" stroke-width="1.2"/>
<path d="M695.5 1366.6 695.5 1466.6 705.9 1480.8 1043 1674.4 1043 1678.4" fill="none" stroke="#000" stroke-width="5"/>
<path d="M695.5 1366.6 695.5 1466.6 705.9 1480.8 1043 1674.4 1043 1678.4" fill="none" stroke="#fff" stroke-width="1.2"/>
<path d="M745.7 1338 745.7 1438 756.1 1452 1093.2 1643.3 1093.2 1647.3" fill="none" stroke="#000" stroke-width="5"/>
<path d="M745.7 1338 745.7 1438 756.1 1452 1093.2 1643.3 1093.2 1647.3" fill="none" stroke="#fff" stroke-width="1.2"/>
<path d="M816.5 1445.3 1124.8 1623.7" fill="none" stroke="#000" stroke-width="5"/>
<path d="M816.5 1445.3 1124.8 1623.7" fill="none" stroke="#fff" stroke-width="1.2"/>
<path d="M852.6 1315.9 852.6 1415.9 841.8 1429.8 491.7 1636.1" fill="none" stroke="#000" stroke-width="5"/>
<path d="M852.6 1315.9 852.6 1415.9 841.8 1429.8 491.7 1636.1" fill="none" stroke="#fff" stroke-width="1.2"/>
<path d="M894.1 1339.7 894.1 1439.7 883.3 1453.8 535.2 1661" fill="none" stroke="#000" stroke-width="5"/>
<path d="M894.1 1339.7 894.1 1439.7 883.3 1453.8 535.2 1661" fill="none" stroke="#fff" stroke-width="1.2"/>
<path d="M937.2 1364.4 937.2 1464.4 926.4 1478.7 577.3 1685.2" fill="none" stroke="#000" stroke-width="5"/>
<path d="M937.2 1364.4 937.2 1464.4 926.4 1478.7 577.3 1685.2" fill="none" stroke="#fff" stroke-width="1.2"/>
<path d="M978.7 1388.2 978.7 1488.2 967.9 1502.6 619.1 1709.2" fill="none" stroke="#000" stroke-width="5"/>
<path d="M978.7 1388.2 978.7 1488.2 967.9 1502.6 619.1 1709.2" fill="none" stroke="#fff" stroke-width="1.2"/>
<path d="M998.9 1399.8 998.9 1499.8 988.2 1514.2 641.1 1721.8" fill="none" stroke="#000" stroke-width="5"/>
<path d="M998.9 1399.8 998.9 1499.8 988.2 1514.2 641.1 1721.8" fill="none" stroke="#fff" stroke-width="1.2"/>
<path d="M1040.4 1423.6 1040.4 1523.6 1029.6 1538 682.9 1745.8" fill="none" stroke="#000" stroke-width="5"/>
<path d="M1040.4 1423.6 1040.4 1523.6 1029.6 1538 682.9 1745.8" fill="none" stroke="#fff" stroke-width="1.2"/>
<path d="M1082.2 1447.6 1082.2 1547.6 1071.4 1562 725 1769.9" fill="none" stroke="#000" stroke-width="5"/>
<path d="M1082.2 1447.6 1082.2 1547.6 1071.4 1562 725 1769.9" fill="none" stroke="#fff" stroke-width="1.2"/>
<path d="M1124.6 1472 1124.6 1572 1113.9 1586.4 767.1 1794.1" fill="none" stroke="#000" stroke-width="5"/>
<path d="M1124.6 1472 1124.6 1572 1113.9 1586.4 767.1 1794.1" fill="none" stroke="#fff" stroke-width="1.2"/>
<path d="M567.3 1666.9 749.8 1550.2" fill="none" stroke="#000" stroke-width="4.6"/>
<path d="M567.3 1666.9 749.8 1550.2" fill="none" stroke="#fff" stroke-width="1.2"/>
<path d="M608.4 1690.5 790.9 1575.9" fill="none" stroke="#000" stroke-width="4.6"/>
<path d="M608.4 1690.5 790.9 1575.9" fill="none" stroke="#fff" stroke-width="1.2"/>
<path d="M673.5 1727.8 856 1614.5" fill="none" stroke="#000" stroke-width="4.6"/>
<path d="M673.5 1727.8 856 1614.5" fill="none" stroke="#fff" stroke-width="1.2"/>
<path d="M714.6 1751.4 897.1 1638.1" fill="none" stroke="#000" stroke-width="4.6"/>
<path d="M714.6 1751.4 897.1 1638.1" fill="none" stroke="#fff" stroke-width="1.2"/>
<path d="M755.7 1775 938.3 1661.7" fill="none" stroke="#000" stroke-width="4.6"/>
<path d="M755.7 1775 938.3 1661.7" fill="none" stroke="#fff" stroke-width="1.2"/>
<path d="M783.5 1431.1 783.4 1413.4 783.3 1389.1 783.5 1370.6 784.1 1364 784.9 1363.2 786 1363.1 787.6 1362 789.4 1361.5 791.1 1361.8 792.3 1361 793.4 1360.9 794.1 1366.9 794.3 1384.8 794.2 1408.7 794.1 1426" fill="none" stroke="#000" stroke-width="5"/>
<path d="M783.5 1431.1 783.4 1413.4 783.3 1389.1 783.5 1370.6 784.1 1364 784.9 1363.2 786 1363.1 787.6 1362 789.4 1361.5 791.1 1361.8 792.3 1361 793.4 1360.9 794.1 1366.9 794.3 1384.8 794.2 1408.7 794.1 1426" fill="none" stroke="#fff" stroke-width="1.2"/>
<path d="M784.8 1431.1 816.2 1448.7 827.6 1447.4" fill="none" stroke="#000" stroke-width="5"/>
<path d="M784.8 1431.1 816.2 1448.7 827.6 1447.4" fill="none" stroke="#fff" stroke-width="1.2"/>
<path d="M794.1 1427.3 813.7 1438.6 818.8 1436.1" fill="none" stroke="#000" stroke-width="5"/>
<path d="M794.1 1427.3 813.7 1438.6 818.8 1436.1" fill="none" stroke="#fff" stroke-width="1.2"/>
<path d="M803.6 1428.5 816.2 1434.8 813.7 1441.1 801.1 1434.8Z" fill="none" stroke="#000" stroke-width="4"/>
<path d="M803.6 1428.5 816.2 1434.8 813.7 1441.1 801.1 1434.8Z" fill="none" stroke="#fff" stroke-width="1.1"/>
<path d="M787.3 1443.6 773.4 1463.8" fill="none" stroke="#000" stroke-width="5"/>
<path d="M787.3 1443.6 773.4 1463.8" fill="none" stroke="#fff" stroke-width="1.2"/>
<path d="M791.1 1444.9 778.5 1465" fill="none" stroke="#000" stroke-width="4"/>
<path d="M791.1 1444.9 778.5 1465" fill="none" stroke="#fff" stroke-width="1.1"/>
<path d="M816.2 1453.7 821.3 1453.7" fill="none" stroke="#000" stroke-width="4"/>
<path d="M825 1448.2 830.1 1448.2" fill="none" stroke="#000" stroke-width="4"/>
<path d="M1153.8 1574.7 1156.1 1576.7 1156.8 1579.1 1156 1581.6 1153.6 1583.8 818 1792.1 814.5 1793.6 810.4 1794.2 806.2 1793.9 802.8 1792.6 475.2 1604.6 472.9 1602.6 472.2 1600.2 473 1597.7 475.4 1595.5 509.8 1574.2 515.1 1568 532.6 1548.1 537.9 1542.3 811 1386.8 814.5 1385.4 818.6 1385 822.8 1385.4 826.2 1386.7Z" fill="none" stroke="#000" stroke-width="5"/>
<path d="M1153.8 1574.7 1156.1 1576.7 1156.8 1579.1 1156 1581.6 1153.6 1583.8 818 1792.1 814.5 1793.6 810.4 1794.2 806.2 1793.9 802.8 1792.6 475.2 1604.6 472.9 1602.6 472.2 1600.2 473 1597.7 475.4 1595.5 509.8 1574.2 515.1 1568 532.6 1548.1 537.9 1542.3 811 1386.8 814.5 1385.4 818.6 1385 822.8 1385.4 826.2 1386.7Z" fill="none" stroke="#fff" stroke-width="1.2"/>
<path d="M590.5 1483.3 478.2 1564.8 473.2 1571.1 478 1577.2 800 1762 810.4 1764.6 820.8 1761.4 898 1713.4" fill="none" stroke="#000" stroke-width="5"/>
<path d="M590.5 1483.3 478.2 1564.8 473.2 1571.1 478 1577.2 800 1762 810.4 1764.6 820.8 1761.4 898 1713.4" fill="none" stroke="#fff" stroke-width="1.2"/>
<path d="M1153.8 1517.7 1156.1 1519.7 1156.8 1522.1 1156 1524.6 1153.6 1526.8 818 1735.1 814.5 1736.6 810.4 1737.2 806.2 1736.9 802.8 1735.6 475.2 1547.6 472.9 1545.6 472.2 1543.2 473 1540.7 475.4 1538.5 509.8 1517.2 515.1 1511 532.6 1491.1 537.9 1485.3 811 1329.8 814.5 1328.4 818.6 1328 822.8 1328.4 826.2 1329.7Z" fill="none" stroke="#000" stroke-width="5"/>
<path d="M1153.8 1517.7 1156.1 1519.7 1156.8 1522.1 1156 1524.6 1153.6 1526.8 818 1735.1 814.5 1736.6 810.4 1737.2 806.2 1736.9 802.8 1735.6 475.2 1547.6 472.9 1545.6 472.2 1543.2 473 1540.7 475.4 1538.5 509.8 1517.2 515.1 1511 532.6 1491.1 537.9 1485.3 811 1329.8 814.5 1328.4 818.6 1328 822.8 1328.4 826.2 1329.7Z" fill="none" stroke="#fff" stroke-width="1.2"/>
<path d="M1153.8 1488.7 1156.1 1490.7 1156.8 1493.1 1156 1495.6 1153.6 1497.8 818 1706.1 814.5 1707.6 810.4 1708.2 806.2 1707.9 802.8 1706.6 475.2 1518.6 472.9 1516.6 472.2 1514.2 473 1511.7 475.4 1509.5 509.8 1488.2 515.1 1482 532.6 1462.1 537.9 1456.3 811 1300.8 814.5 1299.4 818.6 1299 822.8 1299.4 826.2 1300.7Z" fill="none" stroke="#000" stroke-width="5"/>
<path d="M1153.8 1488.7 1156.1 1490.7 1156.8 1493.1 1156 1495.6 1153.6 1497.8 818 1706.1 814.5 1707.6 810.4 1708.2 806.2 1707.9 802.8 1706.6 475.2 1518.6 472.9 1516.6 472.2 1514.2 473 1511.7 475.4 1509.5 509.8 1488.2 515.1 1482 532.6 1462.1 537.9 1456.3 811 1300.8 814.5 1299.4 818.6 1299 822.8 1299.4 826.2 1300.7Z" fill="none" stroke="#fff" stroke-width="1.2"/>
<path d="M513.3 1480 537.9 1452.3 542 1463.1" fill="none" stroke="#000" stroke-width="4.6"/>
<path d="M513.3 1480 537.9 1452.3 542 1463.1" fill="none" stroke="#fff" stroke-width="1.2"/>
<path d="M513.3 1509 537.9 1481.3 542 1492.1" fill="none" stroke="#000" stroke-width="4.6"/>
<path d="M513.3 1509 537.9 1481.3 542 1492.1" fill="none" stroke="#fff" stroke-width="1.2"/>
<path d="M703.1 1497.9 703.1 1552" fill="none" stroke="#000" stroke-width="4.6"/>
<path d="M703.1 1497.9 703.1 1552" fill="none" stroke="#fff" stroke-width="1.2"/>
<path d="M724 1510 724 1564.2" fill="none" stroke="#000" stroke-width="4.6"/>
<path d="M724 1510 724 1564.2" fill="none" stroke="#fff" stroke-width="1.2"/>
<path d="M745 1522.2 745 1576.3" fill="none" stroke="#000" stroke-width="4.6"/>
<path d="M745 1522.2 745 1576.3" fill="none" stroke="#fff" stroke-width="1.2"/>
<path d="M765.9 1534.3 765.9 1588.4" fill="none" stroke="#000" stroke-width="4.6"/>
<path d="M765.9 1534.3 765.9 1588.4" fill="none" stroke="#fff" stroke-width="1.2"/>
<path d="M786.9 1546.4 786.9 1600.6" fill="none" stroke="#000" stroke-width="4.6"/>
<path d="M786.9 1546.4 786.9 1600.6" fill="none" stroke="#fff" stroke-width="1.2"/>
<path d="M807.8 1558.6 807.8 1612.7" fill="none" stroke="#000" stroke-width="4.6"/>
<path d="M807.8 1558.6 807.8 1612.7" fill="none" stroke="#fff" stroke-width="1.2"/>
<path d="M828.8 1570.7 828.8 1624.8" fill="none" stroke="#000" stroke-width="4.6"/>
<path d="M828.8 1570.7 828.8 1624.8" fill="none" stroke="#fff" stroke-width="1.2"/>
<path d="M849.7 1582.8 849.7 1637" fill="none" stroke="#000" stroke-width="4.6"/>
<path d="M849.7 1582.8 849.7 1637" fill="none" stroke="#fff" stroke-width="1.2"/>
<path d="M635.1 1514.3 634.9 1524.7 634.6 1539.4 635.1 1552 637 1560.1 639.5 1566.3 641.4 1572.2 641.6 1578 641.1 1583.5 641.4 1589.8 643.6 1597.9 646.6 1606.9 649 1615 649.9 1622.1 650.1 1628.3 650.2 1632.6" fill="none" stroke="#000" stroke-width="4.6"/>
<path d="M635.1 1514.3 634.9 1524.7 634.6 1539.4 635.1 1552 637 1560.1 639.5 1566.3 641.4 1572.2 641.6 1578 641.1 1583.5 641.4 1589.8 643.6 1597.9 646.6 1606.9 649 1615 649.9 1622.1 650.1 1628.3 650.2 1632.6" fill="none" stroke="#fff" stroke-width="1.2"/>
<path d="M656 1526.4 655.8 1536.8 655.5 1551.4 656 1564.1 657.9 1572.2 660.4 1578.4 662.3 1584.3 662.5 1590 662 1595.5 662.3 1601.9 664.5 1610 667.5 1618.9 669.9 1627.1 670.8 1634.1 671 1640.4 671.1 1644.7" fill="none" stroke="#000" stroke-width="4.6"/>
<path d="M656 1526.4 655.8 1536.8 655.5 1551.4 656 1564.1 657.9 1572.2 660.4 1578.4 662.3 1584.3 662.5 1590 662 1595.5 662.3 1601.9 664.5 1610 667.5 1618.9 669.9 1627.1 670.8 1634.1 671 1640.4 671.1 1644.7" fill="none" stroke="#fff" stroke-width="1.2"/>
<path d="M660.5 1522.6 660.5 1559.1" fill="none" stroke="#000" stroke-width="4.6"/>
<path d="M660.5 1522.6 660.5 1559.1" fill="none" stroke="#fff" stroke-width="1.2"/>
<path d="M676.9 1538.4 676.7 1548.9 676.4 1563.5 676.9 1576.2 678.8 1584.3 681.3 1590.5 683.2 1596.3 683.4 1602.1 682.9 1607.6 683.2 1614 685.4 1622.1 688.4 1631 690.8 1639.1 691.7 1646.2 691.9 1652.5 692 1656.8" fill="none" stroke="#000" stroke-width="4.6"/>
<path d="M676.9 1538.4 676.7 1548.9 676.4 1563.5 676.9 1576.2 678.8 1584.3 681.3 1590.5 683.2 1596.3 683.4 1602.1 682.9 1607.6 683.2 1614 685.4 1622.1 688.4 1631 690.8 1639.1 691.7 1646.2 691.9 1652.5 692 1656.8" fill="none" stroke="#fff" stroke-width="1.2"/>
<path d="M681.4 1534.7 681.4 1571.2" fill="none" stroke="#000" stroke-width="4.6"/>
<path d="M681.4 1534.7 681.4 1571.2" fill="none" stroke="#fff" stroke-width="1.2"/>
<path d="M697.8 1550.5 697.6 1561 697.3 1575.6 697.8 1588.3 699.7 1596.4 702.2 1602.6 704.1 1608.4 704.3 1614.2 703.8 1619.7 704.1 1626.1 706.3 1634.2 709.3 1643.1 711.7 1651.2 712.6 1658.3 712.8 1664.6 712.9 1668.9" fill="none" stroke="#000" stroke-width="4.6"/>
<path d="M697.8 1550.5 697.6 1561 697.3 1575.6 697.8 1588.3 699.7 1596.4 702.2 1602.6 704.1 1608.4 704.3 1614.2 703.8 1619.7 704.1 1626.1 706.3 1634.2 709.3 1643.1 711.7 1651.2 712.6 1658.3 712.8 1664.6 712.9 1668.9" fill="none" stroke="#fff" stroke-width="1.2"/>
<path d="M702.3 1546.7 702.3 1583.3" fill="none" stroke="#000" stroke-width="4.6"/>
<path d="M702.3 1546.7 702.3 1583.3" fill="none" stroke="#fff" stroke-width="1.2"/>
<path d="M718.7 1562.6 718.5 1573.1 718.2 1587.7 718.7 1600.4 720.6 1608.5 723.1 1614.6 725 1620.5 725.2 1626.3 724.7 1631.8 725 1638.1 727.2 1646.2 730.2 1655.2 732.5 1663.3 733.5 1670.4 733.7 1676.6 733.8 1680.9" fill="none" stroke="#000" stroke-width="4.6"/>
<path d="M718.7 1562.6 718.5 1573.1 718.2 1587.7 718.7 1600.4 720.6 1608.5 723.1 1614.6 725 1620.5 725.2 1626.3 724.7 1631.8 725 1638.1 727.2 1646.2 730.2 1655.2 732.5 1663.3 733.5 1670.4 733.7 1676.6 733.8 1680.9" fill="none" stroke="#fff" stroke-width="1.2"/>
<path d="M723.2 1558.8 723.2 1595.3" fill="none" stroke="#000" stroke-width="4.6"/>
<path d="M723.2 1558.8 723.2 1595.3" fill="none" stroke="#fff" stroke-width="1.2"/>
<path d="M739.6 1574.7 739.4 1585.1 739.1 1599.8 739.6 1612.5 741.5 1620.6 744 1626.7 745.9 1632.6 746.1 1638.4 745.6 1643.9 745.9 1650.2 748.1 1658.3 751.1 1667.3 753.4 1675.4 754.4 1682.5 754.6 1688.7 754.7 1693" fill="none" stroke="#000" stroke-width="4.6"/>
<path d="M739.6 1574.7 739.4 1585.1 739.1 1599.8 739.6 1612.5 741.5 1620.6 744 1626.7 745.9 1632.6 746.1 1638.4 745.6 1643.9 745.9 1650.2 748.1 1658.3 751.1 1667.3 753.4 1675.4 754.4 1682.5 754.6 1688.7 754.7 1693" fill="none" stroke="#fff" stroke-width="1.2"/>
<path d="M744.1 1570.9 744.1 1607.4" fill="none" stroke="#000" stroke-width="4.6"/>
<path d="M744.1 1570.9 744.1 1607.4" fill="none" stroke="#fff" stroke-width="1.2"/>
<path d="M760.5 1586.8 760.3 1597.2 760 1611.9 760.5 1624.5 762.4 1632.7 764.9 1638.8 766.8 1644.7 767 1650.5 766.5 1656 766.8 1662.3 769 1670.4 772 1679.4 774.3 1687.5 775.3 1694.6 775.5 1700.8 775.6 1705.1" fill="none" stroke="#000" stroke-width="4.6"/>
<path d="M760.5 1586.8 760.3 1597.2 760 1611.9 760.5 1624.5 762.4 1632.7 764.9 1638.8 766.8 1644.7 767 1650.5 766.5 1656 766.8 1662.3 769 1670.4 772 1679.4 774.3 1687.5 775.3 1694.6 775.5 1700.8 775.6 1705.1" fill="none" stroke="#fff" stroke-width="1.2"/>
<path d="M765 1583 765 1619.5" fill="none" stroke="#000" stroke-width="4.6"/>
<path d="M765 1583 765 1619.5" fill="none" stroke="#fff" stroke-width="1.2"/>
<path d="M781.4 1598.9 781.2 1609.3 780.9 1623.9 781.4 1636.6 783.3 1644.7 785.8 1650.9 787.7 1656.8 787.9 1662.5 787.4 1668.1 787.7 1674.4 789.9 1682.5 792.9 1691.5 795.2 1699.6 796.2 1706.7 796.4 1712.9 796.5 1717.2" fill="none" stroke="#000" stroke-width="4.6"/>
<path d="M781.4 1598.9 781.2 1609.3 780.9 1623.9 781.4 1636.6 783.3 1644.7 785.8 1650.9 787.7 1656.8 787.9 1662.5 787.4 1668.1 787.7 1674.4 789.9 1682.5 792.9 1691.5 795.2 1699.6 796.2 1706.7 796.4 1712.9 796.5 1717.2" fill="none" stroke="#fff" stroke-width="1.2"/>
<path d="M785.9 1595.1 785.9 1631.6" fill="none" stroke="#000" stroke-width="4.6"/>
<path d="M785.9 1595.1 785.9 1631.6" fill="none" stroke="#fff" stroke-width="1.2"/>
<path d="M802.3 1610.9 802.1 1621.4 801.8 1636 802.3 1648.7 804.2 1656.8 806.7 1663 808.6 1668.9 808.8 1674.6 808.3 1680.1 808.6 1686.5 810.8 1694.6 813.8 1703.5 816.1 1711.7 817.1 1718.7 817.3 1725 817.4 1729.3" fill="none" stroke="#000" stroke-width="4.6"/>
<path d="M802.3 1610.9 802.1 1621.4 801.8 1636 802.3 1648.7 804.2 1656.8 806.7 1663 808.6 1668.9 808.8 1674.6 808.3 1680.1 808.6 1686.5 810.8 1694.6 813.8 1703.5 816.1 1711.7 817.1 1718.7 817.3 1725 817.4 1729.3" fill="none" stroke="#fff" stroke-width="1.2"/>
<path d="M806.8 1607.2 806.8 1643.7" fill="none" stroke="#000" stroke-width="4.6"/>
<path d="M806.8 1607.2 806.8 1643.7" fill="none" stroke="#fff" stroke-width="1.2"/>
<path d="M823.2 1623 822.9 1633.5 822.7 1648.1 823.2 1660.8 825 1668.9 827.6 1675.1 829.5 1680.9 829.7 1686.7 829.1 1692.2 829.5 1698.6 831.7 1706.7 834.7 1715.6 837 1723.7 838 1730.8 838.2 1737.1 838.3 1741.4" fill="none" stroke="#000" stroke-width="4.6"/>
<path d="M823.2 1623 822.9 1633.5 822.7 1648.1 823.2 1660.8 825 1668.9 827.6 1675.1 829.5 1680.9 829.7 1686.7 829.1 1692.2 829.5 1698.6 831.7 1706.7 834.7 1715.6 837 1723.7 838 1730.8 838.2 1737.1 838.3 1741.4" fill="none" stroke="#fff" stroke-width="1.2"/>
<path d="M827.7 1619.3 827.7 1655.8" fill="none" stroke="#000" stroke-width="4.6"/>
<path d="M827.7 1619.3 827.7 1655.8" fill="none" stroke="#fff" stroke-width="1.2"/>
<path d="M844.1 1635.1 843.8 1645.6 843.6 1660.2 844.1 1672.9 845.9 1681 848.5 1687.1 850.4 1693 850.6 1698.8 850 1704.3 850.4 1710.6 852.6 1718.8 855.6 1727.7 857.9 1735.8 858.9 1742.9 859.1 1749.2 859.2 1753.4" fill="none" stroke="#000" stroke-width="4.6"/>
<path d="M844.1 1635.1 843.8 1645.6 843.6 1660.2 844.1 1672.9 845.9 1681 848.5 1687.1 850.4 1693 850.6 1698.8 850 1704.3 850.4 1710.6 852.6 1718.8 855.6 1727.7 857.9 1735.8 858.9 1742.9 859.1 1749.2 859.2 1753.4" fill="none" stroke="#fff" stroke-width="1.2"/>
<path d="M848.6 1631.3 848.6 1667.8" fill="none" stroke="#000" stroke-width="4.6"/>
<path d="M848.6 1631.3 848.6 1667.8" fill="none" stroke="#fff" stroke-width="1.2"/>
<path d="M559.6 1534.4 559.4 1543.4 559.2 1556 559.6 1567.1 561.2 1574.7 563.4 1580.8 565.1 1587.3 565.8 1595.5 565.9 1604 565.9 1609.9" fill="none" stroke="#000" stroke-width="4.6"/>
<path d="M559.6 1534.4 559.4 1543.4 559.2 1556 559.6 1567.1 561.2 1574.7 563.4 1580.8 565.1 1587.3 565.8 1595.5 565.9 1604 565.9 1609.9" fill="none" stroke="#fff" stroke-width="1.2"/>
<path d="M580.5 1546.5 580.3 1555.4 580.1 1568 580.5 1579.2 582.1 1586.8 584.3 1592.9 586 1599.4 586.7 1607.6 586.8 1616.1 586.8 1622" fill="none" stroke="#000" stroke-width="4.6"/>
<path d="M580.5 1546.5 580.3 1555.4 580.1 1568 580.5 1579.2 582.1 1586.8 584.3 1592.9 586 1599.4 586.7 1607.6 586.8 1616.1 586.8 1622" fill="none" stroke="#fff" stroke-width="1.2"/>
<path d="M601.4 1558.6 601.2 1567.5 601 1580.1 601.4 1591.3 603 1598.9 605.2 1605 606.9 1611.5 607.6 1619.7 607.7 1628.1 607.7 1634.1" fill="none" stroke="#000" stroke-width="4.6"/>
<path d="M601.4 1558.6 601.2 1567.5 601 1580.1 601.4 1591.3 603 1598.9 605.2 1605 606.9 1611.5 607.6 1619.7 607.7 1628.1 607.7 1634.1" fill="none" stroke="#fff" stroke-width="1.2"/>
<path d="M622.3 1570.7 622.1 1579.6 621.9 1592.2 622.3 1603.4 623.9 1610.9 626.1 1617.1 627.8 1623.5 628.4 1631.7 628.6 1640.2 628.6 1646.2" fill="none" stroke="#000" stroke-width="4.6"/>
<path d="M622.3 1570.7 622.1 1579.6 621.9 1592.2 622.3 1603.4 623.9 1610.9 626.1 1617.1 627.8 1623.5 628.4 1631.7 628.6 1640.2 628.6 1646.2" fill="none" stroke="#fff" stroke-width="1.2"/>
<path d="M643.2 1582.7 643 1591.7 642.8 1604.3 643.2 1615.5 644.8 1623 647 1629.2 648.7 1635.6 649.3 1643.8 649.4 1652.3 649.5 1658.3" fill="none" stroke="#000" stroke-width="4.6"/>
<path d="M643.2 1582.7 643 1591.7 642.8 1604.3 643.2 1615.5 644.8 1623 647 1629.2 648.7 1635.6 649.3 1643.8 649.4 1652.3 649.5 1658.3" fill="none" stroke="#fff" stroke-width="1.2"/>
<path d="M664.1 1594.8 663.9 1603.8 663.7 1616.4 664.1 1627.6 665.7 1635.1 667.9 1641.3 669.6 1647.7 670.2 1655.9 670.3 1664.4 670.4 1670.4" fill="none" stroke="#000" stroke-width="4.6"/>
<path d="M664.1 1594.8 663.9 1603.8 663.7 1616.4 664.1 1627.6 665.7 1635.1 667.9 1641.3 669.6 1647.7 670.2 1655.9 670.3 1664.4 670.4 1670.4" fill="none" stroke="#fff" stroke-width="1.2"/>
<path d="M685 1606.9 684.8 1615.9 684.6 1628.5 685 1639.6 686.6 1647.2 688.8 1653.4 690.5 1659.8 691.1 1668 691.2 1676.5 691.3 1682.4" fill="none" stroke="#000" stroke-width="4.6"/>
<path d="M685 1606.9 684.8 1615.9 684.6 1628.5 685 1639.6 686.6 1647.2 688.8 1653.4 690.5 1659.8 691.1 1668 691.2 1676.5 691.3 1682.4" fill="none" stroke="#fff" stroke-width="1.2"/>
<path d="M705.9 1619 705.7 1628 705.5 1640.5 705.9 1651.7 707.5 1659.3 709.7 1665.4 711.4 1671.9 712 1680.1 712.1 1688.6 712.2 1694.5" fill="none" stroke="#000" stroke-width="4.6"/>
<path d="M705.9 1619 705.7 1628 705.5 1640.5 705.9 1651.7 707.5 1659.3 709.7 1665.4 711.4 1671.9 712 1680.1 712.1 1688.6 712.2 1694.5" fill="none" stroke="#fff" stroke-width="1.2"/>
<path d="M726.8 1631.1 726.6 1640 726.3 1652.6 726.8 1663.8 728.4 1671.4 730.6 1677.5 732.3 1684 732.9 1692.2 733 1700.6 733.1 1706.6" fill="none" stroke="#000" stroke-width="4.6"/>
<path d="M726.8 1631.1 726.6 1640 726.3 1652.6 726.8 1663.8 728.4 1671.4 730.6 1677.5 732.3 1684 732.9 1692.2 733 1700.6 733.1 1706.6" fill="none" stroke="#fff" stroke-width="1.2"/>
<path d="M747.7 1643.2 747.4 1652.1 747.2 1664.7 747.7 1675.9 749.3 1683.5 751.5 1689.6 753.2 1696 753.8 1704.2 753.9 1712.7 753.9 1718.7" fill="none" stroke="#000" stroke-width="4.6"/>
<path d="M747.7 1643.2 747.4 1652.1 747.2 1664.7 747.7 1675.9 749.3 1683.5 751.5 1689.6 753.2 1696 753.8 1704.2 753.9 1712.7 753.9 1718.7" fill="none" stroke="#fff" stroke-width="1.2"/>
<path d="M807.6 1558.5 807.6 1608.8" fill="none" stroke="#000" stroke-width="4.6"/>
<path d="M807.6 1558.5 807.6 1608.8" fill="none" stroke="#fff" stroke-width="1.2"/>
<path d="M828.4 1570.6 828.4 1620.9" fill="none" stroke="#000" stroke-width="4.6"/>
<path d="M828.4 1570.6 828.4 1620.9" fill="none" stroke="#fff" stroke-width="1.2"/>
<path d="M849.3 1582.6 849.3 1633" fill="none" stroke="#000" stroke-width="4.6"/>
<path d="M849.3 1582.6 849.3 1633" fill="none" stroke="#fff" stroke-width="1.2"/>
<path d="M870.2 1594.7 870.2 1645.1" fill="none" stroke="#000" stroke-width="4.6"/>
<path d="M870.2 1594.7 870.2 1645.1" fill="none" stroke="#fff" stroke-width="1.2"/>
<path d="M891.1 1606.8 891.1 1657.2" fill="none" stroke="#000" stroke-width="4.6"/>
<path d="M891.1 1606.8 891.1 1657.2" fill="none" stroke="#fff" stroke-width="1.2"/>
<path d="M912 1618.9 912 1669.2" fill="none" stroke="#000" stroke-width="4.6"/>
<path d="M912 1618.9 912 1669.2" fill="none" stroke="#fff" stroke-width="1.2"/>
<path d="M825.2 1618.9 825.2 1676.8" fill="none" stroke="#000" stroke-width="4.6"/>
<path d="M825.2 1618.9 825.2 1676.8" fill="none" stroke="#fff" stroke-width="1.2"/>
<path d="M820.6 1621.9 820.6 1669.2" fill="none" stroke="#000" stroke-width="4.6"/>
<path d="M820.6 1621.9 820.6 1669.2" fill="none" stroke="#fff" stroke-width="1.2"/>
<path d="M846.1 1631.5 846.1 1689.4" fill="none" stroke="#000" stroke-width="4.6"/>
<path d="M846.1 1631.5 846.1 1689.4" fill="none" stroke="#fff" stroke-width="1.2"/>
<path d="M841.5 1634.5 841.5 1681.8" fill="none" stroke="#000" stroke-width="4.6"/>
<path d="M841.5 1634.5 841.5 1681.8" fill="none" stroke="#fff" stroke-width="1.2"/>
<path d="M867 1644.1 867 1702" fill="none" stroke="#000" stroke-width="4.6"/>
<path d="M867 1644.1 867 1702" fill="none" stroke="#fff" stroke-width="1.2"/>
<path d="M862.4 1647.1 862.4 1694.4" fill="none" stroke="#000" stroke-width="4.6"/>
<path d="M862.4 1647.1 862.4 1694.4" fill="none" stroke="#fff" stroke-width="1.2"/>
<path d="M887.9 1656.7 887.9 1714.6" fill="none" stroke="#000" stroke-width="4.6"/>
<path d="M887.9 1656.7 887.9 1714.6" fill="none" stroke="#fff" stroke-width="1.2"/>
<path d="M883.3 1659.7 883.3 1707" fill="none" stroke="#000" stroke-width="4.6"/>
<path d="M883.3 1659.7 883.3 1707" fill="none" stroke="#fff" stroke-width="1.2"/>
<path d="M491.7 1528.1 491.7 1638.1 512.7 1625" fill="none" stroke="#000" stroke-width="5"/>
<path d="M491.7 1528.1 491.7 1638.1 512.7 1625" fill="none" stroke="#fff" stroke-width="1.2"/>
<path d="M535.2 1553 535.2 1663 556.3 1650" fill="none" stroke="#000" stroke-width="5"/>
<path d="M535.2 1553 535.2 1663 556.3 1650" fill="none" stroke="#fff" stroke-width="1.2"/>
<path d="M577.3 1577.2 577.3 1687.2 598.4 1674.1" fill="none" stroke="#000" stroke-width="5"/>
<path d="M577.3 1577.2 577.3 1687.2 598.4 1674.1" fill="none" stroke="#fff" stroke-width="1.2"/>
<path d="M619.1 1601.2 619.1 1711.2 640.2 1698.1" fill="none" stroke="#000" stroke-width="5"/>
<path d="M619.1 1601.2 619.1 1711.2 640.2 1698.1" fill="none" stroke="#fff" stroke-width="1.2"/>
<path d="M641.1 1613.8 641.1 1723.8 662.1 1710.7" fill="none" stroke="#000" stroke-width="5"/>
<path d="M641.1 1613.8 641.1 1723.8 662.1 1710.7" fill="none" stroke="#fff" stroke-width="1.2"/>
<path d="M682.9 1637.8 682.9 1747.8 703.9 1734.7" fill="none" stroke="#000" stroke-width="5"/>
<path d="M682.9 1637.8 682.9 1747.8 703.9 1734.7" fill="none" stroke="#fff" stroke-width="1.2"/>
<path d="M725 1661.9 725 1771.9 746.1 1758.9" fill="none" stroke="#000" stroke-width="5"/>
<path d="M725 1661.9 725 1771.9 746.1 1758.9" fill="none" stroke="#fff" stroke-width="1.2"/>
<path d="M767.1 1686.1 767.1 1796.1 788.2 1783.1" fill="none" stroke="#000" stroke-width="5"/>
<path d="M767.1 1686.1 767.1 1796.1 788.2 1783.1" fill="none" stroke="#fff" stroke-width="1.2"/>
<path d="M867.9 1675.2 867.9 1787.2 843.9 1773.4" fill="none" stroke="#000" stroke-width="5"/>
<path d="M867.9 1675.2 867.9 1787.2 843.9 1773.4" fill="none" stroke="#fff" stroke-width="1.2"/>
<path d="M915.6 1645.5 915.6 1757.5 891.6 1743.8" fill="none" stroke="#000" stroke-width="5"/>
<path d="M915.6 1645.5 915.6 1757.5 891.6 1743.8" fill="none" stroke="#fff" stroke-width="1.2"/>
<path d="M961.2 1617.2 961.2 1729.2 937.2 1715.4" fill="none" stroke="#000" stroke-width="5"/>
<path d="M961.2 1617.2 961.2 1729.2 937.2 1715.4" fill="none" stroke="#fff" stroke-width="1.2"/>
<path d="M1000.2 1593 1000.2 1705 976.2 1691.3" fill="none" stroke="#000" stroke-width="5"/>
<path d="M1000.2 1593 1000.2 1705 976.2 1691.3" fill="none" stroke="#fff" stroke-width="1.2"/>
<path d="M1043 1566.4 1043 1678.4 1019 1664.7" fill="none" stroke="#000" stroke-width="5"/>
<path d="M1043 1566.4 1043 1678.4 1019 1664.7" fill="none" stroke="#fff" stroke-width="1.2"/>
<path d="M1093.2 1535.3 1093.2 1647.3 1069.2 1633.5" fill="none" stroke="#000" stroke-width="5"/>
<path d="M1093.2 1535.3 1093.2 1647.3 1069.2 1633.5" fill="none" stroke="#fff" stroke-width="1.2"/>
<path d="M1124.8 1515.7 1124.8 1627.7 1100.8 1613.9" fill="none" stroke="#000" stroke-width="5"/>
<path d="M1124.8 1515.7 1124.8 1627.7 1100.8 1613.9" fill="none" stroke="#fff" stroke-width="1.2"/>
<path d="M774.8 1688 778.8 1690.1 784.4 1692.9 789.9 1694.3 794.9 1692.9 799.8 1690.1 805.1 1688 810.7 1687.8 816.5 1688.2 822.7 1688 830 1686.1 837.5 1683.6 842.8 1681.7" fill="none" stroke="#000" stroke-width="5"/>
<path d="M774.8 1688 778.8 1690.1 784.4 1692.9 789.9 1694.3 794.9 1692.9 799.8 1690.1 805.1 1688 810.7 1687.8 816.5 1688.2 822.7 1688 830 1686.1 837.5 1683.6 842.8 1681.7" fill="none" stroke="#fff" stroke-width="1.2"/>
<path d="M774.8 1716.9 779.5 1719.1 786.1 1721.9 792.5 1723.2 797.6 1721.4 802.4 1718.1 807.6 1715.7 813.2 1715.8 819 1716.8 825.2 1716.9 832.5 1714.8 840 1711.7 845.3 1709.4" fill="none" stroke="#000" stroke-width="5"/>
<path d="M774.8 1716.9 779.5 1719.1 786.1 1721.9 792.5 1723.2 797.6 1721.4 802.4 1718.1 807.6 1715.7 813.2 1715.8 819 1716.8 825.2 1716.9 832.5 1714.8 840 1711.7 845.3 1709.4" fill="none" stroke="#fff" stroke-width="1.2"/>
<path d="M774.8 1748.4 777.9 1750.6 782.4 1753.4 787.4 1754.7 792.8 1752.9 798.8 1749.5 805.1 1747.2 811.6 1747.2 818.4 1748.3 825.2 1748.4 832.7 1746.3 840.1 1743.1 845.3 1740.9" fill="none" stroke="#000" stroke-width="5"/>
<path d="M774.8 1748.4 777.9 1750.6 782.4 1753.4 787.4 1754.7 792.8 1752.9 798.8 1749.5 805.1 1747.2 811.6 1747.2 818.4 1748.3 825.2 1748.4 832.7 1746.3 840.1 1743.1 845.3 1740.9" fill="none" stroke="#fff" stroke-width="1.2"/>
<path d="M774.8 1774.8 777.7 1776.3 782 1778.2 787.4 1778.6 794.5 1776.1 802.7 1772.2 810.1 1769.8 815.6 1770.9 820.3 1773.6 825.2 1774.8 831.5 1773 838.2 1769.7 842.8 1767.3" fill="none" stroke="#000" stroke-width="5"/>
<path d="M774.8 1774.8 777.7 1776.3 782 1778.2 787.4 1778.6 794.5 1776.1 802.7 1772.2 810.1 1769.8 815.6 1770.9 820.3 1773.6 825.2 1774.8 831.5 1773 838.2 1769.7 842.8 1767.3" fill="none" stroke="#fff" stroke-width="1.2"/>
<path d="M528.1 1591.1 526.2 1593.6 523.4 1597.3 520.6 1601.1 518.1 1605.3 515.7 1609.7 513 1612.5 509.7 1612.7 506 1611.5 502.9 1609.9 500.7 1608.3 499 1606.3 497.9 1604.9" fill="none" stroke="#000" stroke-width="5"/>
<path d="M528.1 1591.1 526.2 1593.6 523.4 1597.3 520.6 1601.1 518.1 1605.3 515.7 1609.7 513 1612.5 509.7 1612.7 506 1611.5 502.9 1609.9 500.7 1608.3 499 1606.3 497.9 1604.9" fill="none" stroke="#fff" stroke-width="1.2"/>
<path d="M1093.3 1534.6 1093.3 1647.8 1110.9 1657.9" fill="none" stroke="#000" stroke-width="5"/>
<path d="M1093.3 1534.6 1093.3 1647.8 1110.9 1657.9" fill="none" stroke="#fff" stroke-width="1.2"/>
<path d="M1127.3 1621.4 1123.9 1591.4 1121 1561 1122.3 1555.1 1124.8 1557.2 1127 1555.1 1128.5 1561 1128.2 1591.4 1127.3 1621.4" fill="none" stroke="#000" stroke-width="5"/>
<path d="M1127.3 1621.4 1123.9 1591.4 1121 1561 1122.3 1555.1 1124.8 1557.2 1127 1555.1 1128.5 1561 1128.2 1591.4 1127.3 1621.4" fill="none" stroke="#fff" stroke-width="1.2"/>
<path d="M1127.3 1620.2 1151.2 1634" fill="none" stroke="#000" stroke-width="5"/>
<path d="M1127.3 1620.2 1151.2 1634" fill="none" stroke="#fff" stroke-width="1.2"/>
<path d="M1097.1 1647.8 1098.1 1644.1 1099.7 1638.8 1102.1 1634 1105.8 1630.1 1110.4 1626.6 1114.7 1623.9 1118.6 1622.4 1122.3 1621.8 1124.8 1621.4" fill="none" stroke="#000" stroke-width="5"/>
<path d="M1097.1 1647.8 1098.1 1644.1 1099.7 1638.8 1102.1 1634 1105.8 1630.1 1110.4 1626.6 1114.7 1623.9 1118.6 1622.4 1122.3 1621.8 1124.8 1621.4" fill="none" stroke="#fff" stroke-width="1.2"/>
<path d="M915.8 1636.5 915.8 1749.8 941 1759.9" fill="none" stroke="#000" stroke-width="5"/>
<path d="M915.8 1636.5 915.8 1749.8 941 1759.9" fill="none" stroke="#fff" stroke-width="1.2"/>
<path d="M868 1772.5 864.2 1773.1 858.7 1773.9 852.8 1775.2 847.8 1777.5 843.5 1781.1 839.3 1785.8 836.3 1790.7 835.2 1795.1 837.4 1799.2 842 1803.2 847 1806.6 850.4 1809" fill="none" stroke="#000" stroke-width="5"/>
<path d="M868 1772.5 864.2 1773.1 858.7 1773.9 852.8 1775.2 847.8 1777.5 843.5 1781.1 839.3 1785.8 836.3 1790.7 835.2 1795.1 837.4 1799.2 842 1803.2 847 1806.6 850.4 1809" fill="none" stroke="#fff" stroke-width="1.2"/>
<path d="M1084.5 1566 1093.3 1563.5" fill="none" stroke="#000" stroke-width="3"/>
<path d="M1084.5 1623.9 1093.3 1621.4" fill="none" stroke="#000" stroke-width="3"/>
<path d="M1151.2 1634 1170.1 1641.6" fill="none" stroke="#000" stroke-width="1.1" stroke-dasharray="8 4"/>
<path d="M1110.9 1657.9 1129.8 1668" fill="none" stroke="#000" stroke-width="1.1" stroke-dasharray="8 4"/>
<path d="M941 1759.9 958.6 1767.4" fill="none" stroke="#000" stroke-width="1.1" stroke-dasharray="8 4"/>
<path d="M851.6 1809.7 870.5 1820.3" fill="none" stroke="#000" stroke-width="1.1" stroke-dasharray="8 4"/>
<ellipse cx="1184.7" cy="1649.1" rx="17" ry="20" transform="rotate(18 1184.7 1649.1)" fill="#fff" stroke="#000" stroke-width="1.7"/>
<ellipse cx="1190.2" cy="1651.6" rx="17.5" ry="20.5" transform="rotate(18 1190.2 1651.6)" fill="#fff" stroke="#000" stroke-width="2"/>
<ellipse cx="1189.7" cy="1652.1" rx="15" ry="18" transform="rotate(18 1189.7 1652.1)" fill="none" stroke="#000" stroke-width="0.9" stroke-dasharray="5 3"/>
<ellipse cx="1191.2" cy="1652.6" rx="3.5" ry="4.5" transform="rotate(18 1191.2 1652.6)" fill="#fff" stroke="#000" stroke-width="1.1"/>
<path d="M1195.1 1653.5 1197.8 1652.5" fill="none" stroke="#000" stroke-width="1.1"/>
<path d="M1198.7 1654.2 1201.3 1653.3" fill="none" stroke="#000" stroke-width="1.1"/>
<path d="M1193.5 1656.7 1196.1 1658.3" fill="none" stroke="#000" stroke-width="1.1"/>
<path d="M1195.6 1660.4 1198.2 1662" fill="none" stroke="#000" stroke-width="1.1"/>
<path d="M1190.5 1657.5 1191.6 1660.7" fill="none" stroke="#000" stroke-width="1.1"/>
<path d="M1189.9 1662 1190.9 1665.2" fill="none" stroke="#000" stroke-width="1.1"/>
<path d="M1187.9 1655.5 1186.8 1658.4" fill="none" stroke="#000" stroke-width="1.1"/>
<path d="M1185 1658 1183.9 1661" fill="none" stroke="#000" stroke-width="1.1"/>
<path d="M1187.3 1651.7 1184.6 1652.7" fill="none" stroke="#000" stroke-width="1.1"/>
<path d="M1183.7 1651 1181.1 1651.9" fill="none" stroke="#000" stroke-width="1.1"/>
<path d="M1188.9 1648.5 1186.3 1646.9" fill="none" stroke="#000" stroke-width="1.1"/>
<path d="M1186.8 1644.8 1184.2 1643.2" fill="none" stroke="#000" stroke-width="1.1"/>
<path d="M1191.9 1647.7 1190.8 1644.5" fill="none" stroke="#000" stroke-width="1.1"/>
<path d="M1192.5 1643.2 1191.5 1640" fill="none" stroke="#000" stroke-width="1.1"/>
<path d="M1194.5 1649.7 1195.6 1646.8" fill="none" stroke="#000" stroke-width="1.1"/>
<path d="M1197.4 1647.2 1198.5 1644.2" fill="none" stroke="#000" stroke-width="1.1"/>
<ellipse cx="1149.2" cy="1674.3" rx="17" ry="20" transform="rotate(18 1149.2 1674.3)" fill="#fff" stroke="#000" stroke-width="1.7"/>
<ellipse cx="1143.7" cy="1676.8" rx="17.5" ry="20.5" transform="rotate(18 1143.7 1676.8)" fill="#fff" stroke="#000" stroke-width="2"/>
<ellipse cx="1143.2" cy="1677.3" rx="15" ry="18" transform="rotate(18 1143.2 1677.3)" fill="none" stroke="#000" stroke-width="0.9" stroke-dasharray="5 3"/>
<ellipse cx="1144.7" cy="1677.8" rx="3.5" ry="4.5" transform="rotate(18 1144.7 1677.8)" fill="#fff" stroke="#000" stroke-width="1.1"/>
<path d="M1148.6 1678.7 1151.3 1677.7" fill="none" stroke="#000" stroke-width="1.1"/>
<path d="M1152.2 1679.4 1154.8 1678.5" fill="none" stroke="#000" stroke-width="1.1"/>
<path d="M1147 1681.9 1149.6 1683.5" fill="none" stroke="#000" stroke-width="1.1"/>
<path d="M1149.1 1685.6 1151.7 1687.2" fill="none" stroke="#000" stroke-width="1.1"/>
<path d="M1144 1682.7 1145.1 1685.9" fill="none" stroke="#000" stroke-width="1.1"/>
<path d="M1143.4 1687.2 1144.4 1690.4" fill="none" stroke="#000" stroke-width="1.1"/>
<path d="M1141.4 1680.7 1140.3 1683.6" fill="none" stroke="#000" stroke-width="1.1"/>
<path d="M1138.5 1683.2 1137.4 1686.2" fill="none" stroke="#000" stroke-width="1.1"/>
<path d="M1140.8 1676.9 1138.1 1677.9" fill="none" stroke="#000" stroke-width="1.1"/>
<path d="M1137.2 1676.2 1134.6 1677.1" fill="none" stroke="#000" stroke-width="1.1"/>
<path d="M1142.4 1673.7 1139.8 1672.1" fill="none" stroke="#000" stroke-width="1.1"/>
<path d="M1140.3 1670 1137.7 1668.4" fill="none" stroke="#000" stroke-width="1.1"/>
<path d="M1145.4 1672.9 1144.3 1669.7" fill="none" stroke="#000" stroke-width="1.1"/>
<path d="M1146 1668.4 1145 1665.2" fill="none" stroke="#000" stroke-width="1.1"/>
<path d="M1148 1674.9 1149.1 1672" fill="none" stroke="#000" stroke-width="1.1"/>
<path d="M1150.9 1672.4 1152 1669.4" fill="none" stroke="#000" stroke-width="1.1"/>
<ellipse cx="972" cy="1773.7" rx="17" ry="20" transform="rotate(18 972 1773.7)" fill="#fff" stroke="#000" stroke-width="1.7"/>
<ellipse cx="977.5" cy="1776.2" rx="17.5" ry="20.5" transform="rotate(18 977.5 1776.2)" fill="#fff" stroke="#000" stroke-width="2"/>
<ellipse cx="977" cy="1776.7" rx="15" ry="18" transform="rotate(18 977 1776.7)" fill="none" stroke="#000" stroke-width="0.9" stroke-dasharray="5 3"/>
<ellipse cx="978.5" cy="1777.2" rx="3.5" ry="4.5" transform="rotate(18 978.5 1777.2)" fill="#fff" stroke="#000" stroke-width="1.1"/>
<path d="M982.4 1778.1 985.1 1777.1" fill="none" stroke="#000" stroke-width="1.1"/>
<path d="M986 1778.8 988.6 1777.9" fill="none" stroke="#000" stroke-width="1.1"/>
<path d="M980.8 1781.3 983.4 1782.9" fill="none" stroke="#000" stroke-width="1.1"/>
<path d="M982.9 1785 985.5 1786.6" fill="none" stroke="#000" stroke-width="1.1"/>
<path d="M977.8 1782.1 978.9 1785.3" fill="none" stroke="#000" stroke-width="1.1"/>
<path d="M977.2 1786.6 978.2 1789.8" fill="none" stroke="#000" stroke-width="1.1"/>
<path d="M975.2 1780.1 974.1 1783" fill="none" stroke="#000" stroke-width="1.1"/>
<path d="M972.3 1782.6 971.2 1785.6" fill="none" stroke="#000" stroke-width="1.1"/>
<path d="M974.6 1776.3 971.9 1777.3" fill="none" stroke="#000" stroke-width="1.1"/>
<path d="M971 1775.6 968.4 1776.5" fill="none" stroke="#000" stroke-width="1.1"/>
<path d="M976.2 1773.1 973.6 1771.5" fill="none" stroke="#000" stroke-width="1.1"/>
<path d="M974.1 1769.4 971.5 1767.8" fill="none" stroke="#000" stroke-width="1.1"/>
<path d="M979.2 1772.3 978.1 1769.1" fill="none" stroke="#000" stroke-width="1.1"/>
<path d="M979.8 1767.8 978.8 1764.6" fill="none" stroke="#000" stroke-width="1.1"/>
<path d="M981.8 1774.3 982.9 1771.4" fill="none" stroke="#000" stroke-width="1.1"/>
<path d="M984.7 1771.8 985.8 1768.8" fill="none" stroke="#000" stroke-width="1.1"/>
<ellipse cx="891.1" cy="1824.1" rx="17" ry="20" transform="rotate(18 891.1 1824.1)" fill="#fff" stroke="#000" stroke-width="1.7"/>
<ellipse cx="885.6" cy="1826.6" rx="17.5" ry="20.5" transform="rotate(18 885.6 1826.6)" fill="#fff" stroke="#000" stroke-width="2"/>
<ellipse cx="885.1" cy="1827.1" rx="15" ry="18" transform="rotate(18 885.1 1827.1)" fill="none" stroke="#000" stroke-width="0.9" stroke-dasharray="5 3"/>
<ellipse cx="886.6" cy="1827.6" rx="3.5" ry="4.5" transform="rotate(18 886.6 1827.6)" fill="#fff" stroke="#000" stroke-width="1.1"/>
<path d="M890.5 1828.5 893.2 1827.5" fill="none" stroke="#000" stroke-width="1.1"/>
<path d="M894.1 1829.2 896.7 1828.3" fill="none" stroke="#000" stroke-width="1.1"/>
<path d="M888.9 1831.7 891.5 1833.3" fill="none" stroke="#000" stroke-width="1.1"/>
<path d="M891 1835.4 893.6 1837" fill="none" stroke="#000" stroke-width="1.1"/>
<path d="M885.9 1832.5 887 1835.7" fill="none" stroke="#000" stroke-width="1.1"/>
<path d="M885.3 1837 886.3 1840.2" fill="none" stroke="#000" stroke-width="1.1"/>
<path d="M883.3 1830.5 882.2 1833.4" fill="none" stroke="#000" stroke-width="1.1"/>
<path d="M880.4 1833 879.3 1836" fill="none" stroke="#000" stroke-width="1.1"/>
<path d="M882.7 1826.7 880 1827.7" fill="none" stroke="#000" stroke-width="1.1"/>
<path d="M879.1 1826 876.5 1826.9" fill="none" stroke="#000" stroke-width="1.1"/>
<path d="M884.3 1823.5 881.7 1821.9" fill="none" stroke="#000" stroke-width="1.1"/>
<path d="M882.2 1819.8 879.6 1818.2" fill="none" stroke="#000" stroke-width="1.1"/>
<path d="M887.3 1822.7 886.2 1819.5" fill="none" stroke="#000" stroke-width="1.1"/>
<path d="M887.9 1818.2 886.9 1815" fill="none" stroke="#000" stroke-width="1.1"/>
<path d="M889.9 1824.7 891 1821.8" fill="none" stroke="#000" stroke-width="1.1"/>
<path d="M892.8 1822.2 893.9 1819.2" fill="none" stroke="#000" stroke-width="1.1"/>
<path d="M1182.7 1675.5 1186.5 1690.6 1162.5 1684.3" fill="none" stroke="#000" stroke-width="2.3"/>
<text class="lb" x="1199.7" y="1703.2" text-anchor="middle" font-size="22">7</text>
<path d="M961.1 1783.8 938.5 1837.9 903.2 1829.1" fill="none" stroke="#000" stroke-width="2.3"/>
<text class="lb" x="948.8" y="1860.6" text-anchor="middle" font-size="22">7</text>
<path d="M451.1 1475 571.9 1541.7" fill="none" stroke="#000" stroke-width="1.1" stroke-dasharray="8 4"/>
<path d="M362.9 1526.6 491.3 1599.6" fill="none" stroke="#000" stroke-width="1.1" stroke-dasharray="8 4"/>
<path d="M667.6 1349.1 725 1383.1" fill="none" stroke="#000" stroke-width="1.1" stroke-dasharray="8 4"/>
<path d="M622.3 1378 725 1437.2" fill="none" stroke="#000" stroke-width="1.1" stroke-dasharray="8 4"/>
<path d="M725 1385 800 1430" fill="none" stroke="#000" stroke-width="1.1" stroke-dasharray="8 4"/>
<path d="M725 1437 790 1476" fill="none" stroke="#000" stroke-width="1.1" stroke-dasharray="8 4"/>
<ellipse cx="434.2" cy="1465.4" rx="17.5" ry="20.5" transform="rotate(18 434.2 1465.4)" fill="#fff" stroke="#000" stroke-width="2"/>
<ellipse cx="433.7" cy="1465.9" rx="15" ry="18" transform="rotate(18 433.7 1465.9)" fill="none" stroke="#000" stroke-width="0.9" stroke-dasharray="5 3"/>
<ellipse cx="435.2" cy="1466.4" rx="3.5" ry="4.5" transform="rotate(18 435.2 1466.4)" fill="#fff" stroke="#000" stroke-width="1.1"/>
<path d="M439.1 1467.3 441.8 1466.3" fill="none" stroke="#000" stroke-width="1.1"/>
<path d="M442.7 1468 445.3 1467.1" fill="none" stroke="#000" stroke-width="1.1"/>
<path d="M437.5 1470.5 440.1 1472.1" fill="none" stroke="#000" stroke-width="1.1"/>
<path d="M439.6 1474.2 442.2 1475.8" fill="none" stroke="#000" stroke-width="1.1"/>
<path d="M434.5 1471.3 435.6 1474.5" fill="none" stroke="#000" stroke-width="1.1"/>
<path d="M433.9 1475.8 434.9 1479" fill="none" stroke="#000" stroke-width="1.1"/>
<path d="M431.9 1469.3 430.8 1472.2" fill="none" stroke="#000" stroke-width="1.1"/>
<path d="M429 1471.8 427.9 1474.8" fill="none" stroke="#000" stroke-width="1.1"/>
<path d="M431.3 1465.5 428.6 1466.5" fill="none" stroke="#000" stroke-width="1.1"/>
<path d="M427.7 1464.8 425.1 1465.7" fill="none" stroke="#000" stroke-width="1.1"/>
<path d="M432.9 1462.3 430.3 1460.7" fill="none" stroke="#000" stroke-width="1.1"/>
<path d="M430.8 1458.6 428.2 1457" fill="none" stroke="#000" stroke-width="1.1"/>
<path d="M435.9 1461.5 434.8 1458.3" fill="none" stroke="#000" stroke-width="1.1"/>
<path d="M436.5 1457 435.5 1453.8" fill="none" stroke="#000" stroke-width="1.1"/>
<path d="M438.5 1463.5 439.6 1460.6" fill="none" stroke="#000" stroke-width="1.1"/>
<path d="M441.4 1461 442.5 1458" fill="none" stroke="#000" stroke-width="1.1"/>
<ellipse cx="352.1" cy="1515.3" rx="17" ry="20" transform="rotate(18 352.1 1515.3)" fill="#fff" stroke="#000" stroke-width="1.7"/>
<ellipse cx="346.6" cy="1517.8" rx="17.5" ry="20.5" transform="rotate(18 346.6 1517.8)" fill="#fff" stroke="#000" stroke-width="2"/>
<ellipse cx="346.1" cy="1518.3" rx="15" ry="18" transform="rotate(18 346.1 1518.3)" fill="none" stroke="#000" stroke-width="0.9" stroke-dasharray="5 3"/>
<ellipse cx="347.6" cy="1518.8" rx="3.5" ry="4.5" transform="rotate(18 347.6 1518.8)" fill="#fff" stroke="#000" stroke-width="1.1"/>
<path d="M351.5 1519.7 354.2 1518.7" fill="none" stroke="#000" stroke-width="1.1"/>
<path d="M355.1 1520.4 357.7 1519.5" fill="none" stroke="#000" stroke-width="1.1"/>
<path d="M349.9 1522.9 352.5 1524.5" fill="none" stroke="#000" stroke-width="1.1"/>
<path d="M352 1526.6 354.6 1528.2" fill="none" stroke="#000" stroke-width="1.1"/>
<path d="M346.9 1523.7 348 1526.9" fill="none" stroke="#000" stroke-width="1.1"/>
<path d="M346.3 1528.2 347.3 1531.4" fill="none" stroke="#000" stroke-width="1.1"/>
<path d="M344.3 1521.7 343.2 1524.6" fill="none" stroke="#000" stroke-width="1.1"/>
<path d="M341.4 1524.2 340.3 1527.2" fill="none" stroke="#000" stroke-width="1.1"/>
<path d="M343.7 1517.9 341 1518.9" fill="none" stroke="#000" stroke-width="1.1"/>
<path d="M340.1 1517.2 337.5 1518.1" fill="none" stroke="#000" stroke-width="1.1"/>
<path d="M345.3 1514.7 342.7 1513.1" fill="none" stroke="#000" stroke-width="1.1"/>
<path d="M343.2 1511 340.6 1509.4" fill="none" stroke="#000" stroke-width="1.1"/>
<path d="M348.3 1513.9 347.2 1510.7" fill="none" stroke="#000" stroke-width="1.1"/>
<path d="M348.9 1509.4 347.9 1506.2" fill="none" stroke="#000" stroke-width="1.1"/>
<path d="M350.9 1515.9 352 1513" fill="none" stroke="#000" stroke-width="1.1"/>
<path d="M353.8 1513.4 354.9 1510.4" fill="none" stroke="#000" stroke-width="1.1"/>
<ellipse cx="651.2" cy="1340.3" rx="17.5" ry="20.5" transform="rotate(18 651.2 1340.3)" fill="#fff" stroke="#000" stroke-width="2"/>
<ellipse cx="650.7" cy="1340.8" rx="15" ry="18" transform="rotate(18 650.7 1340.8)" fill="none" stroke="#000" stroke-width="0.9" stroke-dasharray="5 3"/>
<ellipse cx="652.2" cy="1341.3" rx="3.5" ry="4.5" transform="rotate(18 652.2 1341.3)" fill="#fff" stroke="#000" stroke-width="1.1"/>
<path d="M656.1 1342.2 658.8 1341.2" fill="none" stroke="#000" stroke-width="1.1"/>
<path d="M659.7 1342.9 662.3 1342" fill="none" stroke="#000" stroke-width="1.1"/>
<path d="M654.5 1345.4 657.1 1347" fill="none" stroke="#000" stroke-width="1.1"/>
<path d="M656.6 1349.1 659.2 1350.7" fill="none" stroke="#000" stroke-width="1.1"/>
<path d="M651.5 1346.2 652.6 1349.4" fill="none" stroke="#000" stroke-width="1.1"/>
<path d="M650.9 1350.7 651.9 1353.9" fill="none" stroke="#000" stroke-width="1.1"/>
<path d="M648.9 1344.2 647.8 1347.1" fill="none" stroke="#000" stroke-width="1.1"/>
<path d="M646 1346.7 644.9 1349.7" fill="none" stroke="#000" stroke-width="1.1"/>
<path d="M648.3 1340.4 645.6 1341.4" fill="none" stroke="#000" stroke-width="1.1"/>
<path d="M644.7 1339.7 642.1 1340.6" fill="none" stroke="#000" stroke-width="1.1"/>
<path d="M649.9 1337.2 647.3 1335.6" fill="none" stroke="#000" stroke-width="1.1"/>
<path d="M647.8 1333.5 645.2 1331.9" fill="none" stroke="#000" stroke-width="1.1"/>
<path d="M652.9 1336.4 651.8 1333.2" fill="none" stroke="#000" stroke-width="1.1"/>
<path d="M653.5 1331.9 652.5 1328.7" fill="none" stroke="#000" stroke-width="1.1"/>
<path d="M655.5 1338.4 656.6 1335.5" fill="none" stroke="#000" stroke-width="1.1"/>
<path d="M658.4 1335.9 659.5 1332.9" fill="none" stroke="#000" stroke-width="1.1"/>
<ellipse cx="611.4" cy="1366.7" rx="17" ry="20" transform="rotate(18 611.4 1366.7)" fill="#fff" stroke="#000" stroke-width="1.7"/>
<ellipse cx="605.9" cy="1369.2" rx="17.5" ry="20.5" transform="rotate(18 605.9 1369.2)" fill="#fff" stroke="#000" stroke-width="2"/>
<ellipse cx="605.4" cy="1369.7" rx="15" ry="18" transform="rotate(18 605.4 1369.7)" fill="none" stroke="#000" stroke-width="0.9" stroke-dasharray="5 3"/>
<ellipse cx="606.9" cy="1370.2" rx="3.5" ry="4.5" transform="rotate(18 606.9 1370.2)" fill="#fff" stroke="#000" stroke-width="1.1"/>
<path d="M610.8 1371.1 613.5 1370.1" fill="none" stroke="#000" stroke-width="1.1"/>
<path d="M614.4 1371.8 617 1370.9" fill="none" stroke="#000" stroke-width="1.1"/>
<path d="M609.2 1374.3 611.8 1375.9" fill="none" stroke="#000" stroke-width="1.1"/>
<path d="M611.3 1378 613.9 1379.6" fill="none" stroke="#000" stroke-width="1.1"/>
<path d="M606.2 1375.1 607.3 1378.3" fill="none" stroke="#000" stroke-width="1.1"/>
<path d="M605.6 1379.6 606.6 1382.8" fill="none" stroke="#000" stroke-width="1.1"/>
<path d="M603.6 1373.1 602.5 1376" fill="none" stroke="#000" stroke-width="1.1"/>
<path d="M600.7 1375.6 599.6 1378.6" fill="none" stroke="#000" stroke-width="1.1"/>
<path d="M603 1369.3 600.3 1370.3" fill="none" stroke="#000" stroke-width="1.1"/>
<path d="M599.4 1368.6 596.8 1369.5" fill="none" stroke="#000" stroke-width="1.1"/>
<path d="M604.6 1366.1 602 1364.5" fill="none" stroke="#000" stroke-width="1.1"/>
<path d="M602.5 1362.4 599.9 1360.8" fill="none" stroke="#000" stroke-width="1.1"/>
<path d="M607.6 1365.3 606.5 1362.1" fill="none" stroke="#000" stroke-width="1.1"/>
<path d="M608.2 1360.8 607.2 1357.6" fill="none" stroke="#000" stroke-width="1.1"/>
<path d="M610.2 1367.3 611.3 1364.4" fill="none" stroke="#000" stroke-width="1.1"/>
<path d="M613.1 1364.8 614.2 1361.8" fill="none" stroke="#000" stroke-width="1.1"/>
<path d="M417.1 1459.9 378 1434.7 352.9 1496.4" fill="none" stroke="#000" stroke-width="2.3"/>
<text class="lb" x="376.5" y="1427.1" text-anchor="middle" font-size="22">7</text>
<path d="M606.9 1348.9 606.9 1288 637.6 1328.7" fill="none" stroke="#000" stroke-width="2.3"/>
<text class="lb" x="604.3" y="1282.2" text-anchor="middle" font-size="22">7</text>
<path d="M1151.1 1412.6 1114.8 1461.7" fill="none" stroke="#000" stroke-width="2.3"/>
<text class="lb" x="1153.5" y="1410.9" text-anchor="middle" font-size="22">1</text>
<path d="M1006 1774.2 1032.3 1751.2 1033.6 1746 1049 1737.7 1054.1 1740.3 1085.5 1724.2 1096.4 1724.9 1129.1 1744.1 1129.1 1746.7 1102.8 1764.6 1072.1 1781.3 1054.1 1787.7 1033.6 1789.6 1020.8 1789 1020.1 1781.3Z" fill="#fff" stroke="#000" stroke-width="1.8"/>
<path d="M1032.3 1751.2 1033.6 1746 1049 1737.7 1054.1 1740.3 1051.5 1744.1 1036.2 1751.8Z" fill="#fff" stroke="#000" stroke-width="1.4"/>
<path d="M1022.3 1767.6 1026.6 1768.4 1031 1770.4 1033 1772.6 1031.2 1775.1 1027 1777.7 1022.8 1779 1018.5 1778.3 1014.2 1776.2 1012.2 1774Z" fill="none" stroke="#000" stroke-width="1.7"/>
<path d="M1036 1774 1040.3 1774.8 1044.6 1776.8 1046.7 1779 1044.9 1781.5 1040.7 1784.1 1036.5 1785.4 1032.2 1784.7 1027.9 1782.6 1025.8 1780.4Z" fill="none" stroke="#000" stroke-width="1.7"/>
<path d="M1049.7 1780.4 1054 1781.2 1058.3 1783.2 1060.4 1785.4 1058.5 1787.9 1054.4 1790.5 1050.2 1791.9 1045.9 1791.1 1041.6 1789 1039.5 1786.9Z" fill="none" stroke="#000" stroke-width="1.7"/>
<path d="M1035.4 1759.4 1039.7 1760.2 1044 1762.2 1046 1764.4 1044.2 1766.8 1040.1 1769.5 1035.9 1770.8 1031.6 1770 1027.2 1768 1025.2 1765.8Z" fill="none" stroke="#000" stroke-width="1.7"/>
<path d="M1049 1765.8 1053.3 1766.6 1057.7 1768.6 1059.7 1770.8 1057.9 1773.3 1053.7 1775.9 1049.5 1777.2 1045.3 1776.4 1040.9 1774.4 1038.9 1772.2Z" fill="none" stroke="#000" stroke-width="1.7"/>
<path d="M1062.7 1772.2 1067 1773 1071.4 1775 1073.4 1777.2 1071.6 1779.7 1067.4 1782.3 1063.2 1783.6 1058.9 1782.9 1054.6 1780.8 1052.6 1778.6Z" fill="none" stroke="#000" stroke-width="1.7"/>
<path d="M1048.4 1751.2 1052.7 1751.9 1057 1754 1059.1 1756.2 1057.2 1758.6 1053.1 1761.2 1048.9 1762.6 1044.6 1761.8 1040.3 1759.8 1038.2 1757.6Z" fill="none" stroke="#000" stroke-width="1.7"/>
<path d="M1062.1 1757.6 1066.4 1758.3 1070.7 1760.4 1072.7 1762.6 1070.9 1765 1066.8 1767.6 1062.6 1769 1058.3 1768.2 1053.9 1766.2 1051.9 1764Z" fill="none" stroke="#000" stroke-width="1.7"/>
<path d="M1075.8 1764 1080 1764.8 1084.4 1766.8 1086.4 1769 1084.6 1771.4 1080.5 1774.1 1076.3 1775.4 1072 1774.6 1067.6 1772.6 1065.6 1770.4Z" fill="none" stroke="#000" stroke-width="1.7"/>
<path d="M1061.4 1742.9 1065.7 1743.7 1070.1 1745.7 1072.1 1747.9 1070.3 1750.4 1066.1 1753 1061.9 1754.4 1057.6 1753.6 1053.3 1751.5 1051.3 1749.4Z" fill="none" stroke="#000" stroke-width="1.7"/>
<path d="M1075.1 1749.3 1079.4 1750.1 1083.7 1752.2 1085.8 1754.3 1084 1756.8 1079.8 1759.4 1075.6 1760.8 1071.3 1760 1067 1758 1064.9 1755.8Z" fill="none" stroke="#000" stroke-width="1.7"/>
<path d="M1088.8 1755.8 1093.1 1756.5 1097.4 1758.6 1099.5 1760.8 1097.6 1763.2 1093.5 1765.8 1089.3 1767.2 1085 1766.4 1080.7 1764.4 1078.6 1762.2Z" fill="none" stroke="#000" stroke-width="1.7"/>
<path d="M1074.5 1734.7 1078.8 1735.5 1083.1 1737.5 1085.1 1739.7 1083.3 1742.2 1079.2 1744.8 1075 1746.1 1070.7 1745.4 1066.3 1743.3 1064.3 1741.1Z" fill="none" stroke="#000" stroke-width="1.7"/>
<path d="M1088.1 1741.1 1092.4 1741.9 1096.8 1743.9 1098.8 1746.1 1097 1748.6 1092.8 1751.2 1088.6 1752.5 1084.4 1751.8 1080 1749.7 1078 1747.5Z" fill="none" stroke="#000" stroke-width="1.7"/>
<path d="M1101.8 1747.5 1106.1 1748.3 1110.5 1750.3 1112.5 1752.5 1110.7 1755 1106.5 1757.6 1102.3 1758.9 1098 1758.2 1093.7 1756.1 1091.7 1753.9Z" fill="none" stroke="#000" stroke-width="1.7"/>
<path d="M1087.5 1726.5 1091.8 1727.3 1096.1 1729.3 1098.2 1731.5 1096.3 1733.9 1092.2 1736.6 1088 1737.9 1083.7 1737.1 1079.4 1735.1 1077.3 1732.9Z" fill="none" stroke="#000" stroke-width="1.7"/>
<path d="M1101.2 1732.9 1105.5 1733.7 1109.8 1735.7 1111.8 1737.9 1110 1740.3 1105.9 1743 1101.7 1744.3 1097.4 1743.5 1093 1741.5 1091 1739.3Z" fill="none" stroke="#000" stroke-width="1.7"/>
<path d="M1114.9 1739.3 1119.1 1740.1 1123.5 1742.1 1125.5 1744.3 1123.7 1746.8 1119.6 1749.4 1115.4 1750.7 1111.1 1750 1106.7 1747.9 1104.7 1745.7Z" fill="none" stroke="#000" stroke-width="1.7"/>
<path d="M1009.2 1774.2 1050.3 1793.5" fill="none" stroke="#000" stroke-width="0.8"/>
<path d="M1022.3 1766 1063.3 1785.2" fill="none" stroke="#000" stroke-width="0.8"/>
<path d="M1035.3 1757.8 1076.3 1777" fill="none" stroke="#000" stroke-width="0.8"/>
<path d="M1048.3 1749.6 1089.4 1768.8" fill="none" stroke="#000" stroke-width="0.8"/>
<path d="M1061.4 1741.3 1102.4 1760.6" fill="none" stroke="#000" stroke-width="0.8"/>
<path d="M1074.4 1733.1 1115.4 1752.3" fill="none" stroke="#000" stroke-width="0.8"/>
<path d="M1087.4 1724.9 1128.5 1744.1" fill="none" stroke="#000" stroke-width="0.8"/>
<path d="M1009.2 1774.2 1087.4 1724.9" fill="none" stroke="#000" stroke-width="0.8"/>
<path d="M1022.9 1780.6 1101.1 1731.3" fill="none" stroke="#000" stroke-width="0.8"/>
<path d="M1036.6 1787.1 1114.8 1737.7" fill="none" stroke="#000" stroke-width="0.8"/>
<path d="M1050.3 1793.5 1128.5 1744.1" fill="none" stroke="#000" stroke-width="0.8"/>
<path d="M1007.9 1776.2 1020.8 1782.6 1033.6 1787.7 1054.1 1785.8 1072.1 1779.4 1102.8 1762.7 1127.8 1746" fill="none" stroke="#000" stroke-width="1.1"/>
<path d="M1049.7 1713.3 1055.5 1741" fill="none" stroke="#000" stroke-width="2.3"/>
<text class="lb" x="1050.5" y="1708.3" text-anchor="middle" font-size="22">16B</text>
<path d="M1004.7 1837.7 1084.9 1792.8 1096.4 1792.2 1107.9 1794.1 1127.8 1779.4 1131.7 1778.7 1131 1821 1129.7 1903.1 1118.2 1910.8 1061.8 1940.3 1034.9 1940.9 1015.6 1931.3 1006.7 1923.6 1004.7 1859.5Z" fill="#fff" stroke="#000" stroke-width="1.8"/>
<path d="M1006 1850.5 1007.3 1917.2" fill="none" stroke="#000" stroke-width="1.9" stroke-dasharray="5.2 3.2" stroke-dashoffset="0.0" stroke-linecap="butt"/>
<path d="M1008.8 1850.9 1010 1917.7" fill="none" stroke="#000" stroke-width="0.7"/>
<path d="M1011.6 1851.3 1012.7 1918.2" fill="none" stroke="#000" stroke-width="1.9" stroke-dasharray="5.2 3.2" stroke-dashoffset="4.2" stroke-linecap="butt"/>
<path d="M1014.3 1851.7 1015.4 1918.8" fill="none" stroke="#000" stroke-width="0.7"/>
<path d="M1017.1 1852.1 1018.1 1919.3" fill="none" stroke="#000" stroke-width="1.9" stroke-dasharray="5.2 3.2" stroke-dashoffset="0.0" stroke-linecap="butt"/>
<path d="M1019.9 1852.6 1020.9 1919.8" fill="none" stroke="#000" stroke-width="0.7"/>
<path d="M1022.6 1853 1023.6 1920.3" fill="none" stroke="#000" stroke-width="1.9" stroke-dasharray="5.2 3.2" stroke-dashoffset="4.2" stroke-linecap="butt"/>
<path d="M1025.4 1853.4 1026.3 1920.9" fill="none" stroke="#000" stroke-width="0.7"/>
<path d="M1028.2 1853.8 1029 1921.4" fill="none" stroke="#000" stroke-width="1.9" stroke-dasharray="5.2 3.2" stroke-dashoffset="0.0" stroke-linecap="butt"/>
<path d="M1030.9 1854.2 1031.7 1921.9" fill="none" stroke="#000" stroke-width="0.7"/>
<path d="M1033.7 1854.6 1034.4 1922.4" fill="none" stroke="#000" stroke-width="1.9" stroke-dasharray="5.3 3.2" stroke-dashoffset="4.2" stroke-linecap="butt"/>
<path d="M1036.5 1855 1037.1 1922.9" fill="none" stroke="#000" stroke-width="0.7"/>
<path d="M1039.2 1855.4 1039.8 1923.5" fill="none" stroke="#000" stroke-width="1.9" stroke-dasharray="5.3 3.2" stroke-dashoffset="0.0" stroke-linecap="butt"/>
<path d="M1042 1855.8 1042.5 1924" fill="none" stroke="#000" stroke-width="0.7"/>
<path d="M1044.8 1856.2 1045.2 1924.5" fill="none" stroke="#000" stroke-width="1.9" stroke-dasharray="5.3 3.2" stroke-dashoffset="4.3" stroke-linecap="butt"/>
<path d="M1047.5 1856.6 1048 1925" fill="none" stroke="#000" stroke-width="0.7"/>
<path d="M1050.3 1857 1050.7 1925.6" fill="none" stroke="#000" stroke-width="1.9" stroke-dasharray="5.3 3.3" stroke-dashoffset="0.0" stroke-linecap="butt"/>
<path d="M1053.1 1857.4 1053.4 1926.1" fill="none" stroke="#000" stroke-width="0.7"/>
<path d="M1055.9 1857.9 1056.1 1926.6" fill="none" stroke="#000" stroke-width="1.9" stroke-dasharray="5.3 3.3" stroke-dashoffset="4.3" stroke-linecap="butt"/>
<path d="M1058.6 1858.3 1058.8 1927.1" fill="none" stroke="#000" stroke-width="0.7"/>
<path d="M1061.4 1858.7 1061.5 1927.7" fill="none" stroke="#000" stroke-width="1.9" stroke-dasharray="5.3 3.3" stroke-dashoffset="0.0" stroke-linecap="butt"/>
<path d="M1064.2 1859.1 1064.2 1928.2" fill="none" stroke="#000" stroke-width="0.7"/>
<path d="M1066.9 1859.5 1066.9 1928.7" fill="none" stroke="#000" stroke-width="1.9" stroke-dasharray="5.4 3.3" stroke-dashoffset="4.3" stroke-linecap="butt"/>
<path d="M1006 1850.5 1066.9 1859.5" fill="none" stroke="#000" stroke-width="0.8"/>
<path d="M1006.2 1858.8 1066.9 1868.1" fill="none" stroke="#000" stroke-width="0.8"/>
<path d="M1006.3 1867.2 1066.9 1876.8" fill="none" stroke="#000" stroke-width="0.8"/>
<path d="M1006.5 1875.5 1066.9 1885.4" fill="none" stroke="#000" stroke-width="0.8"/>
<path d="M1006.7 1883.8 1066.9 1894.1" fill="none" stroke="#000" stroke-width="0.8"/>
<path d="M1006.8 1892.2 1066.9 1902.8" fill="none" stroke="#000" stroke-width="0.8"/>
<path d="M1007 1900.5 1066.9 1911.4" fill="none" stroke="#000" stroke-width="0.8"/>
<path d="M1007.1 1908.8 1066.9 1920.1" fill="none" stroke="#000" stroke-width="0.8"/>
<path d="M1007.3 1917.2 1066.9 1928.7" fill="none" stroke="#000" stroke-width="0.8"/>
<path d="M1066.9 1859.5 1066.9 1928.7" fill="none" stroke="#000" stroke-width="1.9" stroke-dasharray="5.4 3.3" stroke-dashoffset="0.0" stroke-linecap="butt"/>
<path d="M1069.3 1858 1069.3 1927.5" fill="none" stroke="#000" stroke-width="0.7"/>
<path d="M1071.7 1856.5 1071.7 1926.3" fill="none" stroke="#000" stroke-width="1.9" stroke-dasharray="5.4 3.3" stroke-dashoffset="4.4" stroke-linecap="butt"/>
<path d="M1074.1 1855 1074.1 1925" fill="none" stroke="#000" stroke-width="0.7"/>
<path d="M1076.5 1853.6 1076.5 1923.8" fill="none" stroke="#000" stroke-width="1.9" stroke-dasharray="5.4 3.3" stroke-dashoffset="0.0" stroke-linecap="butt"/>
<path d="M1078.9 1852.1 1078.9 1922.6" fill="none" stroke="#000" stroke-width="0.7"/>
<path d="M1081.3 1850.6 1081.3 1921.3" fill="none" stroke="#000" stroke-width="1.9" stroke-dasharray="5.5 3.4" stroke-dashoffset="4.4" stroke-linecap="butt"/>
<path d="M1083.7 1849.1 1083.7 1920.1" fill="none" stroke="#000" stroke-width="0.7"/>
<path d="M1086.1 1847.7 1086.1 1918.9" fill="none" stroke="#000" stroke-width="1.9" stroke-dasharray="5.5 3.4" stroke-dashoffset="0.0" stroke-linecap="butt"/>
<path d="M1088.4 1846.2 1088.4 1917.6" fill="none" stroke="#000" stroke-width="0.7"/>
<path d="M1090.8 1844.7 1090.8 1916.4" fill="none" stroke="#000" stroke-width="1.9" stroke-dasharray="5.6 3.4" stroke-dashoffset="4.5" stroke-linecap="butt"/>
<path d="M1093.2 1843.2 1093.2 1915.2" fill="none" stroke="#000" stroke-width="0.7"/>
<path d="M1095.6 1841.7 1095.6 1913.9" fill="none" stroke="#000" stroke-width="1.9" stroke-dasharray="5.6 3.4" stroke-dashoffset="0.0" stroke-linecap="butt"/>
<path d="M1098 1840.3 1098 1912.7" fill="none" stroke="#000" stroke-width="0.7"/>
<path d="M1100.4 1838.8 1100.4 1911.5" fill="none" stroke="#000" stroke-width="1.9" stroke-dasharray="5.6 3.5" stroke-dashoffset="4.5" stroke-linecap="butt"/>
<path d="M1102.8 1837.3 1102.8 1910.2" fill="none" stroke="#000" stroke-width="0.7"/>
<path d="M1105.2 1835.8 1105.2 1909" fill="none" stroke="#000" stroke-width="1.9" stroke-dasharray="5.7 3.5" stroke-dashoffset="0.0" stroke-linecap="butt"/>
<path d="M1107.6 1834.3 1107.6 1907.8" fill="none" stroke="#000" stroke-width="0.7"/>
<path d="M1110 1832.9 1110 1906.5" fill="none" stroke="#000" stroke-width="1.9" stroke-dasharray="5.7 3.5" stroke-dashoffset="4.6" stroke-linecap="butt"/>
<path d="M1112.4 1831.4 1112.4 1905.3" fill="none" stroke="#000" stroke-width="0.7"/>
<path d="M1114.8 1829.9 1114.8 1904.1" fill="none" stroke="#000" stroke-width="1.9" stroke-dasharray="5.7 3.5" stroke-dashoffset="0.0" stroke-linecap="butt"/>
<path d="M1117.1 1828.4 1117.1 1902.8" fill="none" stroke="#000" stroke-width="0.7"/>
<path d="M1119.5 1826.9 1119.5 1901.6" fill="none" stroke="#000" stroke-width="1.9" stroke-dasharray="5.8 3.5" stroke-dashoffset="4.7" stroke-linecap="butt"/>
<path d="M1121.9 1825.5 1121.9 1900.4" fill="none" stroke="#000" stroke-width="0.7"/>
<path d="M1124.3 1824 1124.3 1899.1" fill="none" stroke="#000" stroke-width="1.9" stroke-dasharray="5.8 3.6" stroke-dashoffset="0.0" stroke-linecap="butt"/>
<path d="M1126.7 1822.5 1126.7 1897.9" fill="none" stroke="#000" stroke-width="0.7"/>
<path d="M1129.1 1821 1129.1 1896.7" fill="none" stroke="#000" stroke-width="1.9" stroke-dasharray="5.9 3.6" stroke-dashoffset="4.7" stroke-linecap="butt"/>
<path d="M1066.9 1859.5 1129.1 1821" fill="none" stroke="#000" stroke-width="0.8"/>
<path d="M1066.9 1868.1 1129.1 1830.5" fill="none" stroke="#000" stroke-width="0.8"/>
<path d="M1066.9 1876.8 1129.1 1839.9" fill="none" stroke="#000" stroke-width="0.8"/>
<path d="M1066.9 1885.4 1129.1 1849.4" fill="none" stroke="#000" stroke-width="0.8"/>
<path d="M1066.9 1894.1 1129.1 1858.8" fill="none" stroke="#000" stroke-width="0.8"/>
<path d="M1066.9 1902.8 1129.1 1868.3" fill="none" stroke="#000" stroke-width="0.8"/>
<path d="M1066.9 1911.4 1129.1 1877.8" fill="none" stroke="#000" stroke-width="0.8"/>
<path d="M1066.9 1920.1 1129.1 1887.2" fill="none" stroke="#000" stroke-width="0.8"/>
<path d="M1066.9 1928.7 1129.1 1896.7" fill="none" stroke="#000" stroke-width="0.8"/>
<path d="M1004.7 1839 1028.5 1845.4 1066.9 1856.9 1129.7 1818.5" fill="none" stroke="#000" stroke-width="1.3"/>
<path d="M1009.2 1842.8 1084.9 1799.2 1105.4 1799.2" fill="none" stroke="#000" stroke-width="1.1"/>
<path d="M1107.9 1794.1 1106 1797.3 1127.8 1781.3" fill="none" stroke="#000" stroke-width="1.1"/>
<path d="M1019.5 1838.3 1019.5 1829.4" fill="none" stroke="#000" stroke-width="1.6"/>
<path d="M1024.9 1835.3 1024.9 1826.3" fill="none" stroke="#000" stroke-width="1.6"/>
<path d="M1030.3 1832.3 1030.3 1823.3" fill="none" stroke="#000" stroke-width="1.6"/>
<path d="M1035.6 1829.3 1035.6 1820.3" fill="none" stroke="#000" stroke-width="1.6"/>
<path d="M1041 1826.3 1041 1817.3" fill="none" stroke="#000" stroke-width="1.6"/>
<path d="M1046.4 1823.3 1046.4 1814.3" fill="none" stroke="#000" stroke-width="1.6"/>
<path d="M1051.8 1820.3 1051.8 1811.3" fill="none" stroke="#000" stroke-width="1.6"/>
<path d="M1057.2 1817.2 1057.2 1808.3" fill="none" stroke="#000" stroke-width="1.6"/>
<path d="M1062.6 1814.2 1062.6 1805.3" fill="none" stroke="#000" stroke-width="1.6"/>
<path d="M1067.9 1811.2 1067.9 1802.2" fill="none" stroke="#000" stroke-width="1.6"/>
<path d="M1073.3 1808.2 1073.3 1799.2" fill="none" stroke="#000" stroke-width="1.6"/>
<path d="M1078.7 1805.2 1078.7 1796.2" fill="none" stroke="#000" stroke-width="1.6"/>
<path d="M1084.1 1802.2 1084.1 1793.2" fill="none" stroke="#000" stroke-width="1.6"/>
<path d="M1089.5 1799.2 1089.5 1790.2" fill="none" stroke="#000" stroke-width="1.6"/>
<path d="M1094.9 1796.2 1094.9 1787.2" fill="none" stroke="#000" stroke-width="1.6"/>
<path d="M1100.3 1793.1 1100.3 1784.2" fill="none" stroke="#000" stroke-width="1.6"/>
<path d="M1014.4 1842.2 1102.8 1792.8" fill="none" stroke="#000" stroke-width="1" stroke-dasharray="3 2"/>
<path d="M1079.7 1837.7 1079.1 1836.1 1078.4 1833.8 1078.5 1831.3 1079.1 1829.5 1080.6 1827.5 1084.9 1823.6 1094.6 1815.5 1107.2 1805.5 1116.9 1797.9 1121.1 1795.1 1122.5 1794.8 1123.3 1795.4 1124.2 1796.3 1124.6 1798 1124.6 1800.5 1124.5 1804.1 1124.1 1808.3 1123.3 1812.1 1122.9 1814.1 1122 1815.6 1118.2 1818.5 1109 1824.6 1096.9 1832.2 1087.4 1837.7 1082.9 1839.1 1080.9 1838.4 1079.7 1837.7Z" fill="#fff" stroke="#000" stroke-width="1.7"/>
<path d="M1083.6 1833.8 1082.8 1832.8 1082.1 1831.1 1084.9 1827.4 1094.3 1819.7 1107.2 1810.1 1116.9 1803.1 1120.5 1800.9 1120.9 1801.5 1120.8 1803.1 1121.8 1804.9 1122.2 1807.8 1119.5 1812.1 1110.9 1819.2 1099.2 1827.7 1090 1833.8 1085.9 1835.5 1084.4 1834.7 1083.6 1833.8Z" fill="none" stroke="#000" stroke-width="1.1"/>
<path d="M1088.7 1827.4 1089.4 1833.2" fill="none" stroke="#000" stroke-width="1.3"/>
<path d="M1093.6 1823.6 1094.2 1829.4" fill="none" stroke="#000" stroke-width="1.3"/>
<path d="M1098.5 1819.7 1099.1 1825.5" fill="none" stroke="#000" stroke-width="1.3"/>
<path d="M1103.3 1815.9 1104 1821.7" fill="none" stroke="#000" stroke-width="1.3"/>
<path d="M1108.2 1812.1 1108.8 1817.8" fill="none" stroke="#000" stroke-width="1.3"/>
<path d="M1113.1 1808.2 1113.7 1814" fill="none" stroke="#000" stroke-width="1.3"/>
<path d="M1117.9 1804.4 1118.6 1810.1" fill="none" stroke="#000" stroke-width="1.3"/>
<path d="M1127.8 1779.4 1127.8 1821" fill="none" stroke="#000" stroke-width="1.2"/>
<ellipse cx="1131" cy="1824.9" rx="1.3" ry="2.8" transform="rotate(0 1131 1824.9)" fill="none" stroke="#000" stroke-width="1.3"/>
<ellipse cx="1131" cy="1845.4" rx="1.3" ry="2.8" transform="rotate(0 1131 1845.4)" fill="none" stroke="#000" stroke-width="1.3"/>
<ellipse cx="1131" cy="1865.9" rx="1.3" ry="2.8" transform="rotate(0 1131 1865.9)" fill="none" stroke="#000" stroke-width="1.3"/>
<ellipse cx="1131" cy="1886.4" rx="1.3" ry="2.8" transform="rotate(0 1131 1886.4)" fill="none" stroke="#000" stroke-width="1.3"/>
<path d="M1006.7 1918.5 1066.9 1931.3 1129.7 1897.9" fill="none" stroke="#000" stroke-width="1.2"/>
<path d="M1170.1 1901.4 1131.1 1895.3" fill="none" stroke="#000" stroke-width="2.4"/>
<text class="lb" x="1190.9" y="1912.2" text-anchor="middle" font-size="22">2B</text>
<path d="M1136.5 1757.9 1310.1 1665.5 1313.1 1661.9 1318.4 1663.7 1318.4 1668.4 1315.4 1670.8 1313.1 1797.6 1183.3 1872.2 1177.4 1871 1163.2 1861.6 1158.4 1855.6 1147.8 1853.3 1140.1 1846.2 1137.1 1770.3Z" fill="#fff" stroke="#000" stroke-width="1.8"/>
<path d="M1138.3 1770.3 1141.8 1840.2" fill="none" stroke="#000" stroke-width="2.2" stroke-dasharray="6.2 3.8" stroke-dashoffset="0.0" stroke-linecap="butt"/>
<path d="M1141.3 1772 1144.5 1841.4" fill="none" stroke="#000" stroke-width="0.8"/>
<path d="M1144.2 1773.6 1147.2 1842.6" fill="none" stroke="#000" stroke-width="2.2" stroke-dasharray="6.1 3.8" stroke-dashoffset="4.9" stroke-linecap="butt"/>
<path d="M1147.2 1775.2 1149.8 1843.8" fill="none" stroke="#000" stroke-width="0.8"/>
<path d="M1150.1 1776.8 1152.5 1845" fill="none" stroke="#000" stroke-width="2.2" stroke-dasharray="6.0 3.7" stroke-dashoffset="0.0" stroke-linecap="butt"/>
<path d="M1153.1 1778.5 1155.2 1846.2" fill="none" stroke="#000" stroke-width="0.8"/>
<path d="M1156.1 1780.1 1157.8 1847.3" fill="none" stroke="#000" stroke-width="2.2" stroke-dasharray="6.0 3.7" stroke-dashoffset="4.8" stroke-linecap="butt"/>
<path d="M1159 1781.7 1160.5 1848.5" fill="none" stroke="#000" stroke-width="0.8"/>
<path d="M1162 1783.4 1163.2 1849.7" fill="none" stroke="#000" stroke-width="2.2" stroke-dasharray="5.9 3.6" stroke-dashoffset="0.0" stroke-linecap="butt"/>
<path d="M1165 1785 1165.8 1850.9" fill="none" stroke="#000" stroke-width="0.8"/>
<path d="M1167.9 1786.6 1168.5 1852.1" fill="none" stroke="#000" stroke-width="2.2" stroke-dasharray="5.8 3.6" stroke-dashoffset="4.7" stroke-linecap="butt"/>
<path d="M1170.9 1788.3 1171.2 1853.3" fill="none" stroke="#000" stroke-width="0.8"/>
<path d="M1173.8 1789.9 1173.8 1854.5" fill="none" stroke="#000" stroke-width="2.2" stroke-dasharray="5.7 3.5" stroke-dashoffset="0.0" stroke-linecap="butt"/>
<path d="M1176.8 1791.5 1176.5 1855.6" fill="none" stroke="#000" stroke-width="0.8"/>
<path d="M1179.8 1793.1 1179.2 1856.8" fill="none" stroke="#000" stroke-width="2.2" stroke-dasharray="5.6 3.5" stroke-dashoffset="4.5" stroke-linecap="butt"/>
<path d="M1182.7 1794.8 1181.8 1858" fill="none" stroke="#000" stroke-width="0.8"/>
<path d="M1185.7 1796.4 1184.5 1859.2" fill="none" stroke="#000" stroke-width="2.2" stroke-dasharray="5.6 3.4" stroke-dashoffset="0.0" stroke-linecap="butt"/>
<path d="M1138.3 1770.3 1185.7 1796.4" fill="none" stroke="#000" stroke-width="0.8"/>
<path d="M1138.8 1780.3 1185.5 1805.4" fill="none" stroke="#000" stroke-width="0.8"/>
<path d="M1139.3 1790.3 1185.3 1814.3" fill="none" stroke="#000" stroke-width="0.8"/>
<path d="M1139.8 1800.3 1185.2 1823.3" fill="none" stroke="#000" stroke-width="0.8"/>
<path d="M1140.3 1810.3 1185 1832.3" fill="none" stroke="#000" stroke-width="0.8"/>
<path d="M1140.8 1820.3 1184.8 1841.3" fill="none" stroke="#000" stroke-width="0.8"/>
<path d="M1141.3 1830.3 1184.7 1850.2" fill="none" stroke="#000" stroke-width="0.8"/>
<path d="M1141.8 1840.2 1184.5 1859.2" fill="none" stroke="#000" stroke-width="0.8"/>
<path d="M1189.2 1768.6 1189.2 1843.8" fill="none" stroke="#000" stroke-width="2.3" stroke-dasharray="5.8 3.6" stroke-dashoffset="0.0" stroke-linecap="butt"/>
<path d="M1192.4 1766.9 1192.5 1842.3" fill="none" stroke="#000" stroke-width="0.8"/>
<path d="M1195.6 1765.2 1195.7 1840.8" fill="none" stroke="#000" stroke-width="2.3" stroke-dasharray="5.9 3.6" stroke-dashoffset="4.7" stroke-linecap="butt"/>
<path d="M1198.7 1763.5 1198.9 1839.3" fill="none" stroke="#000" stroke-width="0.8"/>
<path d="M1201.9 1761.8 1202.1 1837.7" fill="none" stroke="#000" stroke-width="2.3" stroke-dasharray="5.9 3.6" stroke-dashoffset="0.0" stroke-linecap="butt"/>
<path d="M1205.1 1760.1 1205.3 1836.2" fill="none" stroke="#000" stroke-width="0.8"/>
<path d="M1208.2 1758.5 1208.5 1834.7" fill="none" stroke="#000" stroke-width="2.3" stroke-dasharray="5.9 3.6" stroke-dashoffset="4.8" stroke-linecap="butt"/>
<path d="M1211.4 1756.8 1211.7 1833.2" fill="none" stroke="#000" stroke-width="0.8"/>
<path d="M1214.6 1755.1 1214.9 1831.7" fill="none" stroke="#000" stroke-width="2.3" stroke-dasharray="5.9 3.6" stroke-dashoffset="0.0" stroke-linecap="butt"/>
<path d="M1217.7 1753.4 1218.1 1830.2" fill="none" stroke="#000" stroke-width="0.8"/>
<path d="M1220.9 1751.7 1221.4 1828.7" fill="none" stroke="#000" stroke-width="2.3" stroke-dasharray="6.0 3.7" stroke-dashoffset="4.8" stroke-linecap="butt"/>
<path d="M1224.1 1750 1224.6 1827.2" fill="none" stroke="#000" stroke-width="0.8"/>
<path d="M1227.2 1748.3 1227.8 1825.6" fill="none" stroke="#000" stroke-width="2.3" stroke-dasharray="6.0 3.7" stroke-dashoffset="0.0" stroke-linecap="butt"/>
<path d="M1230.4 1746.7 1231 1824.1" fill="none" stroke="#000" stroke-width="0.8"/>
<path d="M1233.5 1745 1234.2 1822.6" fill="none" stroke="#000" stroke-width="2.3" stroke-dasharray="6.0 3.7" stroke-dashoffset="4.9" stroke-linecap="butt"/>
<path d="M1236.7 1743.3 1237.4 1821.1" fill="none" stroke="#000" stroke-width="0.8"/>
<path d="M1239.9 1741.6 1240.6 1819.6" fill="none" stroke="#000" stroke-width="2.3" stroke-dasharray="6.0 3.7" stroke-dashoffset="0.0" stroke-linecap="butt"/>
<path d="M1243 1739.9 1243.8 1818.1" fill="none" stroke="#000" stroke-width="0.8"/>
<path d="M1246.2 1738.2 1247 1816.6" fill="none" stroke="#000" stroke-width="2.3" stroke-dasharray="6.1 3.7" stroke-dashoffset="4.9" stroke-linecap="butt"/>
<path d="M1249.4 1736.6 1250.3 1815.1" fill="none" stroke="#000" stroke-width="0.8"/>
<path d="M1252.5 1734.9 1253.5 1813.5" fill="none" stroke="#000" stroke-width="2.3" stroke-dasharray="6.1 3.7" stroke-dashoffset="0.0" stroke-linecap="butt"/>
<path d="M1255.7 1733.2 1256.7 1812" fill="none" stroke="#000" stroke-width="0.8"/>
<path d="M1258.9 1731.5 1259.9 1810.5" fill="none" stroke="#000" stroke-width="2.3" stroke-dasharray="6.1 3.8" stroke-dashoffset="4.9" stroke-linecap="butt"/>
<path d="M1262 1729.8 1263.1 1809" fill="none" stroke="#000" stroke-width="0.8"/>
<path d="M1265.2 1728.1 1266.3 1807.5" fill="none" stroke="#000" stroke-width="2.3" stroke-dasharray="6.2 3.8" stroke-dashoffset="0.0" stroke-linecap="butt"/>
<path d="M1268.4 1726.5 1269.5 1806" fill="none" stroke="#000" stroke-width="0.8"/>
<path d="M1271.5 1724.8 1272.7 1804.5" fill="none" stroke="#000" stroke-width="2.3" stroke-dasharray="6.2 3.8" stroke-dashoffset="5.0" stroke-linecap="butt"/>
<path d="M1274.7 1723.1 1276 1803" fill="none" stroke="#000" stroke-width="0.8"/>
<path d="M1277.9 1721.4 1279.2 1801.4" fill="none" stroke="#000" stroke-width="2.3" stroke-dasharray="6.2 3.8" stroke-dashoffset="0.0" stroke-linecap="butt"/>
<path d="M1281 1719.7 1282.4 1799.9" fill="none" stroke="#000" stroke-width="0.8"/>
<path d="M1284.2 1718 1285.6 1798.4" fill="none" stroke="#000" stroke-width="2.3" stroke-dasharray="6.2 3.8" stroke-dashoffset="5.0" stroke-linecap="butt"/>
<path d="M1287.3 1716.4 1288.8 1796.9" fill="none" stroke="#000" stroke-width="0.8"/>
<path d="M1290.5 1714.7 1292 1795.4" fill="none" stroke="#000" stroke-width="2.3" stroke-dasharray="6.3 3.8" stroke-dashoffset="0.0" stroke-linecap="butt"/>
<path d="M1293.7 1713 1295.2 1793.9" fill="none" stroke="#000" stroke-width="0.8"/>
<path d="M1296.8 1711.3 1298.4 1792.4" fill="none" stroke="#000" stroke-width="2.3" stroke-dasharray="6.3 3.9" stroke-dashoffset="5.1" stroke-linecap="butt"/>
<path d="M1300 1709.6 1301.6 1790.9" fill="none" stroke="#000" stroke-width="0.8"/>
<path d="M1303.2 1707.9 1304.9 1789.4" fill="none" stroke="#000" stroke-width="2.3" stroke-dasharray="6.3 3.9" stroke-dashoffset="0.0" stroke-linecap="butt"/>
<path d="M1306.3 1706.3 1308.1 1787.8" fill="none" stroke="#000" stroke-width="0.8"/>
<path d="M1309.5 1704.6 1311.3 1786.3" fill="none" stroke="#000" stroke-width="2.3" stroke-dasharray="6.3 3.9" stroke-dashoffset="5.1" stroke-linecap="butt"/>
<path d="M1189.2 1768.6 1309.5 1704.6" fill="none" stroke="#000" stroke-width="0.8"/>
<path d="M1189.2 1778 1309.7 1714.8" fill="none" stroke="#000" stroke-width="0.8"/>
<path d="M1189.2 1787.4 1309.9 1725" fill="none" stroke="#000" stroke-width="0.8"/>
<path d="M1189.2 1796.8 1310.2 1735.2" fill="none" stroke="#000" stroke-width="0.8"/>
<path d="M1189.2 1806.2 1310.4 1745.5" fill="none" stroke="#000" stroke-width="0.8"/>
<path d="M1189.2 1815.6 1310.6 1755.7" fill="none" stroke="#000" stroke-width="0.8"/>
<path d="M1189.2 1825 1310.8 1765.9" fill="none" stroke="#000" stroke-width="0.8"/>
<path d="M1189.2 1834.4 1311.1 1776.1" fill="none" stroke="#000" stroke-width="0.8"/>
<path d="M1189.2 1843.8 1311.3 1786.3" fill="none" stroke="#000" stroke-width="0.8"/>
<path d="M1185.7 1796.4 1189.2 1769.1" fill="none" stroke="#000" stroke-width="1.2"/>
<path d="M1184.5 1859.2 1189.2 1843.8" fill="none" stroke="#000" stroke-width="1.2"/>
<path d="M1137.1 1759.7 1314.8 1667.8" fill="none" stroke="#000" stroke-width="1.2"/>
<path d="M1141.8 1762 1312.5 1672.6" fill="none" stroke="#000" stroke-width="1" stroke-dasharray="3 2"/>
<path d="M1136.5 1757.9 1136.5 1759.7" fill="none" stroke="#000" stroke-width="1"/>
<path d="M1139.5 1756.7 1140 1758.8" fill="none" stroke="#000" stroke-width="1.1"/>
<path d="M1143.9 1754.4 1144.3 1756.5" fill="none" stroke="#000" stroke-width="1.1"/>
<path d="M1148.2 1752 1148.7 1754.1" fill="none" stroke="#000" stroke-width="1.1"/>
<path d="M1152.6 1749.7 1153.1 1751.8" fill="none" stroke="#000" stroke-width="1.1"/>
<path d="M1157 1747.3 1157.5 1749.5" fill="none" stroke="#000" stroke-width="1.1"/>
<path d="M1161.4 1745 1161.9 1747.1" fill="none" stroke="#000" stroke-width="1.1"/>
<path d="M1165.8 1742.6 1166.3 1744.8" fill="none" stroke="#000" stroke-width="1.1"/>
<path d="M1170.2 1740.3 1170.6 1742.4" fill="none" stroke="#000" stroke-width="1.1"/>
<path d="M1174.5 1737.9 1175 1740.1" fill="none" stroke="#000" stroke-width="1.1"/>
<path d="M1178.9 1735.6 1179.4 1737.7" fill="none" stroke="#000" stroke-width="1.1"/>
<path d="M1183.3 1733.2 1183.8 1735.4" fill="none" stroke="#000" stroke-width="1.1"/>
<path d="M1187.7 1730.9 1188.2 1733" fill="none" stroke="#000" stroke-width="1.1"/>
<path d="M1192.1 1728.6 1192.6 1730.7" fill="none" stroke="#000" stroke-width="1.1"/>
<path d="M1196.5 1726.2 1196.9 1728.3" fill="none" stroke="#000" stroke-width="1.1"/>
<path d="M1200.9 1723.9 1201.3 1726" fill="none" stroke="#000" stroke-width="1.1"/>
<path d="M1205.2 1721.5 1205.7 1723.6" fill="none" stroke="#000" stroke-width="1.1"/>
<path d="M1209.6 1719.2 1210.1 1721.3" fill="none" stroke="#000" stroke-width="1.1"/>
<path d="M1214 1716.8 1214.5 1719" fill="none" stroke="#000" stroke-width="1.1"/>
<path d="M1218.4 1714.5 1218.9 1716.6" fill="none" stroke="#000" stroke-width="1.1"/>
<path d="M1222.8 1712.1 1223.2 1714.3" fill="none" stroke="#000" stroke-width="1.1"/>
<path d="M1227.2 1709.8 1227.6 1711.9" fill="none" stroke="#000" stroke-width="1.1"/>
<path d="M1231.5 1707.4 1232 1709.6" fill="none" stroke="#000" stroke-width="1.1"/>
<path d="M1235.9 1705.1 1236.4 1707.2" fill="none" stroke="#000" stroke-width="1.1"/>
<path d="M1240.3 1702.7 1240.8 1704.9" fill="none" stroke="#000" stroke-width="1.1"/>
<path d="M1244.7 1700.4 1245.2 1702.5" fill="none" stroke="#000" stroke-width="1.1"/>
<path d="M1249.1 1698.1 1249.5 1700.2" fill="none" stroke="#000" stroke-width="1.1"/>
<path d="M1253.5 1695.7 1253.9 1697.8" fill="none" stroke="#000" stroke-width="1.1"/>
<path d="M1257.8 1693.4 1258.3 1695.5" fill="none" stroke="#000" stroke-width="1.1"/>
<path d="M1262.2 1691 1262.7 1693.2" fill="none" stroke="#000" stroke-width="1.1"/>
<path d="M1266.6 1688.7 1267.1 1690.8" fill="none" stroke="#000" stroke-width="1.1"/>
<path d="M1271 1686.3 1271.5 1688.5" fill="none" stroke="#000" stroke-width="1.1"/>
<path d="M1275.4 1684 1275.9 1686.1" fill="none" stroke="#000" stroke-width="1.1"/>
<path d="M1279.8 1681.6 1280.2 1683.8" fill="none" stroke="#000" stroke-width="1.1"/>
<path d="M1284.1 1679.3 1284.6 1681.4" fill="none" stroke="#000" stroke-width="1.1"/>
<path d="M1288.5 1676.9 1289 1679.1" fill="none" stroke="#000" stroke-width="1.1"/>
<path d="M1292.9 1674.6 1293.4 1676.7" fill="none" stroke="#000" stroke-width="1.1"/>
<path d="M1297.3 1672.3 1297.8 1674.4" fill="none" stroke="#000" stroke-width="1.1"/>
<path d="M1301.7 1669.9 1302.2 1672" fill="none" stroke="#000" stroke-width="1.1"/>
<path d="M1306.1 1667.6 1306.5 1669.7" fill="none" stroke="#000" stroke-width="1.1"/>
<path d="M1310.5 1665.2 1310.9 1667.3" fill="none" stroke="#000" stroke-width="1.1"/>
<path d="M1141.8 1762 1173.8 1746.6 1173.8 1768 1145.4 1771.5Z" fill="none" stroke="#000" stroke-width="1.1"/>
<path d="M1146.6 1769.1 1147.8 1762" fill="none" stroke="#000" stroke-width="1" stroke-dasharray="4 3"/>
<path d="M1150.7 1768.2 1151.9 1760" fill="none" stroke="#000" stroke-width="1" stroke-dasharray="4 3"/>
<path d="M1154.9 1767.3 1156.1 1758" fill="none" stroke="#000" stroke-width="1" stroke-dasharray="4 3"/>
<path d="M1159 1766.3 1160.2 1756" fill="none" stroke="#000" stroke-width="1" stroke-dasharray="4 3"/>
<path d="M1163.2 1765.4 1164.4 1754" fill="none" stroke="#000" stroke-width="1" stroke-dasharray="4 3"/>
<path d="M1167.3 1764.4 1168.5 1752" fill="none" stroke="#000" stroke-width="1" stroke-dasharray="4 3"/>
<path d="M1171.5 1763.5 1172.7 1750" fill="none" stroke="#000" stroke-width="1" stroke-dasharray="4 3"/>
<path d="M1179.8 1743.1 1179.8 1792.8 1186.9 1795.2" fill="none" stroke="#000" stroke-width="1.4"/>
<path d="M1179.8 1743.1 1186.9 1740.7" fill="none" stroke="#000" stroke-width="1.2"/>
<path d="M1191.6 1757.3 1191 1755.8 1190.3 1753.6 1190.4 1751.4 1188.2 1751.6 1186.8 1751.8 1196.4 1745.5 1227.4 1725.9 1269.4 1699.8 1300.6 1680.9 1310.4 1675.8 1309.3 1677.8 1307.7 1680.3 1309 1681.1 1309.8 1682.3 1310.1 1683.8 1313.3 1683.8 1316.1 1683.9 1307.7 1689.8 1277.7 1706.7 1236.6 1729.3 1205.8 1746.6 1195.6 1753.6 1195.7 1755.3 1196.4 1756.1 1194.2 1757.2 1192.7 1757.3 1191.6 1757.3Z" fill="none" stroke="#000" stroke-width="1.6"/>
<path d="M1203.5 1745.5 1305.4 1685" fill="none" stroke="#000" stroke-width="1" stroke-dasharray="3 2"/>
<path d="M1212.9 1741.9 1212.9 1731.2" fill="none" stroke="#000" stroke-width="1.3"/>
<path d="M1218.3 1738.8 1218.3 1728.2" fill="none" stroke="#000" stroke-width="1.3"/>
<path d="M1223.6 1735.7 1223.6 1725.1" fill="none" stroke="#000" stroke-width="1.3"/>
<path d="M1228.9 1732.7 1228.9 1722" fill="none" stroke="#000" stroke-width="1.3"/>
<path d="M1234.3 1729.6 1234.3 1718.9" fill="none" stroke="#000" stroke-width="1.3"/>
<path d="M1239.6 1726.5 1239.6 1715.8" fill="none" stroke="#000" stroke-width="1.3"/>
<path d="M1244.9 1723.4 1244.9 1712.7" fill="none" stroke="#000" stroke-width="1.3"/>
<path d="M1250.3 1720.3 1250.3 1709.7" fill="none" stroke="#000" stroke-width="1.3"/>
<path d="M1255.6 1717.3 1255.6 1706.6" fill="none" stroke="#000" stroke-width="1.3"/>
<path d="M1260.9 1714.2 1260.9 1703.5" fill="none" stroke="#000" stroke-width="1.3"/>
<path d="M1266.3 1711.1 1266.3 1700.4" fill="none" stroke="#000" stroke-width="1.3"/>
<path d="M1271.6 1708 1271.6 1697.3" fill="none" stroke="#000" stroke-width="1.3"/>
<path d="M1276.9 1704.9 1276.9 1694.3" fill="none" stroke="#000" stroke-width="1.3"/>
<path d="M1282.3 1701.8 1282.3 1691.2" fill="none" stroke="#000" stroke-width="1.3"/>
<path d="M1205.8 1732.4 1301.8 1679.1" fill="none" stroke="#000" stroke-width="1.1"/>
<path d="M1242.6 1721.8 1240.2 1706.4 1254.4 1715.8" fill="none" stroke="#000" stroke-width="1.2"/>
<path d="M1274.5 1704 1272.2 1689.8 1286.4 1696.9" fill="none" stroke="#000" stroke-width="1.2"/>
<path d="M1288.8 1711.1 1307.7 1685" fill="none" stroke="#000" stroke-width="1.3"/>
<ellipse cx="1315.4" cy="1720.6" rx="2.1" ry="3.6" transform="rotate(0 1315.4 1720.6)" fill="none" stroke="#000" stroke-width="1.3"/>
<ellipse cx="1315.4" cy="1753.7" rx="2.1" ry="3.6" transform="rotate(0 1315.4 1753.7)" fill="none" stroke="#000" stroke-width="1.3"/>
<ellipse cx="1314.2" cy="1664.3" rx="3.8" ry="3.8" transform="rotate(0 1314.2 1664.3)" fill="#fff" stroke="#000" stroke-width="1.6"/>
<path d="M1141.8 1841.4 1183.3 1861.6 1311.9 1788.1" fill="none" stroke="#000" stroke-width="1.2"/>
<path d="M1178.6 1862.7 1178.6 1871" fill="none" stroke="#000" stroke-width="1.1"/>
<path d="M1247.3 1827.2 1247.3 1831.9" fill="none" stroke="#000" stroke-width="1.1"/>
<path d="M1283.6 1856.2 1274.7 1822.1" fill="none" stroke="#000" stroke-width="2.4"/>
<text class="lb" x="1290.7" y="1878.4" text-anchor="middle" font-size="22">2</text>
<text class="bd" x="1255.5" y="1941.5" font-size="22.8">REIDW5905JB0A</text>
<path d="M1332 1584.8 1355.4 1563.5 1356.9 1557.7 1368.6 1551.8 1374.5 1554 1403.8 1540.1 1415.5 1540.8 1436 1553.3 1440.4 1562.1 1438.9 1569.4 1430.1 1579.6 1377.4 1610.4 1365.7 1606 1364.2 1601.6 1348.1 1601.6 1346.6 1595.8Z" fill="#fff" stroke="#000" stroke-width="1.8"/>
<path d="M1355.4 1563.5 1356.9 1557.7 1368.6 1551.8 1374.5 1554 1372.3 1558.4 1359.1 1565Z" fill="#fff" stroke="#000" stroke-width="1.4"/>
<path d="M1349 1577.8 1353.1 1578.7 1357 1580.8 1358.6 1583.2 1356.3 1585.7 1351.7 1588.5 1347.4 1589.9 1343.3 1589.1 1339.4 1586.9 1337.8 1584.6Z" fill="none" stroke="#000" stroke-width="1.7"/>
<path d="M1361.2 1584.7 1365.3 1585.5 1369.2 1587.7 1370.8 1590 1368.5 1592.6 1363.9 1595.3 1359.6 1596.7 1355.5 1595.9 1351.6 1593.7 1350 1591.4Z" fill="none" stroke="#000" stroke-width="1.7"/>
<path d="M1373.5 1591.5 1377.5 1592.3 1381.4 1594.5 1383 1596.8 1380.7 1599.4 1376.2 1602.2 1371.8 1603.6 1367.7 1602.7 1363.8 1600.6 1362.3 1598.2Z" fill="none" stroke="#000" stroke-width="1.7"/>
<path d="M1363.4 1569.2 1367.5 1570 1371.3 1572.2 1372.9 1574.5 1370.7 1577.1 1366.1 1579.8 1361.7 1581.3 1357.6 1580.4 1353.8 1578.2 1352.2 1575.9Z" fill="none" stroke="#000" stroke-width="1.7"/>
<path d="M1375.6 1576 1379.7 1576.8 1383.5 1579 1385.1 1581.3 1382.9 1583.9 1378.3 1586.7 1373.9 1588.1 1369.9 1587.3 1366 1585.1 1364.4 1582.8Z" fill="none" stroke="#000" stroke-width="1.7"/>
<path d="M1387.8 1582.9 1391.9 1583.7 1395.8 1585.9 1397.3 1588.2 1395.1 1590.8 1390.5 1593.5 1386.1 1594.9 1382.1 1594.1 1378.2 1591.9 1376.6 1589.6Z" fill="none" stroke="#000" stroke-width="1.7"/>
<path d="M1377.7 1560.5 1381.8 1561.4 1385.7 1563.5 1387.3 1565.9 1385 1568.5 1380.4 1571.2 1376.1 1572.6 1372 1571.8 1368.1 1569.6 1366.5 1567.3Z" fill="none" stroke="#000" stroke-width="1.7"/>
<path d="M1390 1567.4 1394 1568.2 1397.9 1570.4 1399.5 1572.7 1397.2 1575.3 1392.7 1578 1388.3 1579.4 1384.2 1578.6 1380.3 1576.4 1378.8 1574.1Z" fill="none" stroke="#000" stroke-width="1.7"/>
<path d="M1402.2 1574.2 1406.2 1575 1410.1 1577.2 1411.7 1579.5 1409.4 1582.1 1404.9 1584.9 1400.5 1586.3 1396.4 1585.5 1392.5 1583.3 1391 1580.9Z" fill="none" stroke="#000" stroke-width="1.7"/>
<path d="M1392.1 1551.9 1396.2 1552.7 1400.1 1554.9 1401.6 1557.2 1399.4 1559.8 1394.8 1562.6 1390.4 1564 1386.4 1563.1 1382.5 1561 1380.9 1558.6Z" fill="none" stroke="#000" stroke-width="1.7"/>
<path d="M1404.3 1558.7 1408.4 1559.6 1412.3 1561.7 1413.8 1564.1 1411.6 1566.6 1407 1569.4 1402.6 1570.8 1398.6 1570 1394.7 1567.8 1393.1 1565.5Z" fill="none" stroke="#000" stroke-width="1.7"/>
<path d="M1416.5 1565.6 1420.6 1566.4 1424.5 1568.6 1426.1 1570.9 1423.8 1573.5 1419.2 1576.2 1414.9 1577.6 1410.8 1576.8 1406.9 1574.6 1405.3 1572.3Z" fill="none" stroke="#000" stroke-width="1.7"/>
<path d="M1406.5 1543.2 1410.5 1544.1 1414.4 1546.2 1416 1548.6 1413.7 1551.2 1409.2 1553.9 1404.8 1555.3 1400.7 1554.5 1396.8 1552.3 1395.3 1550Z" fill="none" stroke="#000" stroke-width="1.7"/>
<path d="M1418.7 1550.1 1422.7 1550.9 1426.6 1553.1 1428.2 1555.4 1425.9 1558 1421.4 1560.8 1417 1562.2 1412.9 1561.3 1409.1 1559.2 1407.5 1556.8Z" fill="none" stroke="#000" stroke-width="1.7"/>
<path d="M1430.9 1556.9 1435 1557.7 1438.8 1559.9 1440.4 1562.3 1438.2 1564.8 1433.6 1567.6 1429.2 1569 1425.1 1568.2 1421.3 1566 1419.7 1563.7Z" fill="none" stroke="#000" stroke-width="1.7"/>
<path d="M1334.9 1584.8 1371.5 1605.3" fill="none" stroke="#000" stroke-width="0.8"/>
<path d="M1349.3 1576.1 1385.9 1596.6" fill="none" stroke="#000" stroke-width="0.8"/>
<path d="M1363.6 1567.5 1400.3 1588" fill="none" stroke="#000" stroke-width="0.8"/>
<path d="M1378 1558.8 1414.6 1579.3" fill="none" stroke="#000" stroke-width="0.8"/>
<path d="M1392.3 1550.2 1429 1570.7" fill="none" stroke="#000" stroke-width="0.8"/>
<path d="M1406.7 1541.5 1443.3 1562.1" fill="none" stroke="#000" stroke-width="0.8"/>
<path d="M1334.9 1584.8 1406.7 1541.5" fill="none" stroke="#000" stroke-width="0.8"/>
<path d="M1347.1 1591.6 1418.9 1548.4" fill="none" stroke="#000" stroke-width="0.8"/>
<path d="M1359.3 1598.4 1431.1 1555.2" fill="none" stroke="#000" stroke-width="0.8"/>
<path d="M1371.5 1605.3 1443.3 1562.1" fill="none" stroke="#000" stroke-width="0.8"/>
<path d="M1333.4 1587 1348.1 1599.4 1365.7 1603.8 1377.4 1608.2 1430.1 1577.4 1438.9 1567.2" fill="none" stroke="#000" stroke-width="1.1"/>
<path d="M1356.2 1518.5 1363.6 1554" fill="none" stroke="#000" stroke-width="2.3"/>
<text class="lb" x="1355.4" y="1514.1" text-anchor="middle" font-size="22">16A</text>
<path d="M1326.8 1651.4 1403.8 1608.2 1438.9 1608.9 1440.4 1641.2 1439.7 1720.3 1433.1 1729.1 1371.5 1762.1 1365.7 1761.3 1351 1751.1 1349.6 1745.2 1334.9 1742.3 1327.6 1734.9 1325.4 1670.5Z" fill="#fff" stroke="#000" stroke-width="1.8"/>
<path d="M1326.4 1664.9 1329 1729.1" fill="none" stroke="#000" stroke-width="2" stroke-dasharray="5.7 3.5" stroke-dashoffset="0.0" stroke-linecap="butt"/>
<path d="M1329.5 1665.6 1331.7 1730.3" fill="none" stroke="#000" stroke-width="0.8"/>
<path d="M1332.6 1666.2 1334.4 1731.5" fill="none" stroke="#000" stroke-width="2" stroke-dasharray="5.8 3.5" stroke-dashoffset="4.7" stroke-linecap="butt"/>
<path d="M1335.7 1666.9 1337 1732.7" fill="none" stroke="#000" stroke-width="0.8"/>
<path d="M1338.8 1667.6 1339.7 1733.8" fill="none" stroke="#000" stroke-width="2" stroke-dasharray="5.9 3.6" stroke-dashoffset="0.0" stroke-linecap="butt"/>
<path d="M1341.9 1668.3 1342.3 1735" fill="none" stroke="#000" stroke-width="0.8"/>
<path d="M1345 1668.9 1345 1736.2" fill="none" stroke="#000" stroke-width="2" stroke-dasharray="6.0 3.7" stroke-dashoffset="4.8" stroke-linecap="butt"/>
<path d="M1348.1 1669.6 1347.6 1737.4" fill="none" stroke="#000" stroke-width="0.8"/>
<path d="M1351.2 1670.3 1350.3 1738.6" fill="none" stroke="#000" stroke-width="2" stroke-dasharray="6.1 3.7" stroke-dashoffset="0.0" stroke-linecap="butt"/>
<path d="M1354.3 1670.9 1352.9 1739.8" fill="none" stroke="#000" stroke-width="0.8"/>
<path d="M1357.4 1671.6 1355.6 1741" fill="none" stroke="#000" stroke-width="2" stroke-dasharray="6.1 3.8" stroke-dashoffset="5.0" stroke-linecap="butt"/>
<path d="M1360.5 1672.3 1358.3 1742.2" fill="none" stroke="#000" stroke-width="0.8"/>
<path d="M1363.6 1672.9 1360.9 1743.4" fill="none" stroke="#000" stroke-width="2" stroke-dasharray="6.2 3.8" stroke-dashoffset="0.0" stroke-linecap="butt"/>
<path d="M1366.6 1673.6 1363.6 1744.6" fill="none" stroke="#000" stroke-width="0.8"/>
<path d="M1369.7 1674.3 1366.2 1745.8" fill="none" stroke="#000" stroke-width="2" stroke-dasharray="6.3 3.9" stroke-dashoffset="5.1" stroke-linecap="butt"/>
<path d="M1372.8 1674.9 1368.9 1746.9" fill="none" stroke="#000" stroke-width="0.8"/>
<path d="M1375.9 1675.6 1371.5 1748.1" fill="none" stroke="#000" stroke-width="2" stroke-dasharray="6.4 3.9" stroke-dashoffset="0.0" stroke-linecap="butt"/>
<path d="M1326.4 1664.9 1375.9 1675.6" fill="none" stroke="#000" stroke-width="0.8"/>
<path d="M1326.8 1674.1 1375.3 1686" fill="none" stroke="#000" stroke-width="0.8"/>
<path d="M1327.2 1683.2 1374.7 1696.3" fill="none" stroke="#000" stroke-width="0.8"/>
<path d="M1327.5 1692.4 1374.1 1706.7" fill="none" stroke="#000" stroke-width="0.8"/>
<path d="M1327.9 1701.6 1373.4 1717" fill="none" stroke="#000" stroke-width="0.8"/>
<path d="M1328.3 1710.7 1372.8 1727.4" fill="none" stroke="#000" stroke-width="0.8"/>
<path d="M1328.7 1719.9 1372.2 1737.8" fill="none" stroke="#000" stroke-width="0.8"/>
<path d="M1329 1729.1 1371.5 1748.1" fill="none" stroke="#000" stroke-width="0.8"/>
<path d="M1375.9 1675.6 1371.5 1748.1" fill="none" stroke="#000" stroke-width="2" stroke-dasharray="6.4 3.9" stroke-dashoffset="0.0" stroke-linecap="butt"/>
<path d="M1378.8 1674 1374.6 1746.7" fill="none" stroke="#000" stroke-width="0.8"/>
<path d="M1381.7 1672.5 1377.7 1745.3" fill="none" stroke="#000" stroke-width="2" stroke-dasharray="6.5 4.0" stroke-dashoffset="5.2" stroke-linecap="butt"/>
<path d="M1384.5 1670.9 1380.7 1743.9" fill="none" stroke="#000" stroke-width="0.8"/>
<path d="M1387.4 1669.3 1383.8 1742.5" fill="none" stroke="#000" stroke-width="2" stroke-dasharray="6.5 4.0" stroke-dashoffset="0.0" stroke-linecap="butt"/>
<path d="M1390.3 1667.8 1386.9 1741.1" fill="none" stroke="#000" stroke-width="0.8"/>
<path d="M1393.1 1666.2 1389.9 1739.7" fill="none" stroke="#000" stroke-width="2" stroke-dasharray="6.5 4.0" stroke-dashoffset="5.3" stroke-linecap="butt"/>
<path d="M1396 1664.6 1393 1738.3" fill="none" stroke="#000" stroke-width="0.8"/>
<path d="M1398.8 1663.1 1396 1736.9" fill="none" stroke="#000" stroke-width="2" stroke-dasharray="6.5 4.0" stroke-dashoffset="0.0" stroke-linecap="butt"/>
<path d="M1401.7 1661.5 1399.1 1735.5" fill="none" stroke="#000" stroke-width="0.8"/>
<path d="M1404.6 1660 1402.2 1734.1" fill="none" stroke="#000" stroke-width="2" stroke-dasharray="6.6 4.0" stroke-dashoffset="5.3" stroke-linecap="butt"/>
<path d="M1407.4 1658.4 1405.2 1732.7" fill="none" stroke="#000" stroke-width="0.8"/>
<path d="M1410.3 1656.8 1408.3 1731.3" fill="none" stroke="#000" stroke-width="2" stroke-dasharray="6.6 4.0" stroke-dashoffset="0.0" stroke-linecap="butt"/>
<path d="M1413.2 1655.3 1411.4 1730" fill="none" stroke="#000" stroke-width="0.8"/>
<path d="M1416 1653.7 1414.4 1728.6" fill="none" stroke="#000" stroke-width="2" stroke-dasharray="6.6 4.1" stroke-dashoffset="5.3" stroke-linecap="butt"/>
<path d="M1418.9 1652.1 1417.5 1727.2" fill="none" stroke="#000" stroke-width="0.8"/>
<path d="M1421.8 1650.6 1420.6 1725.8" fill="none" stroke="#000" stroke-width="2" stroke-dasharray="6.7 4.1" stroke-dashoffset="0.0" stroke-linecap="butt"/>
<path d="M1424.6 1649 1423.6 1724.4" fill="none" stroke="#000" stroke-width="0.8"/>
<path d="M1427.5 1647.4 1426.7 1723" fill="none" stroke="#000" stroke-width="2" stroke-dasharray="6.7 4.1" stroke-dashoffset="5.4" stroke-linecap="butt"/>
<path d="M1430.3 1645.9 1429.7 1721.6" fill="none" stroke="#000" stroke-width="0.8"/>
<path d="M1433.2 1644.3 1432.8 1720.2" fill="none" stroke="#000" stroke-width="2" stroke-dasharray="6.7 4.1" stroke-dashoffset="0.0" stroke-linecap="butt"/>
<path d="M1436.1 1642.7 1435.9 1718.8" fill="none" stroke="#000" stroke-width="0.8"/>
<path d="M1438.9 1641.2 1438.9 1717.4" fill="none" stroke="#000" stroke-width="2" stroke-dasharray="6.7 4.1" stroke-dashoffset="5.4" stroke-linecap="butt"/>
<path d="M1375.9 1675.6 1438.9 1641.2" fill="none" stroke="#000" stroke-width="0.8"/>
<path d="M1375.3 1686 1438.9 1652.1" fill="none" stroke="#000" stroke-width="0.8"/>
<path d="M1374.7 1696.3 1438.9 1662.9" fill="none" stroke="#000" stroke-width="0.8"/>
<path d="M1374.1 1706.7 1438.9 1673.8" fill="none" stroke="#000" stroke-width="0.8"/>
<path d="M1373.4 1717 1438.9 1684.7" fill="none" stroke="#000" stroke-width="0.8"/>
<path d="M1372.8 1727.4 1438.9 1695.6" fill="none" stroke="#000" stroke-width="0.8"/>
<path d="M1372.2 1737.8 1438.9 1706.5" fill="none" stroke="#000" stroke-width="0.8"/>
<path d="M1371.5 1748.1 1438.9 1717.4" fill="none" stroke="#000" stroke-width="0.8"/>
<path d="M1326.8 1652.9 1354 1660.2 1375.9 1673.4 1439.7 1639" fill="none" stroke="#000" stroke-width="1.3"/>
<path d="M1332 1655.8 1403.8 1615.5 1437.5 1615.5" fill="none" stroke="#000" stroke-width="1.1" stroke-dasharray="3 2"/>
<path d="M1343.7 1653.6 1343.7 1644.1" fill="none" stroke="#000" stroke-width="1.5"/>
<path d="M1349.3 1650.5 1349.3 1641" fill="none" stroke="#000" stroke-width="1.5"/>
<path d="M1354.8 1647.5 1354.8 1637.9" fill="none" stroke="#000" stroke-width="1.5"/>
<path d="M1360.4 1644.4 1360.4 1634.9" fill="none" stroke="#000" stroke-width="1.5"/>
<path d="M1366 1641.3 1366 1631.8" fill="none" stroke="#000" stroke-width="1.5"/>
<path d="M1371.5 1638.2 1371.5 1628.7" fill="none" stroke="#000" stroke-width="1.5"/>
<path d="M1377.1 1635.2 1377.1 1625.6" fill="none" stroke="#000" stroke-width="1.5"/>
<path d="M1382.7 1632.1 1382.7 1622.6" fill="none" stroke="#000" stroke-width="1.5"/>
<path d="M1388.2 1629 1388.2 1619.5" fill="none" stroke="#000" stroke-width="1.5"/>
<path d="M1393.8 1625.9 1393.8 1616.4" fill="none" stroke="#000" stroke-width="1.5"/>
<path d="M1399.4 1622.9 1399.4 1613.3" fill="none" stroke="#000" stroke-width="1.5"/>
<path d="M1404.9 1619.8 1404.9 1610.3" fill="none" stroke="#000" stroke-width="1.5"/>
<path d="M1410.5 1616.7 1410.5 1607.2" fill="none" stroke="#000" stroke-width="1.5"/>
<path d="M1375.2 1638.2 1375.2 1657.3" fill="none" stroke="#000" stroke-width="1.3"/>
<path d="M1381.8 1658.8 1381.1 1656 1380.3 1652.1 1380.3 1648.5 1380.7 1646.1 1381.8 1644 1386.2 1641.2 1396.8 1636.2 1410.6 1630.5 1421.4 1626.5 1426.2 1625.6 1427.9 1626.5 1428.7 1628 1429.3 1629.8 1429 1632.2 1427.2 1635.3 1423.6 1639.3 1418.6 1643.9 1412.6 1648.5 1404.8 1653.2 1396.1 1657.9 1389.1 1661 1385.2 1661.2 1383.1 1659.9 1381.8 1658.8Z" fill="#fff" stroke="#000" stroke-width="1.7"/>
<path d="M1384.7 1655.8 1384.3 1654.3 1383.8 1652.1 1384 1650 1384.3 1648.3 1385.3 1646.6 1389.1 1644.1 1398.5 1639.7 1410.6 1634.6 1419.9 1630.9 1423.5 1630 1424.2 1630.6 1424.3 1631.6 1424.6 1632.7 1424.3 1634.1 1422.8 1636 1420 1638.8 1416 1642.1 1411.1 1645.6 1404.4 1649.6 1396.7 1653.7 1390.6 1656.6 1387.3 1657.2 1385.7 1656.4 1384.7 1655.8Z" fill="none" stroke="#000" stroke-width="1.1"/>
<path d="M1389.1 1652.9 1389.9 1645.6" fill="none" stroke="#000" stroke-width="1.3"/>
<path d="M1394.7 1649.7 1395.4 1642.3" fill="none" stroke="#000" stroke-width="1.3"/>
<path d="M1400.3 1646.4 1401 1639.1" fill="none" stroke="#000" stroke-width="1.3"/>
<path d="M1405.8 1643.2 1406.6 1635.9" fill="none" stroke="#000" stroke-width="1.3"/>
<path d="M1411.4 1640 1412.1 1632.7" fill="none" stroke="#000" stroke-width="1.3"/>
<path d="M1417 1636.8 1417.7 1629.5" fill="none" stroke="#000" stroke-width="1.3"/>
<path d="M1383.3 1648.5 1386.2 1657.3" fill="none" stroke="#000" stroke-width="3"/>
<path d="M1327.6 1732 1371.5 1751.1 1438.9 1718.8" fill="none" stroke="#000" stroke-width="1.2"/>
<path d="M1369.3 1751.1 1369.3 1761.3" fill="none" stroke="#000" stroke-width="1.1"/>
<path d="M1389.1 1751 1394.2 1781.1" fill="none" stroke="#000" stroke-width="2.4"/>
<text class="lb" x="1397.6" y="1808.8" text-anchor="middle" font-size="22">2A</text>
</svg>
</body></html>
